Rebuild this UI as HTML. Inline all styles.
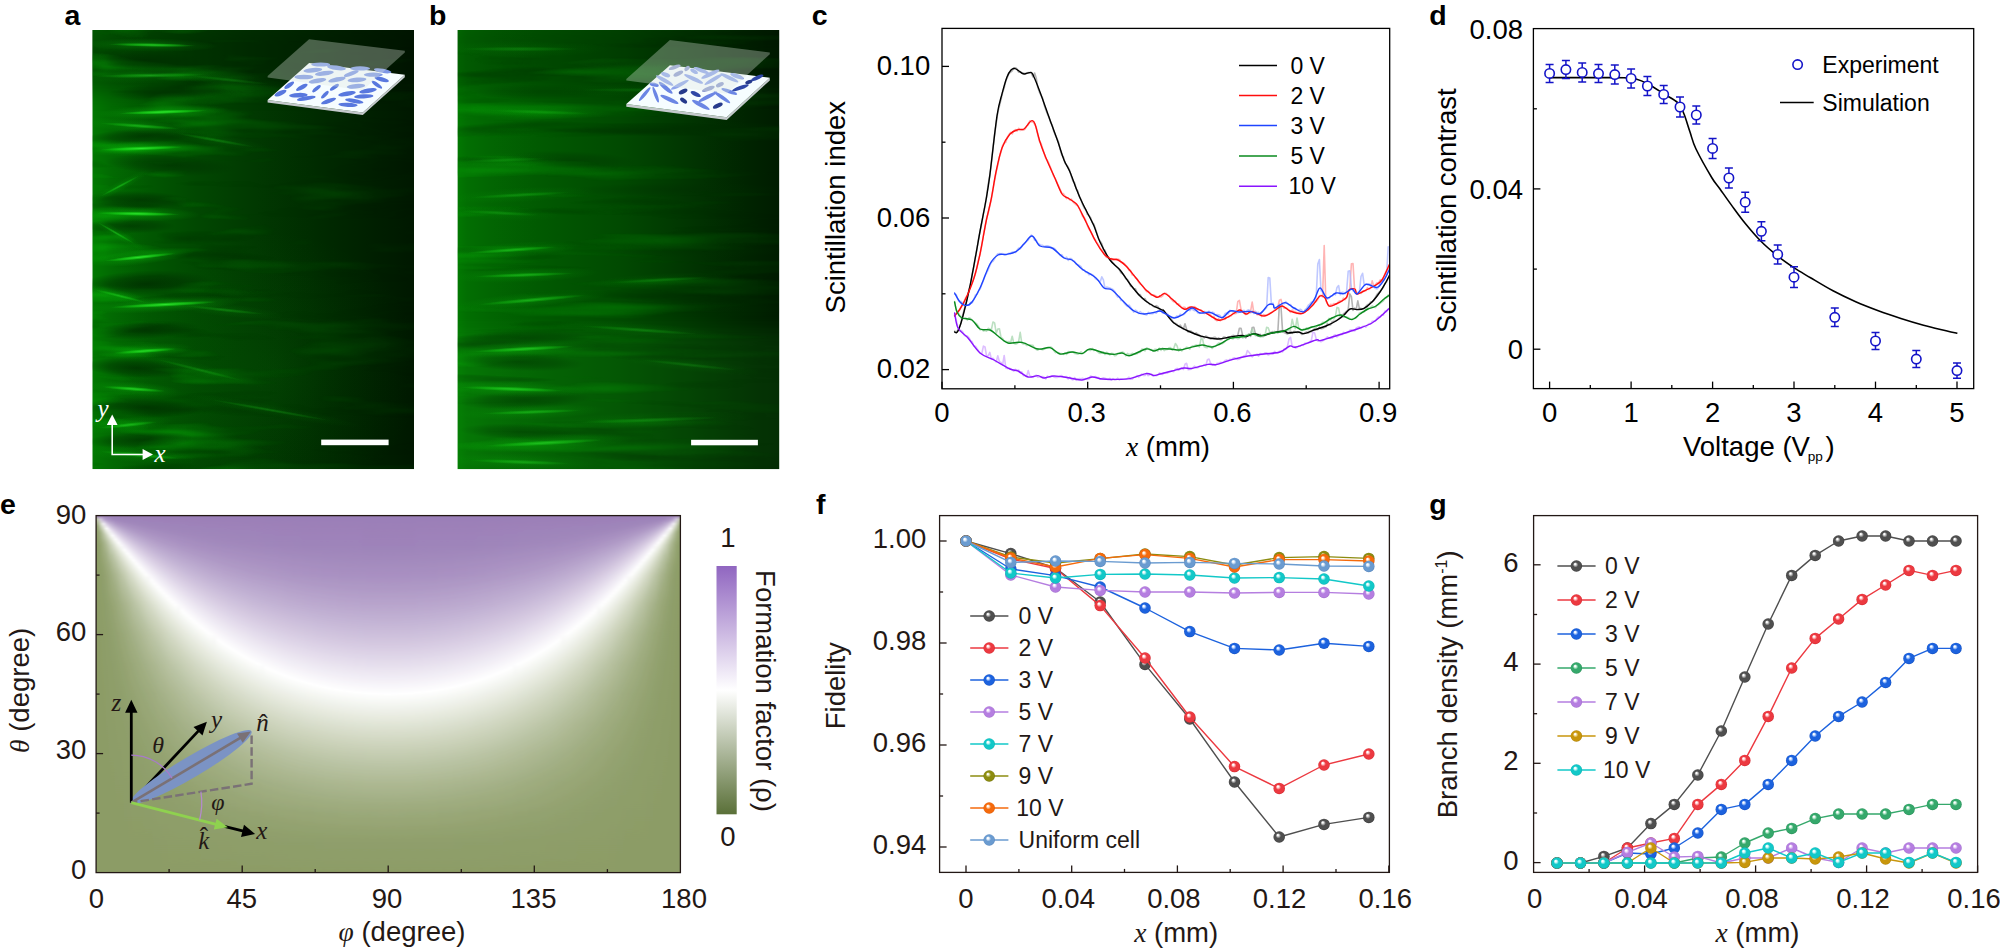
<!DOCTYPE html>
<html><head><meta charset="utf-8"><title>Figure</title>
<style>html,body{margin:0;padding:0;background:#fff;overflow:hidden}svg{display:block}text{white-space:pre}</style></head>
<body>
<svg width="2000" height="951" viewBox="0 0 2000 951">
<rect width="2000" height="951" fill="#fff"/>
<defs>
<filter id="blur8" x="-20%" y="-50%" width="140%" height="200%"><feGaussianBlur stdDeviation="10"/></filter>
<filter id="blur3" x="-30%" y="-100%" width="160%" height="300%"><feGaussianBlur stdDeviation="3.5"/></filter>
<filter id="blur2" x="-30%" y="-300%" width="160%" height="700%"><feGaussianBlur stdDeviation="2.2 1.3"/></filter>
<radialGradient id="rgB"><stop offset="0" stop-color="#12d812" stop-opacity="1"/><stop offset="0.5" stop-color="#0ecc0e" stop-opacity="0.45"/><stop offset="1" stop-color="#08c008" stop-opacity="0"/></radialGradient>
<radialGradient id="rgC"><stop offset="0" stop-color="#34f034" stop-opacity="1"/><stop offset="0.55" stop-color="#1ce41c" stop-opacity="0.6"/><stop offset="1" stop-color="#12d812" stop-opacity="0"/></radialGradient>
<radialGradient id="rgD"><stop offset="0" stop-color="#002c00" stop-opacity="1"/><stop offset="0.55" stop-color="#002e00" stop-opacity="0.6"/><stop offset="1" stop-color="#003000" stop-opacity="0"/></radialGradient>
<filter id="fta" x="0" y="0" width="1" height="1" color-interpolation-filters="sRGB"><feTurbulence type="fractalNoise" baseFrequency="0.007 0.05" numOctaves="3" seed="11" result="n"/><feColorMatrix in="n" type="matrix" values="0 0 0 0 0.04  0 0 0 0 0.86  0 0 0 0 0.04  0 2.2 0 0 -1.2" result="b"/><feColorMatrix in="n" type="matrix" values="0 0 0 0 0  0 0 0 0 0.08  0 0 0 0 0  -2.4 0 0 0 1.0" result="d"/><feMerge result="m"><feMergeNode in="d"/><feMergeNode in="b"/></feMerge><feComposite in="m" in2="SourceGraphic" operator="in"/></filter>
<filter id="ftb" x="0" y="0" width="1" height="1" color-interpolation-filters="sRGB"><feTurbulence type="fractalNoise" baseFrequency="0.0035 0.05" numOctaves="3" seed="4" result="n"/><feColorMatrix in="n" type="matrix" values="0 0 0 0 0.04  0 0 0 0 0.86  0 0 0 0 0.04  0 1.5 0 0 -0.82" result="b"/><feColorMatrix in="n" type="matrix" values="0 0 0 0 0  0 0 0 0 0.08  0 0 0 0 0  -2.2 0 0 0 0.92" result="d"/><feMerge result="m"><feMergeNode in="d"/><feMergeNode in="b"/></feMerge><feComposite in="m" in2="SourceGraphic" operator="in"/></filter>
<clipPath id="cpa"><rect x="92.3" y="30" width="321.7" height="439.2"/></clipPath>
<linearGradient id="gga" x1="0" x2="1" y1="0" y2="0"><stop offset="0" stop-color="#027802"/><stop offset="0.06" stop-color="#026a02"/><stop offset="0.18" stop-color="#015701"/><stop offset="0.33" stop-color="#014701"/><stop offset="0.5" stop-color="#013901"/><stop offset="0.7" stop-color="#002b00"/><stop offset="0.88" stop-color="#001f00"/><stop offset="1" stop-color="#001800"/></linearGradient>
<linearGradient id="gma" x1="0" x2="1" y1="0" y2="0"><stop offset="0" stop-color="#fff" stop-opacity="0.4"/><stop offset="0.04" stop-color="#fff" stop-opacity="0.6"/><stop offset="0.22" stop-color="#fff" stop-opacity="0.6"/><stop offset="0.36" stop-color="#fff" stop-opacity="0.4"/><stop offset="0.55" stop-color="#fff" stop-opacity="0.2"/><stop offset="1" stop-color="#fff" stop-opacity="0.1"/></linearGradient>
<clipPath id="cpb"><rect x="457.4" y="30" width="322" height="439.2"/></clipPath>
<linearGradient id="ggb" x1="0" x2="1" y1="0" y2="0"><stop offset="0" stop-color="#027802"/><stop offset="0.03" stop-color="#026e02"/><stop offset="0.1" stop-color="#026602"/><stop offset="0.25" stop-color="#015a01"/><stop offset="0.5" stop-color="#014a01"/><stop offset="0.75" stop-color="#013201"/><stop offset="0.9" stop-color="#002400"/><stop offset="1" stop-color="#001c00"/></linearGradient>
<linearGradient id="gmb" x1="0" x2="1" y1="0" y2="0"><stop offset="0" stop-color="#fff" stop-opacity="0.55"/><stop offset="0.05" stop-color="#fff" stop-opacity="0.7"/><stop offset="0.4" stop-color="#fff" stop-opacity="0.55"/><stop offset="0.7" stop-color="#fff" stop-opacity="0.35"/><stop offset="1" stop-color="#fff" stop-opacity="0.22"/></linearGradient>
<clipPath id="cpc"><rect x="942" y="28.4" width="447.70000000000005" height="360.40000000000003"/></clipPath>
<linearGradient id="h0" x1="0" y1="0" x2="0" y2="1"><stop offset="0.0000" stop-color="#9a7eb7"/><stop offset="0.0102" stop-color="#bac3a3"/><stop offset="0.0292" stop-color="#92a16e"/><stop offset="0.0833" stop-color="#8c9c66"/><stop offset="0.1667" stop-color="#8b9b65"/><stop offset="0.2500" stop-color="#8b9b65"/><stop offset="0.3333" stop-color="#8b9b65"/><stop offset="0.4167" stop-color="#8b9b65"/><stop offset="0.5000" stop-color="#8b9b65"/><stop offset="0.5833" stop-color="#8b9b65"/><stop offset="0.6667" stop-color="#8b9b65"/><stop offset="0.7500" stop-color="#8b9b65"/><stop offset="0.8333" stop-color="#8b9b65"/><stop offset="0.9167" stop-color="#8b9b65"/><stop offset="1.0000" stop-color="#8b9b65"/></linearGradient>
<linearGradient id="h1" x1="0" y1="0" x2="0" y2="1"><stop offset="0.0000" stop-color="#9a7eb7"/><stop offset="0.0101" stop-color="#d7cce2"/><stop offset="0.0236" stop-color="#d0d7c1"/><stop offset="0.0461" stop-color="#a2af84"/><stop offset="0.0833" stop-color="#93a26f"/><stop offset="0.1667" stop-color="#8d9d67"/><stop offset="0.2500" stop-color="#8c9c66"/><stop offset="0.3333" stop-color="#8b9b66"/><stop offset="0.4167" stop-color="#8b9b65"/><stop offset="0.5000" stop-color="#8b9b65"/><stop offset="0.5833" stop-color="#8b9b65"/><stop offset="0.6667" stop-color="#8b9b65"/><stop offset="0.7500" stop-color="#8b9b65"/><stop offset="0.8333" stop-color="#8b9b65"/><stop offset="0.9167" stop-color="#8b9b65"/><stop offset="1.0000" stop-color="#8b9b65"/></linearGradient>
<linearGradient id="h2" x1="0" y1="0" x2="0" y2="1"><stop offset="0.0000" stop-color="#9a7eb7"/><stop offset="0.0128" stop-color="#c2b1d4"/><stop offset="0.0232" stop-color="#f5f2f8"/><stop offset="0.0391" stop-color="#d1d7c2"/><stop offset="0.0512" stop-color="#b9c3a3"/><stop offset="0.0767" stop-color="#a2af84"/><stop offset="0.1434" stop-color="#92a16e"/><stop offset="0.1667" stop-color="#909f6c"/><stop offset="0.2500" stop-color="#8d9d68"/><stop offset="0.3333" stop-color="#8c9c66"/><stop offset="0.4167" stop-color="#8c9c66"/><stop offset="0.5000" stop-color="#8b9b65"/><stop offset="0.5833" stop-color="#8b9b65"/><stop offset="0.6667" stop-color="#8b9b65"/><stop offset="0.7500" stop-color="#8b9b65"/><stop offset="0.8333" stop-color="#8b9b65"/><stop offset="0.9167" stop-color="#8b9b65"/><stop offset="1.0000" stop-color="#8b9b65"/></linearGradient>
<linearGradient id="h3" x1="0" y1="0" x2="0" y2="1"><stop offset="0.0000" stop-color="#9a7eb7"/><stop offset="0.0120" stop-color="#ae98c5"/><stop offset="0.0236" stop-color="#d7cce2"/><stop offset="0.0359" stop-color="#ffffff"/><stop offset="0.0548" stop-color="#d1d7c1"/><stop offset="0.0716" stop-color="#b9c3a3"/><stop offset="0.0833" stop-color="#afba95"/><stop offset="0.1068" stop-color="#a2af84"/><stop offset="0.1667" stop-color="#95a372"/><stop offset="0.1977" stop-color="#92a16e"/><stop offset="0.2500" stop-color="#8f9f6b"/><stop offset="0.3333" stop-color="#8d9d68"/><stop offset="0.4167" stop-color="#8c9c67"/><stop offset="0.5000" stop-color="#8c9c66"/><stop offset="0.5833" stop-color="#8b9b66"/><stop offset="0.6667" stop-color="#8b9b65"/><stop offset="0.7500" stop-color="#8b9b65"/><stop offset="0.8333" stop-color="#8b9b65"/><stop offset="0.9167" stop-color="#8b9b65"/><stop offset="1.0000" stop-color="#8b9b65"/></linearGradient>
<linearGradient id="h4" x1="0" y1="0" x2="0" y2="1"><stop offset="0.0000" stop-color="#9a7eb7"/><stop offset="0.0153" stop-color="#ae98c5"/><stop offset="0.0302" stop-color="#d7cbe2"/><stop offset="0.0417" stop-color="#f5f2f8"/><stop offset="0.0509" stop-color="#f3f5f0"/><stop offset="0.0702" stop-color="#d1d7c1"/><stop offset="0.0833" stop-color="#c1caad"/><stop offset="0.1363" stop-color="#a2af84"/><stop offset="0.1667" stop-color="#9ba97a"/><stop offset="0.2490" stop-color="#92a16e"/><stop offset="0.3333" stop-color="#8f9e6a"/><stop offset="0.4167" stop-color="#8d9d68"/><stop offset="0.5000" stop-color="#8c9c67"/><stop offset="0.5833" stop-color="#8c9c66"/><stop offset="0.6667" stop-color="#8b9b66"/><stop offset="0.7500" stop-color="#8b9b65"/><stop offset="0.8333" stop-color="#8b9b65"/><stop offset="0.9167" stop-color="#8b9b65"/><stop offset="1.0000" stop-color="#8b9b65"/></linearGradient>
<linearGradient id="h5" x1="0" y1="0" x2="0" y2="1"><stop offset="0.0000" stop-color="#9a7eb7"/><stop offset="0.0099" stop-color="#a086bb"/><stop offset="0.0282" stop-color="#c2b2d4"/><stop offset="0.0460" stop-color="#ebe5f1"/><stop offset="0.0562" stop-color="#ffffff"/><stop offset="0.0688" stop-color="#e8ebe0"/><stop offset="0.0833" stop-color="#d3d9c5"/><stop offset="0.1117" stop-color="#b9c3a3"/><stop offset="0.1653" stop-color="#a2af84"/><stop offset="0.2500" stop-color="#95a472"/><stop offset="0.2971" stop-color="#92a16e"/><stop offset="0.3333" stop-color="#90a06c"/><stop offset="0.4167" stop-color="#8e9e69"/><stop offset="0.5000" stop-color="#8d9d67"/><stop offset="0.5833" stop-color="#8c9c66"/><stop offset="0.6667" stop-color="#8c9c66"/><stop offset="0.7500" stop-color="#8b9b65"/><stop offset="0.8333" stop-color="#8b9b65"/><stop offset="0.9167" stop-color="#8b9b65"/><stop offset="1.0000" stop-color="#8b9b65"/></linearGradient>
<linearGradient id="h6" x1="0" y1="0" x2="0" y2="1"><stop offset="0.0000" stop-color="#9a7eb7"/><stop offset="0.0117" stop-color="#a086bb"/><stop offset="0.0222" stop-color="#ae98c5"/><stop offset="0.0333" stop-color="#c3b2d4"/><stop offset="0.0436" stop-color="#d7cbe2"/><stop offset="0.0542" stop-color="#ebe5f1"/><stop offset="0.0663" stop-color="#ffffff"/><stop offset="0.0811" stop-color="#e8ebe0"/><stop offset="0.1009" stop-color="#d1d7c1"/><stop offset="0.1313" stop-color="#b9c3a3"/><stop offset="0.1667" stop-color="#aab58e"/><stop offset="0.1937" stop-color="#a2af84"/><stop offset="0.2500" stop-color="#99a777"/><stop offset="0.3333" stop-color="#92a16f"/><stop offset="0.4167" stop-color="#8f9f6b"/><stop offset="0.5000" stop-color="#8e9d68"/><stop offset="0.5833" stop-color="#8c9c67"/><stop offset="0.6667" stop-color="#8c9c66"/><stop offset="0.7500" stop-color="#8b9b66"/><stop offset="0.8333" stop-color="#8b9b65"/><stop offset="0.9167" stop-color="#8b9b65"/><stop offset="1.0000" stop-color="#8b9b65"/></linearGradient>
<linearGradient id="h7" x1="0" y1="0" x2="0" y2="1"><stop offset="0.0000" stop-color="#9a7eb7"/><stop offset="0.0136" stop-color="#a086bb"/><stop offset="0.0256" stop-color="#ae98c5"/><stop offset="0.0383" stop-color="#c2b2d4"/><stop offset="0.0502" stop-color="#d7cbe2"/><stop offset="0.0626" stop-color="#ebe5f1"/><stop offset="0.0764" stop-color="#ffffff"/><stop offset="0.0934" stop-color="#e8ebe0"/><stop offset="0.1160" stop-color="#d1d7c1"/><stop offset="0.1508" stop-color="#b9c3a3"/><stop offset="0.1667" stop-color="#b2bd99"/><stop offset="0.2211" stop-color="#a2af84"/><stop offset="0.2500" stop-color="#9dab7d"/><stop offset="0.3333" stop-color="#95a372"/><stop offset="0.3829" stop-color="#92a16e"/><stop offset="0.4167" stop-color="#91a06c"/><stop offset="0.5000" stop-color="#8e9e69"/><stop offset="0.5833" stop-color="#8d9d68"/><stop offset="0.6667" stop-color="#8c9c66"/><stop offset="0.7500" stop-color="#8c9b66"/><stop offset="0.8333" stop-color="#8b9b65"/><stop offset="0.9167" stop-color="#8b9b65"/><stop offset="1.0000" stop-color="#8b9b65"/></linearGradient>
<linearGradient id="h8" x1="0" y1="0" x2="0" y2="1"><stop offset="0.0000" stop-color="#9a7eb7"/><stop offset="0.0153" stop-color="#a086bb"/><stop offset="0.0290" stop-color="#ae98c5"/><stop offset="0.0434" stop-color="#c2b2d4"/><stop offset="0.0568" stop-color="#d7cbe2"/><stop offset="0.0708" stop-color="#ebe5f1"/><stop offset="0.0833" stop-color="#fbfafc"/><stop offset="0.0954" stop-color="#f3f5f0"/><stop offset="0.1056" stop-color="#e8ebe0"/><stop offset="0.1310" stop-color="#d1d7c1"/><stop offset="0.1667" stop-color="#bbc4a5"/><stop offset="0.2478" stop-color="#a2af84"/><stop offset="0.3333" stop-color="#97a675"/><stop offset="0.4167" stop-color="#92a16e"/><stop offset="0.5000" stop-color="#8f9f6b"/><stop offset="0.5833" stop-color="#8e9d68"/><stop offset="0.6667" stop-color="#8c9c67"/><stop offset="0.7500" stop-color="#8c9c66"/><stop offset="0.8333" stop-color="#8b9b65"/><stop offset="0.9167" stop-color="#8b9b65"/><stop offset="1.0000" stop-color="#8b9b65"/></linearGradient>
<linearGradient id="h9" x1="0" y1="0" x2="0" y2="1"><stop offset="0.0000" stop-color="#9a7eb7"/><stop offset="0.0171" stop-color="#a086bb"/><stop offset="0.0323" stop-color="#ae98c5"/><stop offset="0.0484" stop-color="#c2b2d4"/><stop offset="0.0634" stop-color="#d7cbe2"/><stop offset="0.0789" stop-color="#ebe5f1"/><stop offset="0.0964" stop-color="#ffffff"/><stop offset="0.1064" stop-color="#f3f5f0"/><stop offset="0.1177" stop-color="#e8ebe0"/><stop offset="0.1458" stop-color="#d1d7c1"/><stop offset="0.1667" stop-color="#c4ccb0"/><stop offset="0.1887" stop-color="#b9c3a3"/><stop offset="0.2500" stop-color="#a7b38a"/><stop offset="0.2733" stop-color="#a2af84"/><stop offset="0.3333" stop-color="#9aa879"/><stop offset="0.4167" stop-color="#94a371"/><stop offset="0.4551" stop-color="#92a16e"/><stop offset="0.5000" stop-color="#90a06c"/><stop offset="0.5833" stop-color="#8e9e69"/><stop offset="0.6667" stop-color="#8d9d67"/><stop offset="0.7500" stop-color="#8c9c66"/><stop offset="0.8333" stop-color="#8b9b66"/><stop offset="0.9167" stop-color="#8b9b65"/><stop offset="1.0000" stop-color="#8b9b65"/></linearGradient>
<linearGradient id="h10" x1="0" y1="0" x2="0" y2="1"><stop offset="0.0000" stop-color="#9a7eb7"/><stop offset="0.0189" stop-color="#a086bb"/><stop offset="0.0358" stop-color="#ae98c5"/><stop offset="0.0536" stop-color="#c2b2d4"/><stop offset="0.0700" stop-color="#d7cbe2"/><stop offset="0.0833" stop-color="#e7e0ee"/><stop offset="0.0963" stop-color="#f5f2f8"/><stop offset="0.1063" stop-color="#ffffff"/><stop offset="0.1173" stop-color="#f3f5f0"/><stop offset="0.1296" stop-color="#e8ebe0"/><stop offset="0.1604" stop-color="#d1d7c1"/><stop offset="0.2070" stop-color="#b9c3a3"/><stop offset="0.2500" stop-color="#acb791"/><stop offset="0.2980" stop-color="#a2af84"/><stop offset="0.3333" stop-color="#9dab7d"/><stop offset="0.4167" stop-color="#96a473"/><stop offset="0.4864" stop-color="#92a16e"/><stop offset="0.5000" stop-color="#91a16e"/><stop offset="0.5833" stop-color="#8f9e6a"/><stop offset="0.6667" stop-color="#8d9d68"/><stop offset="0.7500" stop-color="#8c9c66"/><stop offset="0.8333" stop-color="#8b9b66"/><stop offset="0.9167" stop-color="#8b9b65"/><stop offset="1.0000" stop-color="#8b9b65"/></linearGradient>
<linearGradient id="h11" x1="0" y1="0" x2="0" y2="1"><stop offset="0.0000" stop-color="#9a7eb7"/><stop offset="0.0207" stop-color="#a086bb"/><stop offset="0.0391" stop-color="#ae98c5"/><stop offset="0.0586" stop-color="#c2b2d4"/><stop offset="0.0764" stop-color="#d7cbe2"/><stop offset="0.0951" stop-color="#ebe5f1"/><stop offset="0.1052" stop-color="#f5f2f8"/><stop offset="0.1161" stop-color="#ffffff"/><stop offset="0.1280" stop-color="#f3f5f0"/><stop offset="0.1414" stop-color="#e8ebe0"/><stop offset="0.1667" stop-color="#d6dbc8"/><stop offset="0.2250" stop-color="#b9c3a3"/><stop offset="0.2500" stop-color="#b1bc98"/><stop offset="0.3218" stop-color="#a2af84"/><stop offset="0.3333" stop-color="#a0ae82"/><stop offset="0.4167" stop-color="#98a676"/><stop offset="0.5000" stop-color="#93a26f"/><stop offset="0.5151" stop-color="#92a16e"/><stop offset="0.5833" stop-color="#909f6b"/><stop offset="0.6667" stop-color="#8e9d68"/><stop offset="0.7500" stop-color="#8c9c67"/><stop offset="0.8333" stop-color="#8c9b66"/><stop offset="0.9167" stop-color="#8b9b65"/><stop offset="1.0000" stop-color="#8b9b65"/></linearGradient>
<linearGradient id="h12" x1="0" y1="0" x2="0" y2="1"><stop offset="0.0000" stop-color="#9a7eb7"/><stop offset="0.0224" stop-color="#a086bb"/><stop offset="0.0424" stop-color="#ae98c5"/><stop offset="0.0636" stop-color="#c2b2d4"/><stop offset="0.0830" stop-color="#d7cbe2"/><stop offset="0.1032" stop-color="#ebe5f1"/><stop offset="0.1141" stop-color="#f5f2f8"/><stop offset="0.1258" stop-color="#ffffff"/><stop offset="0.1387" stop-color="#f3f5f0"/><stop offset="0.1531" stop-color="#e8ebe0"/><stop offset="0.1667" stop-color="#dee3d3"/><stop offset="0.1890" stop-color="#d1d7c1"/><stop offset="0.2426" stop-color="#b9c3a3"/><stop offset="0.3333" stop-color="#a4b086"/><stop offset="0.3444" stop-color="#a2af84"/><stop offset="0.4167" stop-color="#9aa879"/><stop offset="0.5000" stop-color="#94a371"/><stop offset="0.5412" stop-color="#92a16e"/><stop offset="0.5833" stop-color="#90a06c"/><stop offset="0.6667" stop-color="#8e9e69"/><stop offset="0.7500" stop-color="#8d9c67"/><stop offset="0.8333" stop-color="#8c9c66"/><stop offset="0.9167" stop-color="#8b9b65"/><stop offset="1.0000" stop-color="#8b9b65"/></linearGradient>
<linearGradient id="h13" x1="0" y1="0" x2="0" y2="1"><stop offset="0.0000" stop-color="#9a7eb7"/><stop offset="0.0242" stop-color="#a086bb"/><stop offset="0.0458" stop-color="#ae98c5"/><stop offset="0.0686" stop-color="#c2b2d4"/><stop offset="0.0833" stop-color="#d1c4de"/><stop offset="0.1111" stop-color="#ebe5f1"/><stop offset="0.1229" stop-color="#f5f2f8"/><stop offset="0.1354" stop-color="#ffffff"/><stop offset="0.1492" stop-color="#f3f5f0"/><stop offset="0.1647" stop-color="#e8ebe0"/><stop offset="0.2029" stop-color="#d1d7c1"/><stop offset="0.2500" stop-color="#bdc6a7"/><stop offset="0.2597" stop-color="#b9c3a3"/><stop offset="0.3333" stop-color="#a7b48b"/><stop offset="0.3661" stop-color="#a2af84"/><stop offset="0.4167" stop-color="#9caa7c"/><stop offset="0.5000" stop-color="#95a473"/><stop offset="0.5650" stop-color="#92a16e"/><stop offset="0.5833" stop-color="#91a06d"/><stop offset="0.6667" stop-color="#8f9e6a"/><stop offset="0.7500" stop-color="#8d9d67"/><stop offset="0.8333" stop-color="#8c9c66"/><stop offset="0.9167" stop-color="#8b9b65"/><stop offset="1.0000" stop-color="#8b9b65"/></linearGradient>
<linearGradient id="h14" x1="0" y1="0" x2="0" y2="1"><stop offset="0.0000" stop-color="#9a7eb7"/><stop offset="0.0259" stop-color="#a086bb"/><stop offset="0.0491" stop-color="#ae98c5"/><stop offset="0.0734" stop-color="#c2b2d4"/><stop offset="0.0833" stop-color="#cbbdda"/><stop offset="0.0959" stop-color="#d7cbe2"/><stop offset="0.1191" stop-color="#ebe5f1"/><stop offset="0.1316" stop-color="#f5f2f8"/><stop offset="0.1450" stop-color="#ffffff"/><stop offset="0.1597" stop-color="#f3f5f0"/><stop offset="0.1761" stop-color="#e8ebe0"/><stop offset="0.2166" stop-color="#d1d7c1"/><stop offset="0.2500" stop-color="#c2cbae"/><stop offset="0.2763" stop-color="#b9c3a3"/><stop offset="0.3333" stop-color="#abb790"/><stop offset="0.3868" stop-color="#a2af84"/><stop offset="0.4167" stop-color="#9eac7f"/><stop offset="0.5000" stop-color="#97a575"/><stop offset="0.5833" stop-color="#92a16e"/><stop offset="0.6667" stop-color="#8f9f6a"/><stop offset="0.7500" stop-color="#8d9d68"/><stop offset="0.8333" stop-color="#8c9c66"/><stop offset="0.9167" stop-color="#8b9b65"/><stop offset="1.0000" stop-color="#8b9b65"/></linearGradient>
<linearGradient id="h15" x1="0" y1="0" x2="0" y2="1"><stop offset="0.0000" stop-color="#9a7eb7"/><stop offset="0.0277" stop-color="#a086bb"/><stop offset="0.0523" stop-color="#ae98c5"/><stop offset="0.0783" stop-color="#c2b2d4"/><stop offset="0.1022" stop-color="#d7cbe2"/><stop offset="0.1269" stop-color="#ebe5f1"/><stop offset="0.1401" stop-color="#f5f2f8"/><stop offset="0.1544" stop-color="#ffffff"/><stop offset="0.1667" stop-color="#f6f7f3"/><stop offset="0.1873" stop-color="#e8ebe0"/><stop offset="0.2300" stop-color="#d1d7c1"/><stop offset="0.2500" stop-color="#c8d0b6"/><stop offset="0.2926" stop-color="#b9c3a3"/><stop offset="0.3333" stop-color="#afba95"/><stop offset="0.4064" stop-color="#a2af84"/><stop offset="0.4167" stop-color="#a1ae82"/><stop offset="0.5000" stop-color="#98a777"/><stop offset="0.5833" stop-color="#93a270"/><stop offset="0.6067" stop-color="#92a16e"/><stop offset="0.6667" stop-color="#909f6b"/><stop offset="0.7500" stop-color="#8d9d68"/><stop offset="0.8333" stop-color="#8c9c66"/><stop offset="0.9167" stop-color="#8b9b65"/><stop offset="1.0000" stop-color="#8b9b65"/></linearGradient>
<linearGradient id="h16" x1="0" y1="0" x2="0" y2="1"><stop offset="0.0000" stop-color="#9a7eb7"/><stop offset="0.0294" stop-color="#a086bb"/><stop offset="0.0557" stop-color="#ae98c5"/><stop offset="0.0832" stop-color="#c2b2d4"/><stop offset="0.1086" stop-color="#d7cbe2"/><stop offset="0.1347" stop-color="#ebe5f1"/><stop offset="0.1487" stop-color="#f5f2f8"/><stop offset="0.1638" stop-color="#ffffff"/><stop offset="0.1801" stop-color="#f3f5f0"/><stop offset="0.1984" stop-color="#e8ebe0"/><stop offset="0.2432" stop-color="#d1d7c1"/><stop offset="0.3083" stop-color="#b9c3a3"/><stop offset="0.3333" stop-color="#b3bd9a"/><stop offset="0.4167" stop-color="#a3b085"/><stop offset="0.5000" stop-color="#9aa879"/><stop offset="0.5833" stop-color="#94a371"/><stop offset="0.6248" stop-color="#92a16e"/><stop offset="0.6667" stop-color="#90a06c"/><stop offset="0.7500" stop-color="#8e9d69"/><stop offset="0.8333" stop-color="#8c9c67"/><stop offset="0.9167" stop-color="#8b9b65"/><stop offset="1.0000" stop-color="#8b9b65"/></linearGradient>
<linearGradient id="h17" x1="0" y1="0" x2="0" y2="1"><stop offset="0.0000" stop-color="#9a7eb7"/><stop offset="0.0311" stop-color="#a086bb"/><stop offset="0.0589" stop-color="#ae98c5"/><stop offset="0.0833" stop-color="#bfadd1"/><stop offset="0.1148" stop-color="#d7cbe2"/><stop offset="0.1423" stop-color="#ebe5f1"/><stop offset="0.1571" stop-color="#f5f2f8"/><stop offset="0.1667" stop-color="#fbfafc"/><stop offset="0.1902" stop-color="#f3f5f0"/><stop offset="0.2093" stop-color="#e8ebe0"/><stop offset="0.2500" stop-color="#d3d9c5"/><stop offset="0.3236" stop-color="#b9c3a3"/><stop offset="0.3333" stop-color="#b7c19f"/><stop offset="0.4167" stop-color="#a6b289"/><stop offset="0.4431" stop-color="#a2af84"/><stop offset="0.5000" stop-color="#9ca97b"/><stop offset="0.5833" stop-color="#95a472"/><stop offset="0.6414" stop-color="#92a16e"/><stop offset="0.6667" stop-color="#91a06d"/><stop offset="0.7500" stop-color="#8e9e69"/><stop offset="0.8333" stop-color="#8c9c67"/><stop offset="0.9167" stop-color="#8b9b65"/><stop offset="1.0000" stop-color="#8b9b65"/></linearGradient>
<linearGradient id="h18" x1="0" y1="0" x2="0" y2="1"><stop offset="0.0000" stop-color="#9a7eb7"/><stop offset="0.0329" stop-color="#a086bb"/><stop offset="0.0622" stop-color="#ae98c5"/><stop offset="0.0833" stop-color="#bca9cf"/><stop offset="0.0929" stop-color="#c2b2d4"/><stop offset="0.1210" stop-color="#d7cbe2"/><stop offset="0.1500" stop-color="#ebe5f1"/><stop offset="0.1654" stop-color="#f5f2f8"/><stop offset="0.1820" stop-color="#ffffff"/><stop offset="0.2001" stop-color="#f3f5f0"/><stop offset="0.2200" stop-color="#e8ebe0"/><stop offset="0.2500" stop-color="#d9decc"/><stop offset="0.2687" stop-color="#d1d7c1"/><stop offset="0.3333" stop-color="#bbc4a4"/><stop offset="0.4167" stop-color="#a9b58c"/><stop offset="0.4601" stop-color="#a2af84"/><stop offset="0.5000" stop-color="#9dab7e"/><stop offset="0.5833" stop-color="#96a574"/><stop offset="0.6568" stop-color="#92a16e"/><stop offset="0.6667" stop-color="#91a16e"/><stop offset="0.7500" stop-color="#8e9e6a"/><stop offset="0.8333" stop-color="#8c9c67"/><stop offset="0.9167" stop-color="#8b9b65"/><stop offset="1.0000" stop-color="#8b9b65"/></linearGradient>
<linearGradient id="h19" x1="0" y1="0" x2="0" y2="1"><stop offset="0.0000" stop-color="#9a7eb7"/><stop offset="0.0346" stop-color="#a086bb"/><stop offset="0.0654" stop-color="#ae98c5"/><stop offset="0.0833" stop-color="#b9a6cd"/><stop offset="0.0977" stop-color="#c2b2d4"/><stop offset="0.1272" stop-color="#d7cbe2"/><stop offset="0.1576" stop-color="#ebe5f1"/><stop offset="0.1667" stop-color="#f1edf5"/><stop offset="0.1910" stop-color="#ffffff"/><stop offset="0.2098" stop-color="#f3f5f0"/><stop offset="0.2306" stop-color="#e8ebe0"/><stop offset="0.2500" stop-color="#dee3d3"/><stop offset="0.2810" stop-color="#d1d7c1"/><stop offset="0.3333" stop-color="#bfc8aa"/><stop offset="0.3528" stop-color="#b9c3a3"/><stop offset="0.4167" stop-color="#abb790"/><stop offset="0.4763" stop-color="#a2af84"/><stop offset="0.5000" stop-color="#9fac80"/><stop offset="0.5833" stop-color="#97a675"/><stop offset="0.6667" stop-color="#92a16f"/><stop offset="0.7500" stop-color="#8f9e6a"/><stop offset="0.8333" stop-color="#8d9c67"/><stop offset="0.9167" stop-color="#8b9b66"/><stop offset="1.0000" stop-color="#8b9b65"/></linearGradient>
<linearGradient id="h20" x1="0" y1="0" x2="0" y2="1"><stop offset="0.0000" stop-color="#9a7eb7"/><stop offset="0.0363" stop-color="#a086bb"/><stop offset="0.0687" stop-color="#ae98c5"/><stop offset="0.0833" stop-color="#b7a2cb"/><stop offset="0.1024" stop-color="#c2b2d4"/><stop offset="0.1333" stop-color="#d7cbe2"/><stop offset="0.1650" stop-color="#ebe5f1"/><stop offset="0.1819" stop-color="#f5f2f8"/><stop offset="0.1999" stop-color="#ffffff"/><stop offset="0.2194" stop-color="#f3f5f0"/><stop offset="0.2409" stop-color="#e8ebe0"/><stop offset="0.2500" stop-color="#e3e7da"/><stop offset="0.2931" stop-color="#d1d7c1"/><stop offset="0.3333" stop-color="#c3cbaf"/><stop offset="0.3667" stop-color="#b9c3a3"/><stop offset="0.4167" stop-color="#aeb994"/><stop offset="0.4917" stop-color="#a2af84"/><stop offset="0.5833" stop-color="#99a777"/><stop offset="0.6667" stop-color="#93a26f"/><stop offset="0.6840" stop-color="#92a16e"/><stop offset="0.7500" stop-color="#8f9f6a"/><stop offset="0.8333" stop-color="#8d9d67"/><stop offset="0.9167" stop-color="#8b9b66"/><stop offset="1.0000" stop-color="#8b9b65"/></linearGradient>
<linearGradient id="h21" x1="0" y1="0" x2="0" y2="1"><stop offset="0.0000" stop-color="#9a7eb7"/><stop offset="0.0380" stop-color="#a086bb"/><stop offset="0.0718" stop-color="#ae98c5"/><stop offset="0.0833" stop-color="#b4a0ca"/><stop offset="0.1071" stop-color="#c2b2d4"/><stop offset="0.1393" stop-color="#d7cbe2"/><stop offset="0.1667" stop-color="#e7e1ee"/><stop offset="0.1899" stop-color="#f5f2f8"/><stop offset="0.2086" stop-color="#ffffff"/><stop offset="0.2288" stop-color="#f3f5f0"/><stop offset="0.2500" stop-color="#e8ebe1"/><stop offset="0.3049" stop-color="#d1d7c1"/><stop offset="0.3333" stop-color="#c7ceb4"/><stop offset="0.3801" stop-color="#b9c3a3"/><stop offset="0.4167" stop-color="#b1bc98"/><stop offset="0.5000" stop-color="#a3b085"/><stop offset="0.5833" stop-color="#9aa879"/><stop offset="0.6667" stop-color="#94a270"/><stop offset="0.6960" stop-color="#92a16e"/><stop offset="0.7500" stop-color="#909f6b"/><stop offset="0.8333" stop-color="#8d9d68"/><stop offset="0.9167" stop-color="#8b9b66"/><stop offset="1.0000" stop-color="#8b9b65"/></linearGradient>
<linearGradient id="h22" x1="0" y1="0" x2="0" y2="1"><stop offset="0.0000" stop-color="#9a7eb7"/><stop offset="0.0397" stop-color="#a086bb"/><stop offset="0.0750" stop-color="#ae98c5"/><stop offset="0.1119" stop-color="#c2b2d4"/><stop offset="0.1453" stop-color="#d7cbe2"/><stop offset="0.1667" stop-color="#e3dceb"/><stop offset="0.1797" stop-color="#ebe5f1"/><stop offset="0.1978" stop-color="#f5f2f8"/><stop offset="0.2172" stop-color="#ffffff"/><stop offset="0.2381" stop-color="#f3f5f0"/><stop offset="0.2500" stop-color="#edf0e7"/><stop offset="0.2611" stop-color="#e8ebe0"/><stop offset="0.3163" stop-color="#d1d7c1"/><stop offset="0.3333" stop-color="#cbd2ba"/><stop offset="0.3931" stop-color="#b9c3a3"/><stop offset="0.4167" stop-color="#b4be9b"/><stop offset="0.5000" stop-color="#a5b187"/><stop offset="0.5200" stop-color="#a2af84"/><stop offset="0.5833" stop-color="#9ba97a"/><stop offset="0.6667" stop-color="#94a371"/><stop offset="0.7072" stop-color="#92a16e"/><stop offset="0.7500" stop-color="#909f6c"/><stop offset="0.8333" stop-color="#8d9d68"/><stop offset="0.9167" stop-color="#8c9b66"/><stop offset="1.0000" stop-color="#8b9b65"/></linearGradient>
<linearGradient id="h23" x1="0" y1="0" x2="0" y2="1"><stop offset="0.0000" stop-color="#9a7eb7"/><stop offset="0.0413" stop-color="#a086bb"/><stop offset="0.0781" stop-color="#ae98c5"/><stop offset="0.1164" stop-color="#c2b2d4"/><stop offset="0.1513" stop-color="#d7cbe2"/><stop offset="0.1667" stop-color="#dfd7e9"/><stop offset="0.1868" stop-color="#ebe5f1"/><stop offset="0.2057" stop-color="#f5f2f8"/><stop offset="0.2257" stop-color="#ffffff"/><stop offset="0.2472" stop-color="#f3f5f0"/><stop offset="0.2709" stop-color="#e8ebe0"/><stop offset="0.3276" stop-color="#d1d7c1"/><stop offset="0.4056" stop-color="#b9c3a3"/><stop offset="0.4167" stop-color="#b7c19f"/><stop offset="0.5000" stop-color="#a7b38a"/><stop offset="0.5332" stop-color="#a2af84"/><stop offset="0.5833" stop-color="#9caa7c"/><stop offset="0.6667" stop-color="#95a472"/><stop offset="0.7176" stop-color="#92a16e"/><stop offset="0.7500" stop-color="#90a06c"/><stop offset="0.8333" stop-color="#8d9d68"/><stop offset="0.9167" stop-color="#8c9b66"/><stop offset="1.0000" stop-color="#8b9b65"/></linearGradient>
<linearGradient id="h24" x1="0" y1="0" x2="0" y2="1"><stop offset="0.0000" stop-color="#9a7eb7"/><stop offset="0.0430" stop-color="#a086bb"/><stop offset="0.0812" stop-color="#ae98c5"/><stop offset="0.1211" stop-color="#c2b2d4"/><stop offset="0.1572" stop-color="#d7cbe2"/><stop offset="0.1667" stop-color="#dcd2e6"/><stop offset="0.1939" stop-color="#ebe5f1"/><stop offset="0.2133" stop-color="#f5f2f8"/><stop offset="0.2340" stop-color="#ffffff"/><stop offset="0.2500" stop-color="#f7f8f4"/><stop offset="0.2804" stop-color="#e8ebe0"/><stop offset="0.3333" stop-color="#d2d9c4"/><stop offset="0.4167" stop-color="#bac3a3"/><stop offset="0.5000" stop-color="#a9b58d"/><stop offset="0.5457" stop-color="#a2af84"/><stop offset="0.5833" stop-color="#9eab7e"/><stop offset="0.6667" stop-color="#96a473"/><stop offset="0.7272" stop-color="#92a16e"/><stop offset="0.7500" stop-color="#91a06d"/><stop offset="0.8333" stop-color="#8d9d68"/><stop offset="0.9167" stop-color="#8c9c66"/><stop offset="1.0000" stop-color="#8b9b65"/></linearGradient>
<linearGradient id="h25" x1="0" y1="0" x2="0" y2="1"><stop offset="0.0000" stop-color="#9a7eb7"/><stop offset="0.0447" stop-color="#a086bb"/><stop offset="0.0833" stop-color="#ae97c5"/><stop offset="0.1256" stop-color="#c2b2d4"/><stop offset="0.1630" stop-color="#d7cbe2"/><stop offset="0.2009" stop-color="#ebe5f1"/><stop offset="0.2209" stop-color="#f5f2f8"/><stop offset="0.2421" stop-color="#ffffff"/><stop offset="0.2650" stop-color="#f3f5f0"/><stop offset="0.2899" stop-color="#e8ebe0"/><stop offset="0.3333" stop-color="#d6dcc9"/><stop offset="0.3490" stop-color="#d1d7c1"/><stop offset="0.4167" stop-color="#bdc6a7"/><stop offset="0.4294" stop-color="#b9c3a3"/><stop offset="0.5000" stop-color="#abb78f"/><stop offset="0.5576" stop-color="#a2af84"/><stop offset="0.5833" stop-color="#9fac7f"/><stop offset="0.6667" stop-color="#97a575"/><stop offset="0.7362" stop-color="#92a16e"/><stop offset="0.7500" stop-color="#91a06d"/><stop offset="0.8333" stop-color="#8e9d68"/><stop offset="0.9167" stop-color="#8c9c66"/><stop offset="1.0000" stop-color="#8b9b65"/></linearGradient>
<linearGradient id="h26" x1="0" y1="0" x2="0" y2="1"><stop offset="0.0000" stop-color="#9a7eb7"/><stop offset="0.0463" stop-color="#a086bb"/><stop offset="0.0833" stop-color="#ad96c4"/><stop offset="0.1301" stop-color="#c2b2d4"/><stop offset="0.1667" stop-color="#d6cae1"/><stop offset="0.2078" stop-color="#ebe5f1"/><stop offset="0.2283" stop-color="#f5f2f8"/><stop offset="0.2500" stop-color="#ffffff"/><stop offset="0.2736" stop-color="#f3f5f0"/><stop offset="0.2991" stop-color="#e8ebe0"/><stop offset="0.3333" stop-color="#dadfce"/><stop offset="0.3593" stop-color="#d1d7c1"/><stop offset="0.4167" stop-color="#bfc8ab"/><stop offset="0.4407" stop-color="#b9c3a3"/><stop offset="0.5000" stop-color="#adb892"/><stop offset="0.5689" stop-color="#a2af84"/><stop offset="0.5833" stop-color="#a0ad81"/><stop offset="0.6667" stop-color="#98a676"/><stop offset="0.7446" stop-color="#92a16e"/><stop offset="0.8333" stop-color="#8e9d69"/><stop offset="0.9167" stop-color="#8c9c66"/><stop offset="1.0000" stop-color="#8b9b65"/></linearGradient>
<linearGradient id="h27" x1="0" y1="0" x2="0" y2="1"><stop offset="0.0000" stop-color="#9a7eb7"/><stop offset="0.0480" stop-color="#a086bb"/><stop offset="0.0833" stop-color="#ab94c3"/><stop offset="0.1346" stop-color="#c2b2d4"/><stop offset="0.1667" stop-color="#d3c6df"/><stop offset="0.2146" stop-color="#ebe5f1"/><stop offset="0.2358" stop-color="#f5f2f8"/><stop offset="0.2500" stop-color="#fbfafc"/><stop offset="0.2820" stop-color="#f3f5f0"/><stop offset="0.3081" stop-color="#e8ebe0"/><stop offset="0.3333" stop-color="#dee2d3"/><stop offset="0.3694" stop-color="#d1d7c1"/><stop offset="0.4167" stop-color="#c2cbae"/><stop offset="0.4516" stop-color="#b9c3a3"/><stop offset="0.5000" stop-color="#afba95"/><stop offset="0.5796" stop-color="#a2af84"/><stop offset="0.6667" stop-color="#98a777"/><stop offset="0.7500" stop-color="#92a16e"/><stop offset="0.8333" stop-color="#8e9e69"/><stop offset="0.9167" stop-color="#8c9c66"/><stop offset="1.0000" stop-color="#8b9b65"/></linearGradient>
<linearGradient id="h28" x1="0" y1="0" x2="0" y2="1"><stop offset="0.0000" stop-color="#9a7eb7"/><stop offset="0.0496" stop-color="#a086bb"/><stop offset="0.0833" stop-color="#aa93c3"/><stop offset="0.0934" stop-color="#ae98c5"/><stop offset="0.1390" stop-color="#c2b2d4"/><stop offset="0.1667" stop-color="#d0c3dd"/><stop offset="0.1800" stop-color="#d7cbe2"/><stop offset="0.2212" stop-color="#ebe5f1"/><stop offset="0.2430" stop-color="#f5f2f8"/><stop offset="0.2659" stop-color="#ffffff"/><stop offset="0.2903" stop-color="#f3f5f0"/><stop offset="0.3169" stop-color="#e8ebe0"/><stop offset="0.3333" stop-color="#e1e5d7"/><stop offset="0.3792" stop-color="#d1d7c1"/><stop offset="0.4167" stop-color="#c5cdb2"/><stop offset="0.4620" stop-color="#b9c3a3"/><stop offset="0.5000" stop-color="#b1bc98"/><stop offset="0.5833" stop-color="#a3b085"/><stop offset="0.6667" stop-color="#99a778"/><stop offset="0.7500" stop-color="#93a26f"/><stop offset="0.7598" stop-color="#92a16e"/><stop offset="0.8333" stop-color="#8e9e69"/><stop offset="0.9167" stop-color="#8c9c66"/><stop offset="1.0000" stop-color="#8b9b65"/></linearGradient>
<linearGradient id="h29" x1="0" y1="0" x2="0" y2="1"><stop offset="0.0000" stop-color="#9a7eb7"/><stop offset="0.0512" stop-color="#a086bb"/><stop offset="0.0833" stop-color="#a992c2"/><stop offset="0.0964" stop-color="#ae98c5"/><stop offset="0.1433" stop-color="#c2b2d4"/><stop offset="0.1667" stop-color="#cdc0dc"/><stop offset="0.1854" stop-color="#d7cbe2"/><stop offset="0.2279" stop-color="#ebe5f1"/><stop offset="0.2500" stop-color="#f5f2f8"/><stop offset="0.2734" stop-color="#ffffff"/><stop offset="0.2984" stop-color="#f3f5f0"/><stop offset="0.3254" stop-color="#e8ebe0"/><stop offset="0.3887" stop-color="#d1d7c1"/><stop offset="0.4167" stop-color="#c8d0b6"/><stop offset="0.4721" stop-color="#b9c3a3"/><stop offset="0.5000" stop-color="#b3be9a"/><stop offset="0.5833" stop-color="#a5b187"/><stop offset="0.5996" stop-color="#a2af84"/><stop offset="0.6667" stop-color="#9aa879"/><stop offset="0.7500" stop-color="#93a270"/><stop offset="0.7667" stop-color="#92a16e"/><stop offset="0.8333" stop-color="#8e9e6a"/><stop offset="0.9167" stop-color="#8c9c66"/><stop offset="1.0000" stop-color="#8b9b65"/></linearGradient>
<linearGradient id="h30" x1="0" y1="0" x2="0" y2="1"><stop offset="0.0000" stop-color="#9a7eb7"/><stop offset="0.0528" stop-color="#a086bb"/><stop offset="0.0833" stop-color="#a991c1"/><stop offset="0.0994" stop-color="#ae98c5"/><stop offset="0.1477" stop-color="#c2b2d4"/><stop offset="0.1667" stop-color="#cbbdda"/><stop offset="0.1909" stop-color="#d7cbe2"/><stop offset="0.2343" stop-color="#ebe5f1"/><stop offset="0.2500" stop-color="#f2eef6"/><stop offset="0.2809" stop-color="#ffffff"/><stop offset="0.3063" stop-color="#f3f5f0"/><stop offset="0.3333" stop-color="#e8ebe0"/><stop offset="0.3979" stop-color="#d1d7c1"/><stop offset="0.4167" stop-color="#cbd2ba"/><stop offset="0.4819" stop-color="#b9c3a3"/><stop offset="0.5000" stop-color="#b5bf9d"/><stop offset="0.5833" stop-color="#a6b289"/><stop offset="0.6088" stop-color="#a2af84"/><stop offset="0.6667" stop-color="#9ba97a"/><stop offset="0.7500" stop-color="#94a270"/><stop offset="0.7731" stop-color="#92a16e"/><stop offset="0.8333" stop-color="#8f9e6a"/><stop offset="0.9167" stop-color="#8c9c66"/><stop offset="1.0000" stop-color="#8b9b65"/></linearGradient>
<linearGradient id="h31" x1="0" y1="0" x2="0" y2="1"><stop offset="0.0000" stop-color="#9a7eb7"/><stop offset="0.0543" stop-color="#a086bb"/><stop offset="0.0833" stop-color="#a890c1"/><stop offset="0.1023" stop-color="#ae98c5"/><stop offset="0.1519" stop-color="#c2b2d4"/><stop offset="0.1667" stop-color="#c9bad9"/><stop offset="0.1963" stop-color="#d7cbe2"/><stop offset="0.2407" stop-color="#ebe5f1"/><stop offset="0.2500" stop-color="#efeaf4"/><stop offset="0.2639" stop-color="#f5f2f8"/><stop offset="0.2882" stop-color="#ffffff"/><stop offset="0.3141" stop-color="#f3f5f0"/><stop offset="0.3333" stop-color="#ebeee5"/><stop offset="0.4069" stop-color="#d1d7c1"/><stop offset="0.4167" stop-color="#ced4bd"/><stop offset="0.4913" stop-color="#b9c3a3"/><stop offset="0.5833" stop-color="#a7b38b"/><stop offset="0.6176" stop-color="#a2af84"/><stop offset="0.6667" stop-color="#9caa7c"/><stop offset="0.7500" stop-color="#94a371"/><stop offset="0.7792" stop-color="#92a16e"/><stop offset="0.8333" stop-color="#8f9e6a"/><stop offset="0.9167" stop-color="#8c9c66"/><stop offset="1.0000" stop-color="#8b9b65"/></linearGradient>
<linearGradient id="h32" x1="0" y1="0" x2="0" y2="1"><stop offset="0.0000" stop-color="#9a7eb7"/><stop offset="0.0559" stop-color="#a086bb"/><stop offset="0.0833" stop-color="#a78fc0"/><stop offset="0.1052" stop-color="#ae98c5"/><stop offset="0.1561" stop-color="#c2b2d4"/><stop offset="0.1667" stop-color="#c7b7d7"/><stop offset="0.2016" stop-color="#d7cbe2"/><stop offset="0.2470" stop-color="#ebe5f1"/><stop offset="0.2707" stop-color="#f5f2f8"/><stop offset="0.2954" stop-color="#ffffff"/><stop offset="0.3218" stop-color="#f3f5f0"/><stop offset="0.3333" stop-color="#eff1e9"/><stop offset="0.3501" stop-color="#e8ebe0"/><stop offset="0.4156" stop-color="#d1d7c1"/><stop offset="0.5000" stop-color="#b9c3a3"/><stop offset="0.5833" stop-color="#a9b58d"/><stop offset="0.6260" stop-color="#a2af84"/><stop offset="0.6667" stop-color="#9daa7d"/><stop offset="0.7500" stop-color="#95a372"/><stop offset="0.7849" stop-color="#92a16e"/><stop offset="0.8333" stop-color="#8f9f6a"/><stop offset="0.9167" stop-color="#8c9c66"/><stop offset="1.0000" stop-color="#8b9b65"/></linearGradient>
<linearGradient id="h33" x1="0" y1="0" x2="0" y2="1"><stop offset="0.0000" stop-color="#9a7eb7"/><stop offset="0.0574" stop-color="#a086bb"/><stop offset="0.0833" stop-color="#a68ec0"/><stop offset="0.1081" stop-color="#ae98c5"/><stop offset="0.1602" stop-color="#c2b2d4"/><stop offset="0.2068" stop-color="#d7cbe2"/><stop offset="0.2500" stop-color="#e9e3f0"/><stop offset="0.2772" stop-color="#f5f2f8"/><stop offset="0.3024" stop-color="#ffffff"/><stop offset="0.3292" stop-color="#f3f5f0"/><stop offset="0.3579" stop-color="#e8ebe0"/><stop offset="0.4167" stop-color="#d3d9c5"/><stop offset="0.5000" stop-color="#bcc5a5"/><stop offset="0.5091" stop-color="#b9c3a3"/><stop offset="0.5833" stop-color="#aab68f"/><stop offset="0.6340" stop-color="#a2af84"/><stop offset="0.6667" stop-color="#9eab7e"/><stop offset="0.7500" stop-color="#95a472"/><stop offset="0.7903" stop-color="#92a16e"/><stop offset="0.8333" stop-color="#8f9f6b"/><stop offset="0.9167" stop-color="#8c9c66"/><stop offset="1.0000" stop-color="#8b9b65"/></linearGradient>
<linearGradient id="h34" x1="0" y1="0" x2="0" y2="1"><stop offset="0.0000" stop-color="#9a7eb7"/><stop offset="0.0590" stop-color="#a086bb"/><stop offset="0.0833" stop-color="#a68dbf"/><stop offset="0.1110" stop-color="#ae98c5"/><stop offset="0.1643" stop-color="#c2b2d4"/><stop offset="0.2119" stop-color="#d7cbe2"/><stop offset="0.2500" stop-color="#e7e0ee"/><stop offset="0.2592" stop-color="#ebe5f1"/><stop offset="0.2838" stop-color="#f5f2f8"/><stop offset="0.3093" stop-color="#ffffff"/><stop offset="0.3333" stop-color="#f5f6f1"/><stop offset="0.3656" stop-color="#e8ebe0"/><stop offset="0.4167" stop-color="#d6dbc8"/><stop offset="0.4322" stop-color="#d1d7c1"/><stop offset="0.5000" stop-color="#bec7a8"/><stop offset="0.5174" stop-color="#b9c3a3"/><stop offset="0.5833" stop-color="#acb790"/><stop offset="0.6417" stop-color="#a2af84"/><stop offset="0.6667" stop-color="#9fac7f"/><stop offset="0.7500" stop-color="#96a473"/><stop offset="0.7954" stop-color="#92a16e"/><stop offset="0.8333" stop-color="#909f6b"/><stop offset="0.9167" stop-color="#8c9c66"/><stop offset="1.0000" stop-color="#8b9b65"/></linearGradient>
<linearGradient id="h35" x1="0" y1="0" x2="0" y2="1"><stop offset="0.0000" stop-color="#9a7eb7"/><stop offset="0.0604" stop-color="#a086bb"/><stop offset="0.0833" stop-color="#a58cbf"/><stop offset="0.1138" stop-color="#ae98c5"/><stop offset="0.1667" stop-color="#c2b1d3"/><stop offset="0.2170" stop-color="#d7cbe2"/><stop offset="0.2500" stop-color="#e5ddec"/><stop offset="0.2651" stop-color="#ebe5f1"/><stop offset="0.2901" stop-color="#f5f2f8"/><stop offset="0.3161" stop-color="#ffffff"/><stop offset="0.3333" stop-color="#f8f9f5"/><stop offset="0.3436" stop-color="#f3f5f0"/><stop offset="0.3730" stop-color="#e8ebe0"/><stop offset="0.4167" stop-color="#d8decb"/><stop offset="0.4401" stop-color="#d1d7c1"/><stop offset="0.5000" stop-color="#c0c8ab"/><stop offset="0.5256" stop-color="#b9c3a3"/><stop offset="0.5833" stop-color="#adb892"/><stop offset="0.6489" stop-color="#a2af84"/><stop offset="0.6667" stop-color="#a0ad80"/><stop offset="0.7500" stop-color="#96a574"/><stop offset="0.8002" stop-color="#92a16e"/><stop offset="0.8333" stop-color="#909f6b"/><stop offset="0.9167" stop-color="#8c9c67"/><stop offset="1.0000" stop-color="#8b9b65"/></linearGradient>
<linearGradient id="h36" x1="0" y1="0" x2="0" y2="1"><stop offset="0.0000" stop-color="#9a7eb7"/><stop offset="0.0620" stop-color="#a086bb"/><stop offset="0.0833" stop-color="#a58cbf"/><stop offset="0.1166" stop-color="#ae98c5"/><stop offset="0.1667" stop-color="#c0afd2"/><stop offset="0.2220" stop-color="#d7cbe2"/><stop offset="0.2500" stop-color="#e2daea"/><stop offset="0.2710" stop-color="#ebe5f1"/><stop offset="0.2963" stop-color="#f5f2f8"/><stop offset="0.3227" stop-color="#ffffff"/><stop offset="0.3333" stop-color="#fafbf9"/><stop offset="0.3506" stop-color="#f3f5f0"/><stop offset="0.3802" stop-color="#e8ebe0"/><stop offset="0.4167" stop-color="#dbe0cf"/><stop offset="0.4479" stop-color="#d1d7c1"/><stop offset="0.5000" stop-color="#c2caae"/><stop offset="0.5333" stop-color="#b9c3a3"/><stop offset="0.5833" stop-color="#afba94"/><stop offset="0.6559" stop-color="#a2af84"/><stop offset="0.6667" stop-color="#a1ae82"/><stop offset="0.7500" stop-color="#97a574"/><stop offset="0.8048" stop-color="#92a16e"/><stop offset="0.8333" stop-color="#909f6c"/><stop offset="0.9167" stop-color="#8c9c67"/><stop offset="1.0000" stop-color="#8b9b65"/></linearGradient>
<linearGradient id="h37" x1="0" y1="0" x2="0" y2="1"><stop offset="0.0000" stop-color="#9a7eb7"/><stop offset="0.0634" stop-color="#a086bb"/><stop offset="0.0833" stop-color="#a48bbe"/><stop offset="0.1192" stop-color="#ae98c5"/><stop offset="0.1667" stop-color="#bfadd1"/><stop offset="0.1763" stop-color="#c2b2d4"/><stop offset="0.2269" stop-color="#d7cbe2"/><stop offset="0.2500" stop-color="#e0d7e9"/><stop offset="0.2768" stop-color="#ebe5f1"/><stop offset="0.3024" stop-color="#f5f2f8"/><stop offset="0.3292" stop-color="#ffffff"/><stop offset="0.3573" stop-color="#f3f5f0"/><stop offset="0.3873" stop-color="#e8ebe0"/><stop offset="0.4167" stop-color="#dde2d2"/><stop offset="0.4553" stop-color="#d1d7c1"/><stop offset="0.5000" stop-color="#c4ccb0"/><stop offset="0.5409" stop-color="#b9c3a3"/><stop offset="0.5833" stop-color="#b0bb96"/><stop offset="0.6624" stop-color="#a2af84"/><stop offset="0.7500" stop-color="#97a675"/><stop offset="0.8091" stop-color="#92a16e"/><stop offset="0.8333" stop-color="#90a06c"/><stop offset="0.9167" stop-color="#8c9c67"/><stop offset="1.0000" stop-color="#8b9b65"/></linearGradient>
<linearGradient id="h38" x1="0" y1="0" x2="0" y2="1"><stop offset="0.0000" stop-color="#9a7eb7"/><stop offset="0.0649" stop-color="#a086bb"/><stop offset="0.0833" stop-color="#a48bbe"/><stop offset="0.1220" stop-color="#ae98c5"/><stop offset="0.1667" stop-color="#bdabd0"/><stop offset="0.1802" stop-color="#c2b2d4"/><stop offset="0.2317" stop-color="#d7cbe2"/><stop offset="0.2500" stop-color="#ded5e7"/><stop offset="0.2823" stop-color="#ebe5f1"/><stop offset="0.3084" stop-color="#f5f2f8"/><stop offset="0.3333" stop-color="#fefefe"/><stop offset="0.3639" stop-color="#f3f5f0"/><stop offset="0.3941" stop-color="#e8ebe0"/><stop offset="0.4167" stop-color="#e0e4d5"/><stop offset="0.4626" stop-color="#d1d7c1"/><stop offset="0.5000" stop-color="#c6ceb3"/><stop offset="0.5481" stop-color="#b9c3a3"/><stop offset="0.5833" stop-color="#b2bc98"/><stop offset="0.6667" stop-color="#a3af84"/><stop offset="0.7500" stop-color="#98a676"/><stop offset="0.8131" stop-color="#92a16e"/><stop offset="0.8333" stop-color="#91a06c"/><stop offset="0.9167" stop-color="#8c9c67"/><stop offset="1.0000" stop-color="#8b9b65"/></linearGradient>
<linearGradient id="h39" x1="0" y1="0" x2="0" y2="1"><stop offset="0.0000" stop-color="#9a7eb7"/><stop offset="0.0663" stop-color="#a086bb"/><stop offset="0.0833" stop-color="#a38abe"/><stop offset="0.1247" stop-color="#ae98c5"/><stop offset="0.1667" stop-color="#bcaacf"/><stop offset="0.1841" stop-color="#c2b2d4"/><stop offset="0.2364" stop-color="#d7cbe2"/><stop offset="0.2500" stop-color="#dcd2e6"/><stop offset="0.2879" stop-color="#ebe5f1"/><stop offset="0.3142" stop-color="#f5f2f8"/><stop offset="0.3333" stop-color="#fcfbfd"/><stop offset="0.3703" stop-color="#f3f5f0"/><stop offset="0.4009" stop-color="#e8ebe0"/><stop offset="0.4167" stop-color="#e2e6d9"/><stop offset="0.4696" stop-color="#d1d7c1"/><stop offset="0.5000" stop-color="#c8cfb6"/><stop offset="0.5550" stop-color="#b9c3a3"/><stop offset="0.5833" stop-color="#b3bd9a"/><stop offset="0.6667" stop-color="#a3b085"/><stop offset="0.7500" stop-color="#98a677"/><stop offset="0.8170" stop-color="#92a16e"/><stop offset="0.8333" stop-color="#91a06d"/><stop offset="0.9167" stop-color="#8c9c67"/><stop offset="1.0000" stop-color="#8b9b65"/></linearGradient>
<linearGradient id="h40" x1="0" y1="0" x2="0" y2="1"><stop offset="0.0000" stop-color="#9a7eb7"/><stop offset="0.0678" stop-color="#a086bb"/><stop offset="0.0833" stop-color="#a38abd"/><stop offset="0.1272" stop-color="#ae98c5"/><stop offset="0.1667" stop-color="#bba8ce"/><stop offset="0.1878" stop-color="#c2b2d4"/><stop offset="0.2411" stop-color="#d7cbe2"/><stop offset="0.2932" stop-color="#ebe5f1"/><stop offset="0.3200" stop-color="#f5f2f8"/><stop offset="0.3333" stop-color="#faf8fb"/><stop offset="0.3477" stop-color="#ffffff"/><stop offset="0.3767" stop-color="#f3f5f0"/><stop offset="0.4073" stop-color="#e8ebe0"/><stop offset="0.4167" stop-color="#e4e8dc"/><stop offset="0.4763" stop-color="#d1d7c1"/><stop offset="0.5000" stop-color="#cad1b8"/><stop offset="0.5618" stop-color="#b9c3a3"/><stop offset="0.5833" stop-color="#b4bf9c"/><stop offset="0.6667" stop-color="#a4b187"/><stop offset="0.6807" stop-color="#a2af84"/><stop offset="0.7500" stop-color="#99a777"/><stop offset="0.8207" stop-color="#92a16e"/><stop offset="0.8333" stop-color="#91a06d"/><stop offset="0.9167" stop-color="#8c9c67"/><stop offset="1.0000" stop-color="#8b9b65"/></linearGradient>
<linearGradient id="h41" x1="0" y1="0" x2="0" y2="1"><stop offset="0.0000" stop-color="#9a7eb7"/><stop offset="0.0692" stop-color="#a086bb"/><stop offset="0.0833" stop-color="#a389bd"/><stop offset="0.1299" stop-color="#ae98c5"/><stop offset="0.1667" stop-color="#baa7ce"/><stop offset="0.1916" stop-color="#c2b2d4"/><stop offset="0.2457" stop-color="#d7cbe2"/><stop offset="0.2986" stop-color="#ebe5f1"/><stop offset="0.3256" stop-color="#f5f2f8"/><stop offset="0.3536" stop-color="#ffffff"/><stop offset="0.3828" stop-color="#f3f5f0"/><stop offset="0.4137" stop-color="#e8ebe0"/><stop offset="0.4830" stop-color="#d1d7c1"/><stop offset="0.5000" stop-color="#cbd3bb"/><stop offset="0.5682" stop-color="#b9c3a3"/><stop offset="0.5833" stop-color="#b6c09e"/><stop offset="0.6667" stop-color="#a5b288"/><stop offset="0.6862" stop-color="#a2af84"/><stop offset="0.7500" stop-color="#99a778"/><stop offset="0.8242" stop-color="#92a16e"/><stop offset="0.8333" stop-color="#91a06d"/><stop offset="0.9167" stop-color="#8d9c67"/><stop offset="1.0000" stop-color="#8b9b65"/></linearGradient>
<linearGradient id="h42" x1="0" y1="0" x2="0" y2="1"><stop offset="0.0000" stop-color="#9a7eb7"/><stop offset="0.0706" stop-color="#a086bb"/><stop offset="0.0833" stop-color="#a289bd"/><stop offset="0.1324" stop-color="#ae98c5"/><stop offset="0.1667" stop-color="#b9a5cd"/><stop offset="0.1951" stop-color="#c2b2d4"/><stop offset="0.2500" stop-color="#d7cbe2"/><stop offset="0.3037" stop-color="#ebe5f1"/><stop offset="0.3311" stop-color="#f5f2f8"/><stop offset="0.3593" stop-color="#ffffff"/><stop offset="0.3888" stop-color="#f3f5f0"/><stop offset="0.4167" stop-color="#e9ece2"/><stop offset="0.4893" stop-color="#d1d7c1"/><stop offset="0.5000" stop-color="#cdd4bd"/><stop offset="0.5744" stop-color="#b9c3a3"/><stop offset="0.6667" stop-color="#a6b389"/><stop offset="0.6914" stop-color="#a2af84"/><stop offset="0.7500" stop-color="#9aa879"/><stop offset="0.8276" stop-color="#92a16e"/><stop offset="0.9167" stop-color="#8d9c67"/><stop offset="1.0000" stop-color="#8b9b65"/></linearGradient>
<linearGradient id="h43" x1="0" y1="0" x2="0" y2="1"><stop offset="0.0000" stop-color="#9a7eb7"/><stop offset="0.0720" stop-color="#a086bb"/><stop offset="0.0833" stop-color="#a288bd"/><stop offset="0.1349" stop-color="#ae98c5"/><stop offset="0.1667" stop-color="#b8a4cc"/><stop offset="0.1988" stop-color="#c2b2d4"/><stop offset="0.2500" stop-color="#d5c9e1"/><stop offset="0.3088" stop-color="#ebe5f1"/><stop offset="0.3333" stop-color="#f4f1f7"/><stop offset="0.3649" stop-color="#ffffff"/><stop offset="0.3946" stop-color="#f3f5f0"/><stop offset="0.4167" stop-color="#ebeee5"/><stop offset="0.4259" stop-color="#e8ebe0"/><stop offset="0.4956" stop-color="#d1d7c1"/><stop offset="0.5804" stop-color="#b9c3a3"/><stop offset="0.6667" stop-color="#a7b38b"/><stop offset="0.6966" stop-color="#a2af84"/><stop offset="0.7500" stop-color="#9aa87a"/><stop offset="0.8307" stop-color="#92a16e"/><stop offset="0.9167" stop-color="#8d9c67"/><stop offset="1.0000" stop-color="#8b9b65"/></linearGradient>
<linearGradient id="h44" x1="0" y1="0" x2="0" y2="1"><stop offset="0.0000" stop-color="#9a7eb7"/><stop offset="0.0733" stop-color="#a086bb"/><stop offset="0.0833" stop-color="#a288bd"/><stop offset="0.1374" stop-color="#ae98c5"/><stop offset="0.1667" stop-color="#b7a3cb"/><stop offset="0.2022" stop-color="#c2b2d4"/><stop offset="0.2500" stop-color="#d3c7e0"/><stop offset="0.3138" stop-color="#ebe5f1"/><stop offset="0.3333" stop-color="#f2eef6"/><stop offset="0.3703" stop-color="#ffffff"/><stop offset="0.4002" stop-color="#f3f5f0"/><stop offset="0.4167" stop-color="#edf0e7"/><stop offset="0.4317" stop-color="#e8ebe0"/><stop offset="0.5000" stop-color="#d1d7c2"/><stop offset="0.5833" stop-color="#bac4a4"/><stop offset="0.6667" stop-color="#a8b48c"/><stop offset="0.7013" stop-color="#a2af84"/><stop offset="0.7500" stop-color="#9ba97a"/><stop offset="0.8333" stop-color="#92a16e"/><stop offset="0.9167" stop-color="#8d9c67"/><stop offset="1.0000" stop-color="#8b9b65"/></linearGradient>
<linearGradient id="h45" x1="0" y1="0" x2="0" y2="1"><stop offset="0.0000" stop-color="#9a7eb7"/><stop offset="0.0747" stop-color="#a086bb"/><stop offset="0.1399" stop-color="#ae98c5"/><stop offset="0.1667" stop-color="#b6a2cb"/><stop offset="0.2058" stop-color="#c2b2d4"/><stop offset="0.2500" stop-color="#d2c5df"/><stop offset="0.2631" stop-color="#d7cbe2"/><stop offset="0.3186" stop-color="#ebe5f1"/><stop offset="0.3333" stop-color="#f0ecf4"/><stop offset="0.3468" stop-color="#f5f2f8"/><stop offset="0.3757" stop-color="#ffffff"/><stop offset="0.4058" stop-color="#f3f5f0"/><stop offset="0.4167" stop-color="#eff1ea"/><stop offset="0.4373" stop-color="#e8ebe0"/><stop offset="0.5000" stop-color="#d3d9c4"/><stop offset="0.5833" stop-color="#bbc5a5"/><stop offset="0.6667" stop-color="#a9b58d"/><stop offset="0.7060" stop-color="#a2af84"/><stop offset="0.7500" stop-color="#9ca97b"/><stop offset="0.8333" stop-color="#92a16f"/><stop offset="0.9167" stop-color="#8d9d67"/><stop offset="1.0000" stop-color="#8b9b65"/></linearGradient>
<linearGradient id="h46" x1="0" y1="0" x2="0" y2="1"><stop offset="0.0000" stop-color="#9a7eb7"/><stop offset="0.0760" stop-color="#a086bb"/><stop offset="0.1422" stop-color="#ae98c5"/><stop offset="0.1667" stop-color="#b5a1ca"/><stop offset="0.2091" stop-color="#c2b2d4"/><stop offset="0.2500" stop-color="#d0c4de"/><stop offset="0.2672" stop-color="#d7cbe2"/><stop offset="0.3233" stop-color="#ebe5f1"/><stop offset="0.3333" stop-color="#eeeaf3"/><stop offset="0.3518" stop-color="#f5f2f8"/><stop offset="0.3809" stop-color="#ffffff"/><stop offset="0.4111" stop-color="#f3f5f0"/><stop offset="0.4429" stop-color="#e8ebe0"/><stop offset="0.5000" stop-color="#d5dac7"/><stop offset="0.5129" stop-color="#d1d7c1"/><stop offset="0.5833" stop-color="#bdc6a7"/><stop offset="0.5971" stop-color="#b9c3a3"/><stop offset="0.6667" stop-color="#aab68e"/><stop offset="0.7104" stop-color="#a2af84"/><stop offset="0.7500" stop-color="#9caa7c"/><stop offset="0.8333" stop-color="#92a16f"/><stop offset="0.9167" stop-color="#8d9d67"/><stop offset="1.0000" stop-color="#8b9b65"/></linearGradient>
<linearGradient id="h47" x1="0" y1="0" x2="0" y2="1"><stop offset="0.0000" stop-color="#9a7eb7"/><stop offset="0.0772" stop-color="#a086bb"/><stop offset="0.1446" stop-color="#ae98c5"/><stop offset="0.1667" stop-color="#b4a0ca"/><stop offset="0.2124" stop-color="#c2b2d4"/><stop offset="0.2500" stop-color="#cfc2dd"/><stop offset="0.2712" stop-color="#d7cbe2"/><stop offset="0.3280" stop-color="#ebe5f1"/><stop offset="0.3567" stop-color="#f5f2f8"/><stop offset="0.3860" stop-color="#ffffff"/><stop offset="0.4163" stop-color="#f3f5f0"/><stop offset="0.4482" stop-color="#e8ebe0"/><stop offset="0.5000" stop-color="#d6dcc9"/><stop offset="0.5183" stop-color="#d1d7c1"/><stop offset="0.5833" stop-color="#bec7a9"/><stop offset="0.6022" stop-color="#b9c3a3"/><stop offset="0.6667" stop-color="#abb790"/><stop offset="0.7147" stop-color="#a2af84"/><stop offset="0.7500" stop-color="#9daa7c"/><stop offset="0.8333" stop-color="#93a26f"/><stop offset="0.9167" stop-color="#8d9d68"/><stop offset="1.0000" stop-color="#8b9b65"/></linearGradient>
<linearGradient id="h48" x1="0" y1="0" x2="0" y2="1"><stop offset="0.0000" stop-color="#9a7eb7"/><stop offset="0.0786" stop-color="#a086bb"/><stop offset="0.1469" stop-color="#ae98c5"/><stop offset="0.1667" stop-color="#b49fc9"/><stop offset="0.2158" stop-color="#c2b2d4"/><stop offset="0.2500" stop-color="#cec0dc"/><stop offset="0.2752" stop-color="#d7cbe2"/><stop offset="0.3324" stop-color="#ebe5f1"/><stop offset="0.3613" stop-color="#f5f2f8"/><stop offset="0.3909" stop-color="#ffffff"/><stop offset="0.4167" stop-color="#f5f7f2"/><stop offset="0.4534" stop-color="#e8ebe0"/><stop offset="0.5000" stop-color="#d8ddcb"/><stop offset="0.5236" stop-color="#d1d7c1"/><stop offset="0.5833" stop-color="#c0c8ab"/><stop offset="0.6072" stop-color="#b9c3a3"/><stop offset="0.6667" stop-color="#acb791"/><stop offset="0.7188" stop-color="#a2af84"/><stop offset="0.7500" stop-color="#9dab7d"/><stop offset="0.8333" stop-color="#93a270"/><stop offset="0.8443" stop-color="#92a16e"/><stop offset="0.9167" stop-color="#8d9d68"/><stop offset="1.0000" stop-color="#8b9b65"/></linearGradient>
<linearGradient id="h49" x1="0" y1="0" x2="0" y2="1"><stop offset="0.0000" stop-color="#9a7eb7"/><stop offset="0.0798" stop-color="#a086bb"/><stop offset="0.1492" stop-color="#ae98c5"/><stop offset="0.1667" stop-color="#b39ec9"/><stop offset="0.2189" stop-color="#c2b2d4"/><stop offset="0.2500" stop-color="#cdbfdb"/><stop offset="0.2791" stop-color="#d7cbe2"/><stop offset="0.3333" stop-color="#eae4f0"/><stop offset="0.3660" stop-color="#f5f2f8"/><stop offset="0.3957" stop-color="#ffffff"/><stop offset="0.4167" stop-color="#f7f8f4"/><stop offset="0.4263" stop-color="#f3f5f0"/><stop offset="0.4584" stop-color="#e8ebe0"/><stop offset="0.5000" stop-color="#dadfcd"/><stop offset="0.5286" stop-color="#d1d7c1"/><stop offset="0.5833" stop-color="#c1c9ac"/><stop offset="0.6120" stop-color="#b9c3a3"/><stop offset="0.6667" stop-color="#adb892"/><stop offset="0.7227" stop-color="#a2af84"/><stop offset="0.7500" stop-color="#9eab7e"/><stop offset="0.8333" stop-color="#93a270"/><stop offset="0.8468" stop-color="#92a16e"/><stop offset="0.9167" stop-color="#8d9d68"/><stop offset="1.0000" stop-color="#8b9b65"/></linearGradient>
<linearGradient id="h50" x1="0" y1="0" x2="0" y2="1"><stop offset="0.0000" stop-color="#9a7eb7"/><stop offset="0.0810" stop-color="#a086bb"/><stop offset="0.1514" stop-color="#ae98c5"/><stop offset="0.1667" stop-color="#b29dc8"/><stop offset="0.2221" stop-color="#c2b2d4"/><stop offset="0.2500" stop-color="#cbbdda"/><stop offset="0.2829" stop-color="#d7cbe2"/><stop offset="0.3333" stop-color="#e8e2ef"/><stop offset="0.3704" stop-color="#f5f2f8"/><stop offset="0.4003" stop-color="#ffffff"/><stop offset="0.4167" stop-color="#f9faf7"/><stop offset="0.4312" stop-color="#f3f5f0"/><stop offset="0.4633" stop-color="#e8ebe0"/><stop offset="0.5000" stop-color="#dbe0d0"/><stop offset="0.5334" stop-color="#d1d7c1"/><stop offset="0.5833" stop-color="#c2cbae"/><stop offset="0.6167" stop-color="#b9c3a3"/><stop offset="0.6667" stop-color="#aeb993"/><stop offset="0.7264" stop-color="#a2af84"/><stop offset="0.7500" stop-color="#9eac7f"/><stop offset="0.8333" stop-color="#93a270"/><stop offset="0.8490" stop-color="#92a16e"/><stop offset="0.9167" stop-color="#8d9d68"/><stop offset="1.0000" stop-color="#8b9b65"/></linearGradient>
<linearGradient id="h51" x1="0" y1="0" x2="0" y2="1"><stop offset="0.0000" stop-color="#9a7eb7"/><stop offset="0.0822" stop-color="#a086bb"/><stop offset="0.1537" stop-color="#ae98c5"/><stop offset="0.1667" stop-color="#b29cc8"/><stop offset="0.2251" stop-color="#c2b2d4"/><stop offset="0.2500" stop-color="#cabcd9"/><stop offset="0.2867" stop-color="#d7cbe2"/><stop offset="0.3333" stop-color="#e7e0ee"/><stop offset="0.3454" stop-color="#ebe5f1"/><stop offset="0.3749" stop-color="#f5f2f8"/><stop offset="0.4049" stop-color="#ffffff"/><stop offset="0.4167" stop-color="#fbfbf9"/><stop offset="0.4359" stop-color="#f3f5f0"/><stop offset="0.4680" stop-color="#e8ebe0"/><stop offset="0.5000" stop-color="#dde2d2"/><stop offset="0.5382" stop-color="#d1d7c1"/><stop offset="0.5833" stop-color="#c3ccb0"/><stop offset="0.6211" stop-color="#b9c3a3"/><stop offset="0.6667" stop-color="#afba94"/><stop offset="0.7300" stop-color="#a2af84"/><stop offset="0.7500" stop-color="#9fac7f"/><stop offset="0.8333" stop-color="#94a371"/><stop offset="0.8511" stop-color="#92a16e"/><stop offset="0.9167" stop-color="#8d9d68"/><stop offset="1.0000" stop-color="#8b9b65"/></linearGradient>
<linearGradient id="h52" x1="0" y1="0" x2="0" y2="1"><stop offset="0.0000" stop-color="#9a7eb7"/><stop offset="0.0833" stop-color="#a086bb"/><stop offset="0.1558" stop-color="#ae98c5"/><stop offset="0.1667" stop-color="#b19bc7"/><stop offset="0.2282" stop-color="#c2b2d4"/><stop offset="0.2500" stop-color="#c9bad9"/><stop offset="0.2903" stop-color="#d7cbe2"/><stop offset="0.3333" stop-color="#e5deed"/><stop offset="0.3494" stop-color="#ebe5f1"/><stop offset="0.3791" stop-color="#f5f2f8"/><stop offset="0.4093" stop-color="#ffffff"/><stop offset="0.4403" stop-color="#f3f5f0"/><stop offset="0.4727" stop-color="#e8ebe0"/><stop offset="0.5000" stop-color="#dee3d4"/><stop offset="0.5428" stop-color="#d1d7c1"/><stop offset="0.5833" stop-color="#c5cdb2"/><stop offset="0.6253" stop-color="#b9c3a3"/><stop offset="0.6667" stop-color="#b0bb96"/><stop offset="0.7334" stop-color="#a2af84"/><stop offset="0.7500" stop-color="#9fad80"/><stop offset="0.8333" stop-color="#94a371"/><stop offset="0.8532" stop-color="#92a16e"/><stop offset="0.9167" stop-color="#8d9d68"/><stop offset="1.0000" stop-color="#8b9b65"/></linearGradient>
<linearGradient id="h53" x1="0" y1="0" x2="0" y2="1"><stop offset="0.0000" stop-color="#9a7eb7"/><stop offset="0.0833" stop-color="#a086bb"/><stop offset="0.1579" stop-color="#ae98c5"/><stop offset="0.2311" stop-color="#c2b2d4"/><stop offset="0.2500" stop-color="#c8b9d8"/><stop offset="0.2939" stop-color="#d7cbe2"/><stop offset="0.3333" stop-color="#e4dcec"/><stop offset="0.3534" stop-color="#ebe5f1"/><stop offset="0.3833" stop-color="#f5f2f8"/><stop offset="0.4137" stop-color="#ffffff"/><stop offset="0.4448" stop-color="#f3f5f0"/><stop offset="0.4771" stop-color="#e8ebe0"/><stop offset="0.5000" stop-color="#e0e4d6"/><stop offset="0.5472" stop-color="#d1d7c1"/><stop offset="0.5833" stop-color="#c6ceb3"/><stop offset="0.6294" stop-color="#b9c3a3"/><stop offset="0.6667" stop-color="#b0bb97"/><stop offset="0.7368" stop-color="#a2af84"/><stop offset="0.7500" stop-color="#a0ad81"/><stop offset="0.8333" stop-color="#94a371"/><stop offset="0.8552" stop-color="#92a16e"/><stop offset="0.9167" stop-color="#8d9d68"/><stop offset="1.0000" stop-color="#8b9b65"/></linearGradient>
<linearGradient id="h54" x1="0" y1="0" x2="0" y2="1"><stop offset="0.0000" stop-color="#9a7eb7"/><stop offset="0.0833" stop-color="#a085bb"/><stop offset="0.1600" stop-color="#ae98c5"/><stop offset="0.2340" stop-color="#c2b2d4"/><stop offset="0.2500" stop-color="#c7b8d7"/><stop offset="0.2973" stop-color="#d7cbe2"/><stop offset="0.3333" stop-color="#e3dbeb"/><stop offset="0.3573" stop-color="#ebe5f1"/><stop offset="0.3873" stop-color="#f5f2f8"/><stop offset="0.4167" stop-color="#ffffff"/><stop offset="0.4490" stop-color="#f3f5f0"/><stop offset="0.4814" stop-color="#e8ebe0"/><stop offset="0.5000" stop-color="#e1e5d8"/><stop offset="0.5514" stop-color="#d1d7c1"/><stop offset="0.5833" stop-color="#c7cfb5"/><stop offset="0.6334" stop-color="#b9c3a3"/><stop offset="0.6667" stop-color="#b1bc98"/><stop offset="0.7400" stop-color="#a2af84"/><stop offset="0.7500" stop-color="#a0ad81"/><stop offset="0.8333" stop-color="#94a372"/><stop offset="0.8571" stop-color="#92a16e"/><stop offset="0.9167" stop-color="#8d9d68"/><stop offset="1.0000" stop-color="#8b9b65"/></linearGradient>
<linearGradient id="h55" x1="0" y1="0" x2="0" y2="1"><stop offset="0.0000" stop-color="#9a7eb7"/><stop offset="0.0833" stop-color="#a085bb"/><stop offset="0.1620" stop-color="#ae98c5"/><stop offset="0.2368" stop-color="#c2b2d4"/><stop offset="0.2500" stop-color="#c6b7d7"/><stop offset="0.3007" stop-color="#d7cbe2"/><stop offset="0.3333" stop-color="#e1d9ea"/><stop offset="0.3611" stop-color="#ebe5f1"/><stop offset="0.3913" stop-color="#f5f2f8"/><stop offset="0.4167" stop-color="#fdfdfe"/><stop offset="0.4531" stop-color="#f3f5f0"/><stop offset="0.4856" stop-color="#e8ebe0"/><stop offset="0.5000" stop-color="#e3e7da"/><stop offset="0.5557" stop-color="#d1d7c1"/><stop offset="0.5833" stop-color="#c8d0b6"/><stop offset="0.6372" stop-color="#b9c3a3"/><stop offset="0.6667" stop-color="#b2bd99"/><stop offset="0.7430" stop-color="#a2af84"/><stop offset="0.8333" stop-color="#95a372"/><stop offset="0.8589" stop-color="#92a16e"/><stop offset="0.9167" stop-color="#8d9d68"/><stop offset="1.0000" stop-color="#8b9b65"/></linearGradient>
<linearGradient id="h56" x1="0" y1="0" x2="0" y2="1"><stop offset="0.0000" stop-color="#9a7eb7"/><stop offset="0.0833" stop-color="#9f85bb"/><stop offset="0.1640" stop-color="#ae98c5"/><stop offset="0.2396" stop-color="#c2b2d4"/><stop offset="0.2500" stop-color="#c6b6d6"/><stop offset="0.3040" stop-color="#d7cbe2"/><stop offset="0.3333" stop-color="#e0d8e9"/><stop offset="0.3648" stop-color="#ebe5f1"/><stop offset="0.3951" stop-color="#f5f2f8"/><stop offset="0.4167" stop-color="#fcfbfd"/><stop offset="0.4258" stop-color="#ffffff"/><stop offset="0.4572" stop-color="#f3f5f0"/><stop offset="0.4897" stop-color="#e8ebe0"/><stop offset="0.5000" stop-color="#e4e8db"/><stop offset="0.5596" stop-color="#d1d7c1"/><stop offset="0.5833" stop-color="#c9d1b8"/><stop offset="0.6409" stop-color="#b9c3a3"/><stop offset="0.6667" stop-color="#b3bd9a"/><stop offset="0.7459" stop-color="#a2af84"/><stop offset="0.8333" stop-color="#95a472"/><stop offset="0.8607" stop-color="#92a16e"/><stop offset="0.9167" stop-color="#8d9d68"/><stop offset="1.0000" stop-color="#8b9b65"/></linearGradient>
<linearGradient id="h57" x1="0" y1="0" x2="0" y2="1"><stop offset="0.0000" stop-color="#9a7eb7"/><stop offset="0.0833" stop-color="#9f85bb"/><stop offset="0.1659" stop-color="#ae98c5"/><stop offset="0.2422" stop-color="#c2b2d4"/><stop offset="0.3072" stop-color="#d7cbe2"/><stop offset="0.3333" stop-color="#dfd6e8"/><stop offset="0.3684" stop-color="#ebe5f1"/><stop offset="0.3988" stop-color="#f5f2f8"/><stop offset="0.4167" stop-color="#fbfafc"/><stop offset="0.4296" stop-color="#ffffff"/><stop offset="0.4610" stop-color="#f3f5f0"/><stop offset="0.4936" stop-color="#e8ebe0"/><stop offset="0.5634" stop-color="#d1d7c1"/><stop offset="0.5833" stop-color="#cbd2b9"/><stop offset="0.6444" stop-color="#b9c3a3"/><stop offset="0.6667" stop-color="#b4be9b"/><stop offset="0.7487" stop-color="#a2af84"/><stop offset="0.8333" stop-color="#95a473"/><stop offset="0.8622" stop-color="#92a16e"/><stop offset="0.9167" stop-color="#8e9d68"/><stop offset="1.0000" stop-color="#8b9b65"/></linearGradient>
<linearGradient id="h58" x1="0" y1="0" x2="0" y2="1"><stop offset="0.0000" stop-color="#9a7eb7"/><stop offset="0.0833" stop-color="#9f85bb"/><stop offset="0.1667" stop-color="#ae97c5"/><stop offset="0.2449" stop-color="#c2b2d4"/><stop offset="0.3103" stop-color="#d7cbe2"/><stop offset="0.3333" stop-color="#ded5e8"/><stop offset="0.3719" stop-color="#ebe5f1"/><stop offset="0.4024" stop-color="#f5f2f8"/><stop offset="0.4167" stop-color="#faf8fb"/><stop offset="0.4333" stop-color="#ffffff"/><stop offset="0.4648" stop-color="#f3f5f0"/><stop offset="0.4973" stop-color="#e8ebe0"/><stop offset="0.5671" stop-color="#d1d7c1"/><stop offset="0.5833" stop-color="#ccd3bb"/><stop offset="0.6478" stop-color="#b9c3a3"/><stop offset="0.6667" stop-color="#b5bf9c"/><stop offset="0.7500" stop-color="#a2af84"/><stop offset="0.8333" stop-color="#95a473"/><stop offset="0.8639" stop-color="#92a16e"/><stop offset="0.9167" stop-color="#8e9d68"/><stop offset="1.0000" stop-color="#8b9b65"/></linearGradient>
<linearGradient id="h59" x1="0" y1="0" x2="0" y2="1"><stop offset="0.0000" stop-color="#9a7eb7"/><stop offset="0.0833" stop-color="#9f84bb"/><stop offset="0.1667" stop-color="#ae97c5"/><stop offset="0.2474" stop-color="#c2b2d4"/><stop offset="0.3133" stop-color="#d7cbe2"/><stop offset="0.3333" stop-color="#ddd4e7"/><stop offset="0.3752" stop-color="#ebe5f1"/><stop offset="0.4059" stop-color="#f5f2f8"/><stop offset="0.4167" stop-color="#f8f7fa"/><stop offset="0.4369" stop-color="#ffffff"/><stop offset="0.4684" stop-color="#f3f5f0"/><stop offset="0.5000" stop-color="#e8ebe1"/><stop offset="0.5707" stop-color="#d1d7c1"/><stop offset="0.5833" stop-color="#cdd4bc"/><stop offset="0.6511" stop-color="#b9c3a3"/><stop offset="0.6667" stop-color="#b5c09d"/><stop offset="0.7500" stop-color="#a3b085"/><stop offset="0.8333" stop-color="#96a473"/><stop offset="0.8653" stop-color="#92a16e"/><stop offset="0.9167" stop-color="#8e9d69"/><stop offset="1.0000" stop-color="#8b9b65"/></linearGradient>
<linearGradient id="h60" x1="0" y1="0" x2="0" y2="1"><stop offset="0.0000" stop-color="#9a7eb7"/><stop offset="0.0833" stop-color="#9f84bb"/><stop offset="0.1667" stop-color="#ad96c5"/><stop offset="0.2499" stop-color="#c2b2d4"/><stop offset="0.3163" stop-color="#d7cbe2"/><stop offset="0.3333" stop-color="#dcd2e6"/><stop offset="0.3786" stop-color="#ebe5f1"/><stop offset="0.4093" stop-color="#f5f2f8"/><stop offset="0.4403" stop-color="#ffffff"/><stop offset="0.4720" stop-color="#f3f5f0"/><stop offset="0.5000" stop-color="#e9ece2"/><stop offset="0.5741" stop-color="#d1d7c1"/><stop offset="0.5833" stop-color="#ced5be"/><stop offset="0.6542" stop-color="#b9c3a3"/><stop offset="0.6667" stop-color="#b6c09e"/><stop offset="0.7500" stop-color="#a3b085"/><stop offset="0.8333" stop-color="#96a473"/><stop offset="0.8668" stop-color="#92a16e"/><stop offset="0.9167" stop-color="#8e9d69"/><stop offset="1.0000" stop-color="#8b9b65"/></linearGradient>
<linearGradient id="h61" x1="0" y1="0" x2="0" y2="1"><stop offset="0.0000" stop-color="#9a7eb7"/><stop offset="0.0833" stop-color="#9f84ba"/><stop offset="0.0930" stop-color="#a086bb"/><stop offset="0.1667" stop-color="#ad96c4"/><stop offset="0.2500" stop-color="#c2b1d3"/><stop offset="0.3191" stop-color="#d7cbe2"/><stop offset="0.3333" stop-color="#dbd1e5"/><stop offset="0.3817" stop-color="#ebe5f1"/><stop offset="0.4126" stop-color="#f5f2f8"/><stop offset="0.4437" stop-color="#ffffff"/><stop offset="0.4753" stop-color="#f3f5f0"/><stop offset="0.5000" stop-color="#ebede4"/><stop offset="0.5774" stop-color="#d1d7c1"/><stop offset="0.6572" stop-color="#b9c3a3"/><stop offset="0.6667" stop-color="#b7c19f"/><stop offset="0.7500" stop-color="#a4b086"/><stop offset="0.8333" stop-color="#96a574"/><stop offset="0.8682" stop-color="#92a16e"/><stop offset="0.9167" stop-color="#8e9d69"/><stop offset="1.0000" stop-color="#8b9b65"/></linearGradient>
<linearGradient id="h62" x1="0" y1="0" x2="0" y2="1"><stop offset="0.0000" stop-color="#9a7eb7"/><stop offset="0.0833" stop-color="#9f84ba"/><stop offset="0.0940" stop-color="#a086bb"/><stop offset="0.1667" stop-color="#ac96c4"/><stop offset="0.2500" stop-color="#c1b0d3"/><stop offset="0.3219" stop-color="#d7cbe2"/><stop offset="0.3333" stop-color="#dad0e5"/><stop offset="0.3848" stop-color="#ebe5f1"/><stop offset="0.4158" stop-color="#f5f2f8"/><stop offset="0.4470" stop-color="#ffffff"/><stop offset="0.4787" stop-color="#f3f5f0"/><stop offset="0.5000" stop-color="#eceee5"/><stop offset="0.5112" stop-color="#e8ebe0"/><stop offset="0.5807" stop-color="#d1d7c1"/><stop offset="0.6601" stop-color="#b9c3a3"/><stop offset="0.7500" stop-color="#a4b187"/><stop offset="0.7610" stop-color="#a2af84"/><stop offset="0.8333" stop-color="#96a574"/><stop offset="0.8694" stop-color="#92a16e"/><stop offset="0.9167" stop-color="#8e9d69"/><stop offset="1.0000" stop-color="#8b9b65"/></linearGradient>
<linearGradient id="h63" x1="0" y1="0" x2="0" y2="1"><stop offset="0.0000" stop-color="#9a7eb7"/><stop offset="0.0833" stop-color="#9f84ba"/><stop offset="0.0949" stop-color="#a086bb"/><stop offset="0.1667" stop-color="#ac95c4"/><stop offset="0.1767" stop-color="#ae98c5"/><stop offset="0.2500" stop-color="#c0afd2"/><stop offset="0.3247" stop-color="#d7cbe2"/><stop offset="0.3878" stop-color="#ebe5f1"/><stop offset="0.4167" stop-color="#f4f1f7"/><stop offset="0.4501" stop-color="#ffffff"/><stop offset="0.4818" stop-color="#f3f5f0"/><stop offset="0.5000" stop-color="#edefe7"/><stop offset="0.5144" stop-color="#e8ebe0"/><stop offset="0.5833" stop-color="#d1d7c2"/><stop offset="0.6629" stop-color="#b9c3a3"/><stop offset="0.7500" stop-color="#a5b187"/><stop offset="0.7632" stop-color="#a2af84"/><stop offset="0.8333" stop-color="#97a574"/><stop offset="0.8708" stop-color="#92a16e"/><stop offset="0.9167" stop-color="#8e9d69"/><stop offset="1.0000" stop-color="#8b9b65"/></linearGradient>
<linearGradient id="h64" x1="0" y1="0" x2="0" y2="1"><stop offset="0.0000" stop-color="#9a7eb7"/><stop offset="0.0833" stop-color="#9f84ba"/><stop offset="0.0959" stop-color="#a086bb"/><stop offset="0.1667" stop-color="#ac95c4"/><stop offset="0.1782" stop-color="#ae98c5"/><stop offset="0.2500" stop-color="#c0aed2"/><stop offset="0.2592" stop-color="#c2b2d4"/><stop offset="0.3272" stop-color="#d7cbe2"/><stop offset="0.3907" stop-color="#ebe5f1"/><stop offset="0.4167" stop-color="#f3f0f7"/><stop offset="0.4531" stop-color="#ffffff"/><stop offset="0.4849" stop-color="#f3f5f0"/><stop offset="0.5000" stop-color="#eef0e8"/><stop offset="0.5174" stop-color="#e8ebe0"/><stop offset="0.5833" stop-color="#d2d8c3"/><stop offset="0.6656" stop-color="#b9c3a3"/><stop offset="0.7500" stop-color="#a5b288"/><stop offset="0.7652" stop-color="#a2af84"/><stop offset="0.8333" stop-color="#97a575"/><stop offset="0.8720" stop-color="#92a16e"/><stop offset="0.9167" stop-color="#8e9e69"/><stop offset="1.0000" stop-color="#8b9b65"/></linearGradient>
<linearGradient id="h65" x1="0" y1="0" x2="0" y2="1"><stop offset="0.0000" stop-color="#9a7eb7"/><stop offset="0.0833" stop-color="#9f84ba"/><stop offset="0.0968" stop-color="#a086bb"/><stop offset="0.1667" stop-color="#ab94c3"/><stop offset="0.1798" stop-color="#ae98c5"/><stop offset="0.2500" stop-color="#bfaed2"/><stop offset="0.2613" stop-color="#c2b2d4"/><stop offset="0.3298" stop-color="#d7cbe2"/><stop offset="0.3934" stop-color="#ebe5f1"/><stop offset="0.4167" stop-color="#f2eff6"/><stop offset="0.4560" stop-color="#ffffff"/><stop offset="0.4879" stop-color="#f3f5f0"/><stop offset="0.5000" stop-color="#eff1ea"/><stop offset="0.5204" stop-color="#e8ebe0"/><stop offset="0.5833" stop-color="#d3d9c4"/><stop offset="0.6667" stop-color="#bac3a3"/><stop offset="0.7500" stop-color="#a6b288"/><stop offset="0.7672" stop-color="#a2af84"/><stop offset="0.8333" stop-color="#97a575"/><stop offset="0.8731" stop-color="#92a16e"/><stop offset="0.9167" stop-color="#8e9e69"/><stop offset="1.0000" stop-color="#8b9b65"/></linearGradient>
<linearGradient id="h66" x1="0" y1="0" x2="0" y2="1"><stop offset="0.0000" stop-color="#9a7eb7"/><stop offset="0.0833" stop-color="#9e84ba"/><stop offset="0.0976" stop-color="#a086bb"/><stop offset="0.1667" stop-color="#ab94c3"/><stop offset="0.1813" stop-color="#ae98c5"/><stop offset="0.2500" stop-color="#bfadd1"/><stop offset="0.2634" stop-color="#c2b2d4"/><stop offset="0.3322" stop-color="#d7cbe2"/><stop offset="0.3961" stop-color="#ebe5f1"/><stop offset="0.4167" stop-color="#f1eef5"/><stop offset="0.4274" stop-color="#f5f2f8"/><stop offset="0.4589" stop-color="#ffffff"/><stop offset="0.4907" stop-color="#f3f5f0"/><stop offset="0.5000" stop-color="#f0f2eb"/><stop offset="0.5232" stop-color="#e8ebe0"/><stop offset="0.5833" stop-color="#d3d9c5"/><stop offset="0.5923" stop-color="#d1d7c1"/><stop offset="0.6667" stop-color="#bac4a4"/><stop offset="0.7500" stop-color="#a6b289"/><stop offset="0.7691" stop-color="#a2af84"/><stop offset="0.8333" stop-color="#97a575"/><stop offset="0.8742" stop-color="#92a16e"/><stop offset="0.9167" stop-color="#8e9e69"/><stop offset="1.0000" stop-color="#8b9b65"/></linearGradient>
<linearGradient id="h67" x1="0" y1="0" x2="0" y2="1"><stop offset="0.0000" stop-color="#9a7eb7"/><stop offset="0.0833" stop-color="#9e84ba"/><stop offset="0.0984" stop-color="#a086bb"/><stop offset="0.1667" stop-color="#ab94c3"/><stop offset="0.1828" stop-color="#ae98c5"/><stop offset="0.2500" stop-color="#beacd1"/><stop offset="0.2654" stop-color="#c2b2d4"/><stop offset="0.3333" stop-color="#d6cbe2"/><stop offset="0.3987" stop-color="#ebe5f1"/><stop offset="0.4167" stop-color="#f1edf5"/><stop offset="0.4301" stop-color="#f5f2f8"/><stop offset="0.4616" stop-color="#ffffff"/><stop offset="0.4934" stop-color="#f3f5f0"/><stop offset="0.5260" stop-color="#e8ebe0"/><stop offset="0.5833" stop-color="#d4dac6"/><stop offset="0.5949" stop-color="#d1d7c1"/><stop offset="0.6667" stop-color="#bbc4a5"/><stop offset="0.7500" stop-color="#a7b38a"/><stop offset="0.7709" stop-color="#a2af84"/><stop offset="0.8333" stop-color="#97a675"/><stop offset="0.8752" stop-color="#92a16e"/><stop offset="0.9167" stop-color="#8e9e69"/><stop offset="1.0000" stop-color="#8b9b65"/></linearGradient>
<linearGradient id="h68" x1="0" y1="0" x2="0" y2="1"><stop offset="0.0000" stop-color="#9a7eb7"/><stop offset="0.0833" stop-color="#9e83ba"/><stop offset="0.0992" stop-color="#a086bb"/><stop offset="0.1667" stop-color="#ab93c3"/><stop offset="0.1842" stop-color="#ae98c5"/><stop offset="0.2500" stop-color="#beacd0"/><stop offset="0.2674" stop-color="#c2b2d4"/><stop offset="0.3333" stop-color="#d6cae1"/><stop offset="0.4012" stop-color="#ebe5f1"/><stop offset="0.4167" stop-color="#f0ecf4"/><stop offset="0.4327" stop-color="#f5f2f8"/><stop offset="0.4642" stop-color="#ffffff"/><stop offset="0.4961" stop-color="#f3f5f0"/><stop offset="0.5287" stop-color="#e8ebe0"/><stop offset="0.5833" stop-color="#d5dbc7"/><stop offset="0.5974" stop-color="#d1d7c1"/><stop offset="0.6667" stop-color="#bcc5a6"/><stop offset="0.7500" stop-color="#a7b38a"/><stop offset="0.7727" stop-color="#a2af84"/><stop offset="0.8333" stop-color="#98a676"/><stop offset="0.8762" stop-color="#92a16e"/><stop offset="0.9167" stop-color="#8e9e69"/><stop offset="1.0000" stop-color="#8b9b65"/></linearGradient>
<linearGradient id="h69" x1="0" y1="0" x2="0" y2="1"><stop offset="0.0000" stop-color="#9a7eb7"/><stop offset="0.0833" stop-color="#9e83ba"/><stop offset="0.1000" stop-color="#a086bb"/><stop offset="0.1667" stop-color="#aa93c3"/><stop offset="0.1857" stop-color="#ae98c5"/><stop offset="0.2500" stop-color="#bdabd0"/><stop offset="0.2693" stop-color="#c2b2d4"/><stop offset="0.3333" stop-color="#d5c9e1"/><stop offset="0.4037" stop-color="#ebe5f1"/><stop offset="0.4167" stop-color="#efebf4"/><stop offset="0.4352" stop-color="#f5f2f8"/><stop offset="0.4667" stop-color="#ffffff"/><stop offset="0.4986" stop-color="#f3f5f0"/><stop offset="0.5311" stop-color="#e8ebe0"/><stop offset="0.5833" stop-color="#d6dcc9"/><stop offset="0.5998" stop-color="#d1d7c1"/><stop offset="0.6667" stop-color="#bcc6a7"/><stop offset="0.6773" stop-color="#b9c3a3"/><stop offset="0.7500" stop-color="#a7b38b"/><stop offset="0.7743" stop-color="#a2af84"/><stop offset="0.8333" stop-color="#98a676"/><stop offset="0.8772" stop-color="#92a16e"/><stop offset="0.9167" stop-color="#8e9e69"/><stop offset="1.0000" stop-color="#8b9b65"/></linearGradient>
<linearGradient id="h70" x1="0" y1="0" x2="0" y2="1"><stop offset="0.0000" stop-color="#9a7eb7"/><stop offset="0.0833" stop-color="#9e83ba"/><stop offset="0.1008" stop-color="#a086bb"/><stop offset="0.1667" stop-color="#aa93c3"/><stop offset="0.1870" stop-color="#ae98c5"/><stop offset="0.2500" stop-color="#bdaad0"/><stop offset="0.2711" stop-color="#c2b2d4"/><stop offset="0.3333" stop-color="#d4c8e0"/><stop offset="0.4060" stop-color="#ebe5f1"/><stop offset="0.4167" stop-color="#eeeaf3"/><stop offset="0.4376" stop-color="#f5f2f8"/><stop offset="0.4691" stop-color="#ffffff"/><stop offset="0.5000" stop-color="#f4f5f0"/><stop offset="0.5336" stop-color="#e8ebe0"/><stop offset="0.5833" stop-color="#d7dcca"/><stop offset="0.6021" stop-color="#d1d7c1"/><stop offset="0.6667" stop-color="#bdc6a7"/><stop offset="0.6794" stop-color="#b9c3a3"/><stop offset="0.7500" stop-color="#a8b48b"/><stop offset="0.7759" stop-color="#a2af84"/><stop offset="0.8333" stop-color="#98a676"/><stop offset="0.8781" stop-color="#92a16e"/><stop offset="0.9167" stop-color="#8e9e69"/><stop offset="1.0000" stop-color="#8b9b65"/></linearGradient>
<linearGradient id="h71" x1="0" y1="0" x2="0" y2="1"><stop offset="0.0000" stop-color="#9a7eb7"/><stop offset="0.0833" stop-color="#9e83ba"/><stop offset="0.1014" stop-color="#a086bb"/><stop offset="0.1667" stop-color="#aa92c2"/><stop offset="0.1883" stop-color="#ae98c5"/><stop offset="0.2500" stop-color="#bcaad0"/><stop offset="0.2729" stop-color="#c2b2d4"/><stop offset="0.3333" stop-color="#d4c8e0"/><stop offset="0.3433" stop-color="#d7cbe2"/><stop offset="0.4082" stop-color="#ebe5f1"/><stop offset="0.4399" stop-color="#f5f2f8"/><stop offset="0.4714" stop-color="#ffffff"/><stop offset="0.5000" stop-color="#f5f6f1"/><stop offset="0.5359" stop-color="#e8ebe0"/><stop offset="0.5833" stop-color="#d8ddcb"/><stop offset="0.6043" stop-color="#d1d7c1"/><stop offset="0.6667" stop-color="#bec7a8"/><stop offset="0.6813" stop-color="#b9c3a3"/><stop offset="0.7500" stop-color="#a8b48c"/><stop offset="0.7774" stop-color="#a2af84"/><stop offset="0.8333" stop-color="#98a676"/><stop offset="0.8790" stop-color="#92a16e"/><stop offset="0.9167" stop-color="#8e9e69"/><stop offset="1.0000" stop-color="#8b9b65"/></linearGradient>
<linearGradient id="h72" x1="0" y1="0" x2="0" y2="1"><stop offset="0.0000" stop-color="#9a7eb7"/><stop offset="0.0833" stop-color="#9e83ba"/><stop offset="0.1022" stop-color="#a086bb"/><stop offset="0.1667" stop-color="#aa92c2"/><stop offset="0.1896" stop-color="#ae98c5"/><stop offset="0.2500" stop-color="#bca9cf"/><stop offset="0.2746" stop-color="#c2b2d4"/><stop offset="0.3333" stop-color="#d3c7e0"/><stop offset="0.3452" stop-color="#d7cbe2"/><stop offset="0.4103" stop-color="#ebe5f1"/><stop offset="0.4420" stop-color="#f5f2f8"/><stop offset="0.4737" stop-color="#ffffff"/><stop offset="0.5000" stop-color="#f5f7f2"/><stop offset="0.5381" stop-color="#e8ebe0"/><stop offset="0.5833" stop-color="#d8decc"/><stop offset="0.6064" stop-color="#d1d7c1"/><stop offset="0.6667" stop-color="#bec7a9"/><stop offset="0.6832" stop-color="#b9c3a3"/><stop offset="0.7500" stop-color="#a8b48c"/><stop offset="0.7788" stop-color="#a2af84"/><stop offset="0.8333" stop-color="#98a677"/><stop offset="0.8798" stop-color="#92a16e"/><stop offset="0.9167" stop-color="#8e9e69"/><stop offset="1.0000" stop-color="#8b9b65"/></linearGradient>
<linearGradient id="h73" x1="0" y1="0" x2="0" y2="1"><stop offset="0.0000" stop-color="#9a7eb7"/><stop offset="0.0833" stop-color="#9e83ba"/><stop offset="0.1029" stop-color="#a086bb"/><stop offset="0.1667" stop-color="#aa92c2"/><stop offset="0.1908" stop-color="#ae98c5"/><stop offset="0.2500" stop-color="#bca9cf"/><stop offset="0.2762" stop-color="#c2b2d4"/><stop offset="0.3333" stop-color="#d2c6df"/><stop offset="0.3471" stop-color="#d7cbe2"/><stop offset="0.4123" stop-color="#ebe5f1"/><stop offset="0.4441" stop-color="#f5f2f8"/><stop offset="0.4758" stop-color="#ffffff"/><stop offset="0.5000" stop-color="#f6f7f3"/><stop offset="0.5402" stop-color="#e8ebe0"/><stop offset="0.5833" stop-color="#d9decc"/><stop offset="0.6084" stop-color="#d1d7c1"/><stop offset="0.6667" stop-color="#bfc8aa"/><stop offset="0.6850" stop-color="#b9c3a3"/><stop offset="0.7500" stop-color="#a9b58d"/><stop offset="0.7802" stop-color="#a2af84"/><stop offset="0.8333" stop-color="#98a777"/><stop offset="0.8806" stop-color="#92a16e"/><stop offset="0.9167" stop-color="#8e9e6a"/><stop offset="1.0000" stop-color="#8b9b65"/></linearGradient>
<linearGradient id="h74" x1="0" y1="0" x2="0" y2="1"><stop offset="0.0000" stop-color="#9a7eb7"/><stop offset="0.0833" stop-color="#9e83ba"/><stop offset="0.1034" stop-color="#a086bb"/><stop offset="0.1667" stop-color="#a992c2"/><stop offset="0.1919" stop-color="#ae98c5"/><stop offset="0.2500" stop-color="#bba9cf"/><stop offset="0.2778" stop-color="#c2b2d4"/><stop offset="0.3333" stop-color="#d2c5df"/><stop offset="0.3490" stop-color="#d7cbe2"/><stop offset="0.4143" stop-color="#ebe5f1"/><stop offset="0.4461" stop-color="#f5f2f8"/><stop offset="0.4778" stop-color="#ffffff"/><stop offset="0.5000" stop-color="#f7f8f4"/><stop offset="0.5098" stop-color="#f3f5f0"/><stop offset="0.5422" stop-color="#e8ebe0"/><stop offset="0.5833" stop-color="#dadfcd"/><stop offset="0.6103" stop-color="#d1d7c1"/><stop offset="0.6667" stop-color="#bfc8aa"/><stop offset="0.6867" stop-color="#b9c3a3"/><stop offset="0.7500" stop-color="#a9b58d"/><stop offset="0.7814" stop-color="#a2af84"/><stop offset="0.8333" stop-color="#99a777"/><stop offset="0.8813" stop-color="#92a16e"/><stop offset="0.9167" stop-color="#8e9e6a"/><stop offset="1.0000" stop-color="#8b9b65"/></linearGradient>
<linearGradient id="h75" x1="0" y1="0" x2="0" y2="1"><stop offset="0.0000" stop-color="#9a7eb7"/><stop offset="0.0833" stop-color="#9e83ba"/><stop offset="0.1041" stop-color="#a086bb"/><stop offset="0.1667" stop-color="#a991c2"/><stop offset="0.1930" stop-color="#ae98c5"/><stop offset="0.2500" stop-color="#bba8ce"/><stop offset="0.2792" stop-color="#c2b2d4"/><stop offset="0.3333" stop-color="#d1c5df"/><stop offset="0.3507" stop-color="#d7cbe2"/><stop offset="0.4162" stop-color="#ebe5f1"/><stop offset="0.4480" stop-color="#f5f2f8"/><stop offset="0.4798" stop-color="#ffffff"/><stop offset="0.5000" stop-color="#f8f9f5"/><stop offset="0.5117" stop-color="#f3f5f0"/><stop offset="0.5441" stop-color="#e8ebe0"/><stop offset="0.5833" stop-color="#dadfce"/><stop offset="0.6122" stop-color="#d1d7c1"/><stop offset="0.6667" stop-color="#c0c8ab"/><stop offset="0.6883" stop-color="#b9c3a3"/><stop offset="0.7500" stop-color="#a9b58d"/><stop offset="0.7827" stop-color="#a2af84"/><stop offset="0.8333" stop-color="#99a777"/><stop offset="0.8820" stop-color="#92a16e"/><stop offset="0.9167" stop-color="#8e9e6a"/><stop offset="1.0000" stop-color="#8b9b65"/></linearGradient>
<linearGradient id="h76" x1="0" y1="0" x2="0" y2="1"><stop offset="0.0000" stop-color="#9a7eb7"/><stop offset="0.0833" stop-color="#9e83ba"/><stop offset="0.1047" stop-color="#a086bb"/><stop offset="0.1667" stop-color="#a991c2"/><stop offset="0.1940" stop-color="#ae98c5"/><stop offset="0.2500" stop-color="#bba8ce"/><stop offset="0.2807" stop-color="#c2b2d4"/><stop offset="0.3333" stop-color="#d1c4de"/><stop offset="0.3523" stop-color="#d7cbe2"/><stop offset="0.4167" stop-color="#eae5f0"/><stop offset="0.4499" stop-color="#f5f2f8"/><stop offset="0.4816" stop-color="#ffffff"/><stop offset="0.5000" stop-color="#f8f9f6"/><stop offset="0.5136" stop-color="#f3f5f0"/><stop offset="0.5460" stop-color="#e8ebe0"/><stop offset="0.5833" stop-color="#dbe0cf"/><stop offset="0.6139" stop-color="#d1d7c1"/><stop offset="0.6667" stop-color="#c0c9ac"/><stop offset="0.6899" stop-color="#b9c3a3"/><stop offset="0.7500" stop-color="#aab68e"/><stop offset="0.7839" stop-color="#a2af84"/><stop offset="0.8333" stop-color="#99a778"/><stop offset="0.8827" stop-color="#92a16e"/><stop offset="0.9167" stop-color="#8f9e6a"/><stop offset="1.0000" stop-color="#8b9b65"/></linearGradient>
<linearGradient id="h77" x1="0" y1="0" x2="0" y2="1"><stop offset="0.0000" stop-color="#9a7eb7"/><stop offset="0.0833" stop-color="#9e83ba"/><stop offset="0.1053" stop-color="#a086bb"/><stop offset="0.1667" stop-color="#a991c2"/><stop offset="0.1950" stop-color="#ae98c5"/><stop offset="0.2500" stop-color="#baa7ce"/><stop offset="0.2820" stop-color="#c2b2d4"/><stop offset="0.3333" stop-color="#d1c4de"/><stop offset="0.3539" stop-color="#d7cbe2"/><stop offset="0.4167" stop-color="#eae4f0"/><stop offset="0.4516" stop-color="#f5f2f8"/><stop offset="0.4833" stop-color="#ffffff"/><stop offset="0.5000" stop-color="#f9faf7"/><stop offset="0.5152" stop-color="#f3f5f0"/><stop offset="0.5477" stop-color="#e8ebe0"/><stop offset="0.5833" stop-color="#dbe0d0"/><stop offset="0.6156" stop-color="#d1d7c1"/><stop offset="0.6667" stop-color="#c1c9ac"/><stop offset="0.6913" stop-color="#b9c3a3"/><stop offset="0.7500" stop-color="#aab68e"/><stop offset="0.7850" stop-color="#a2af84"/><stop offset="0.8333" stop-color="#99a778"/><stop offset="0.8833" stop-color="#92a16e"/><stop offset="0.9167" stop-color="#8f9e6a"/><stop offset="1.0000" stop-color="#8b9b65"/></linearGradient>
<linearGradient id="h78" x1="0" y1="0" x2="0" y2="1"><stop offset="0.0000" stop-color="#9a7eb7"/><stop offset="0.0833" stop-color="#9e83ba"/><stop offset="0.1058" stop-color="#a086bb"/><stop offset="0.1667" stop-color="#a991c2"/><stop offset="0.1960" stop-color="#ae98c5"/><stop offset="0.2500" stop-color="#baa7ce"/><stop offset="0.2833" stop-color="#c2b2d4"/><stop offset="0.3333" stop-color="#d0c3de"/><stop offset="0.3554" stop-color="#d7cbe2"/><stop offset="0.4167" stop-color="#e9e3f0"/><stop offset="0.4532" stop-color="#f5f2f8"/><stop offset="0.4850" stop-color="#ffffff"/><stop offset="0.5000" stop-color="#fafaf8"/><stop offset="0.5169" stop-color="#f3f5f0"/><stop offset="0.5493" stop-color="#e8ebe0"/><stop offset="0.5833" stop-color="#dce1d0"/><stop offset="0.6171" stop-color="#d1d7c1"/><stop offset="0.6667" stop-color="#c1caad"/><stop offset="0.6927" stop-color="#b9c3a3"/><stop offset="0.7500" stop-color="#aab68f"/><stop offset="0.7860" stop-color="#a2af84"/><stop offset="0.8333" stop-color="#99a778"/><stop offset="0.8839" stop-color="#92a16e"/><stop offset="0.9167" stop-color="#8f9e6a"/><stop offset="1.0000" stop-color="#8b9b65"/></linearGradient>
<linearGradient id="h79" x1="0" y1="0" x2="0" y2="1"><stop offset="0.0000" stop-color="#9a7eb7"/><stop offset="0.0833" stop-color="#9e83ba"/><stop offset="0.1063" stop-color="#a086bb"/><stop offset="0.1667" stop-color="#a991c1"/><stop offset="0.1969" stop-color="#ae98c5"/><stop offset="0.2500" stop-color="#baa7ce"/><stop offset="0.2846" stop-color="#c2b2d4"/><stop offset="0.3333" stop-color="#d0c3dd"/><stop offset="0.3568" stop-color="#d7cbe2"/><stop offset="0.4167" stop-color="#e9e3ef"/><stop offset="0.4548" stop-color="#f5f2f8"/><stop offset="0.4866" stop-color="#ffffff"/><stop offset="0.5000" stop-color="#fafbf9"/><stop offset="0.5184" stop-color="#f3f5f0"/><stop offset="0.5509" stop-color="#e8ebe0"/><stop offset="0.5833" stop-color="#dce1d1"/><stop offset="0.6186" stop-color="#d1d7c1"/><stop offset="0.6667" stop-color="#c1caad"/><stop offset="0.6940" stop-color="#b9c3a3"/><stop offset="0.7500" stop-color="#abb68f"/><stop offset="0.7870" stop-color="#a2af84"/><stop offset="0.8333" stop-color="#99a778"/><stop offset="0.8846" stop-color="#92a16e"/><stop offset="0.9167" stop-color="#8f9e6a"/><stop offset="1.0000" stop-color="#8b9b65"/></linearGradient>
<linearGradient id="h80" x1="0" y1="0" x2="0" y2="1"><stop offset="0.0000" stop-color="#9a7eb7"/><stop offset="0.0833" stop-color="#9e83ba"/><stop offset="0.1068" stop-color="#a086bb"/><stop offset="0.1667" stop-color="#a991c1"/><stop offset="0.1978" stop-color="#ae98c5"/><stop offset="0.2500" stop-color="#baa6cd"/><stop offset="0.2857" stop-color="#c2b2d4"/><stop offset="0.3333" stop-color="#cfc2dd"/><stop offset="0.3581" stop-color="#d7cbe2"/><stop offset="0.4167" stop-color="#e8e2ef"/><stop offset="0.4562" stop-color="#f5f2f8"/><stop offset="0.4880" stop-color="#ffffff"/><stop offset="0.5000" stop-color="#fbfbf9"/><stop offset="0.5200" stop-color="#f3f5f0"/><stop offset="0.5523" stop-color="#e8ebe0"/><stop offset="0.5833" stop-color="#dde2d2"/><stop offset="0.6200" stop-color="#d1d7c1"/><stop offset="0.6667" stop-color="#c2caae"/><stop offset="0.6951" stop-color="#b9c3a3"/><stop offset="0.7500" stop-color="#abb68f"/><stop offset="0.7879" stop-color="#a2af84"/><stop offset="0.8333" stop-color="#99a778"/><stop offset="0.8850" stop-color="#92a16e"/><stop offset="0.9167" stop-color="#8f9e6a"/><stop offset="1.0000" stop-color="#8b9b65"/></linearGradient>
<linearGradient id="h81" x1="0" y1="0" x2="0" y2="1"><stop offset="0.0000" stop-color="#9a7eb7"/><stop offset="0.0833" stop-color="#9e83ba"/><stop offset="0.1072" stop-color="#a086bb"/><stop offset="0.1667" stop-color="#a890c1"/><stop offset="0.1986" stop-color="#ae98c5"/><stop offset="0.2500" stop-color="#b9a6cd"/><stop offset="0.2868" stop-color="#c2b2d4"/><stop offset="0.3333" stop-color="#cfc2dd"/><stop offset="0.3594" stop-color="#d7cbe2"/><stop offset="0.4167" stop-color="#e8e2ef"/><stop offset="0.4577" stop-color="#f5f2f8"/><stop offset="0.4894" stop-color="#ffffff"/><stop offset="0.5000" stop-color="#fbfcfa"/><stop offset="0.5213" stop-color="#f3f5f0"/><stop offset="0.5537" stop-color="#e8ebe0"/><stop offset="0.5833" stop-color="#dde2d2"/><stop offset="0.6212" stop-color="#d1d7c1"/><stop offset="0.6667" stop-color="#c2cbae"/><stop offset="0.6963" stop-color="#b9c3a3"/><stop offset="0.7500" stop-color="#abb790"/><stop offset="0.7888" stop-color="#a2af84"/><stop offset="0.8333" stop-color="#9aa878"/><stop offset="0.8856" stop-color="#92a16e"/><stop offset="0.9167" stop-color="#8f9e6a"/><stop offset="1.0000" stop-color="#8b9b65"/></linearGradient>
<linearGradient id="h82" x1="0" y1="0" x2="0" y2="1"><stop offset="0.0000" stop-color="#9a7eb7"/><stop offset="0.0833" stop-color="#9e83ba"/><stop offset="0.1077" stop-color="#a086bb"/><stop offset="0.1667" stop-color="#a890c1"/><stop offset="0.1993" stop-color="#ae98c5"/><stop offset="0.2500" stop-color="#b9a6cd"/><stop offset="0.2878" stop-color="#c2b2d4"/><stop offset="0.3333" stop-color="#cfc1dd"/><stop offset="0.3606" stop-color="#d7cbe2"/><stop offset="0.4167" stop-color="#e8e1ee"/><stop offset="0.4269" stop-color="#ebe5f1"/><stop offset="0.4589" stop-color="#f5f2f8"/><stop offset="0.4908" stop-color="#ffffff"/><stop offset="0.5000" stop-color="#fcfcfb"/><stop offset="0.5227" stop-color="#f3f5f0"/><stop offset="0.5550" stop-color="#e8ebe0"/><stop offset="0.5833" stop-color="#dee2d3"/><stop offset="0.6224" stop-color="#d1d7c1"/><stop offset="0.6667" stop-color="#c3cbaf"/><stop offset="0.6973" stop-color="#b9c3a3"/><stop offset="0.7500" stop-color="#abb790"/><stop offset="0.7896" stop-color="#a2af84"/><stop offset="0.8333" stop-color="#9aa879"/><stop offset="0.8860" stop-color="#92a16e"/><stop offset="0.9167" stop-color="#8f9e6a"/><stop offset="1.0000" stop-color="#8b9b65"/></linearGradient>
<linearGradient id="h83" x1="0" y1="0" x2="0" y2="1"><stop offset="0.0000" stop-color="#9a7eb7"/><stop offset="0.0833" stop-color="#9e83ba"/><stop offset="0.1081" stop-color="#a086bb"/><stop offset="0.1667" stop-color="#a890c1"/><stop offset="0.2000" stop-color="#ae98c5"/><stop offset="0.2500" stop-color="#b9a5cd"/><stop offset="0.2888" stop-color="#c2b2d4"/><stop offset="0.3333" stop-color="#cec1dc"/><stop offset="0.3617" stop-color="#d7cbe2"/><stop offset="0.4167" stop-color="#e7e1ee"/><stop offset="0.4280" stop-color="#ebe5f1"/><stop offset="0.4601" stop-color="#f5f2f8"/><stop offset="0.4920" stop-color="#ffffff"/><stop offset="0.5239" stop-color="#f3f5f0"/><stop offset="0.5562" stop-color="#e8ebe0"/><stop offset="0.5833" stop-color="#dee3d4"/><stop offset="0.6236" stop-color="#d1d7c1"/><stop offset="0.6667" stop-color="#c3cbaf"/><stop offset="0.6983" stop-color="#b9c3a3"/><stop offset="0.7500" stop-color="#acb790"/><stop offset="0.7903" stop-color="#a2af84"/><stop offset="0.8333" stop-color="#9aa879"/><stop offset="0.8864" stop-color="#92a16e"/><stop offset="0.9167" stop-color="#8f9e6a"/><stop offset="1.0000" stop-color="#8b9b65"/></linearGradient>
<linearGradient id="h84" x1="0" y1="0" x2="0" y2="1"><stop offset="0.0000" stop-color="#9a7eb7"/><stop offset="0.0833" stop-color="#9e83ba"/><stop offset="0.1084" stop-color="#a086bb"/><stop offset="0.1667" stop-color="#a890c1"/><stop offset="0.2007" stop-color="#ae98c5"/><stop offset="0.2500" stop-color="#b9a5cd"/><stop offset="0.2897" stop-color="#c2b2d4"/><stop offset="0.3333" stop-color="#cec1dc"/><stop offset="0.3627" stop-color="#d7cbe2"/><stop offset="0.4167" stop-color="#e7e0ee"/><stop offset="0.4291" stop-color="#ebe5f1"/><stop offset="0.4612" stop-color="#f5f2f8"/><stop offset="0.4931" stop-color="#ffffff"/><stop offset="0.5250" stop-color="#f3f5f0"/><stop offset="0.5573" stop-color="#e8ebe0"/><stop offset="0.5833" stop-color="#dfe3d4"/><stop offset="0.6247" stop-color="#d1d7c1"/><stop offset="0.6667" stop-color="#c3cbb0"/><stop offset="0.6992" stop-color="#b9c3a3"/><stop offset="0.7500" stop-color="#acb790"/><stop offset="0.7910" stop-color="#a2af84"/><stop offset="0.8333" stop-color="#9aa879"/><stop offset="0.8868" stop-color="#92a16e"/><stop offset="0.9167" stop-color="#8f9e6a"/><stop offset="1.0000" stop-color="#8b9b65"/></linearGradient>
<linearGradient id="h85" x1="0" y1="0" x2="0" y2="1"><stop offset="0.0000" stop-color="#9a7eb7"/><stop offset="0.0833" stop-color="#9e83ba"/><stop offset="0.1089" stop-color="#a086bb"/><stop offset="0.1667" stop-color="#a890c1"/><stop offset="0.2013" stop-color="#ae98c5"/><stop offset="0.2500" stop-color="#b9a5cd"/><stop offset="0.2904" stop-color="#c2b2d4"/><stop offset="0.3333" stop-color="#cec0dc"/><stop offset="0.3637" stop-color="#d7cbe2"/><stop offset="0.4167" stop-color="#e7e0ee"/><stop offset="0.4301" stop-color="#ebe5f1"/><stop offset="0.4622" stop-color="#f5f2f8"/><stop offset="0.4941" stop-color="#ffffff"/><stop offset="0.5260" stop-color="#f3f5f0"/><stop offset="0.5583" stop-color="#e8ebe0"/><stop offset="0.5833" stop-color="#dfe3d4"/><stop offset="0.6256" stop-color="#d1d7c1"/><stop offset="0.6667" stop-color="#c3ccb0"/><stop offset="0.7001" stop-color="#b9c3a3"/><stop offset="0.7500" stop-color="#acb791"/><stop offset="0.7916" stop-color="#a2af84"/><stop offset="0.8333" stop-color="#9aa879"/><stop offset="0.8871" stop-color="#92a16e"/><stop offset="0.9167" stop-color="#8f9e6a"/><stop offset="1.0000" stop-color="#8b9b65"/></linearGradient>
<linearGradient id="h86" x1="0" y1="0" x2="0" y2="1"><stop offset="0.0000" stop-color="#9a7eb7"/><stop offset="0.0833" stop-color="#9e83ba"/><stop offset="0.1091" stop-color="#a086bb"/><stop offset="0.1667" stop-color="#a890c1"/><stop offset="0.2019" stop-color="#ae98c5"/><stop offset="0.2500" stop-color="#b8a5cd"/><stop offset="0.2912" stop-color="#c2b2d4"/><stop offset="0.3333" stop-color="#cec0dc"/><stop offset="0.3646" stop-color="#d7cbe2"/><stop offset="0.4167" stop-color="#e6dfed"/><stop offset="0.4311" stop-color="#ebe5f1"/><stop offset="0.4632" stop-color="#f5f2f8"/><stop offset="0.4951" stop-color="#ffffff"/><stop offset="0.5270" stop-color="#f3f5f0"/><stop offset="0.5592" stop-color="#e8ebe0"/><stop offset="0.5833" stop-color="#dfe4d5"/><stop offset="0.6264" stop-color="#d1d7c1"/><stop offset="0.6667" stop-color="#c4ccb0"/><stop offset="0.7009" stop-color="#b9c3a3"/><stop offset="0.7500" stop-color="#acb891"/><stop offset="0.7922" stop-color="#a2af84"/><stop offset="0.8333" stop-color="#9aa879"/><stop offset="0.8874" stop-color="#92a16e"/><stop offset="0.9167" stop-color="#8f9e6a"/><stop offset="1.0000" stop-color="#8b9b65"/></linearGradient>
<linearGradient id="h87" x1="0" y1="0" x2="0" y2="1"><stop offset="0.0000" stop-color="#9a7eb7"/><stop offset="0.0833" stop-color="#9e83ba"/><stop offset="0.1094" stop-color="#a086bb"/><stop offset="0.1667" stop-color="#a890c1"/><stop offset="0.2024" stop-color="#ae98c5"/><stop offset="0.2500" stop-color="#b8a5cd"/><stop offset="0.2919" stop-color="#c2b2d4"/><stop offset="0.3333" stop-color="#cdc0dc"/><stop offset="0.3653" stop-color="#d7cbe2"/><stop offset="0.4167" stop-color="#e6dfed"/><stop offset="0.4319" stop-color="#ebe5f1"/><stop offset="0.4641" stop-color="#f5f2f8"/><stop offset="0.4959" stop-color="#ffffff"/><stop offset="0.5279" stop-color="#f3f5f0"/><stop offset="0.5601" stop-color="#e8ebe0"/><stop offset="0.5833" stop-color="#e0e4d5"/><stop offset="0.6272" stop-color="#d1d7c1"/><stop offset="0.6667" stop-color="#c4ccb1"/><stop offset="0.7016" stop-color="#b9c3a3"/><stop offset="0.7500" stop-color="#acb891"/><stop offset="0.7927" stop-color="#a2af84"/><stop offset="0.8333" stop-color="#9aa879"/><stop offset="0.8878" stop-color="#92a16e"/><stop offset="0.9167" stop-color="#8f9e6a"/><stop offset="1.0000" stop-color="#8b9b65"/></linearGradient>
<linearGradient id="h88" x1="0" y1="0" x2="0" y2="1"><stop offset="0.0000" stop-color="#9a7eb7"/><stop offset="0.0833" stop-color="#9e82ba"/><stop offset="0.1097" stop-color="#a086bb"/><stop offset="0.1667" stop-color="#a890c1"/><stop offset="0.2029" stop-color="#ae98c5"/><stop offset="0.2500" stop-color="#b8a4cc"/><stop offset="0.2926" stop-color="#c2b2d4"/><stop offset="0.3333" stop-color="#cdc0dc"/><stop offset="0.3660" stop-color="#d7cbe2"/><stop offset="0.4167" stop-color="#e6dfed"/><stop offset="0.4327" stop-color="#ebe5f1"/><stop offset="0.4649" stop-color="#f5f2f8"/><stop offset="0.4967" stop-color="#ffffff"/><stop offset="0.5287" stop-color="#f3f5f0"/><stop offset="0.5609" stop-color="#e8ebe0"/><stop offset="0.5833" stop-color="#e0e4d6"/><stop offset="0.6280" stop-color="#d1d7c1"/><stop offset="0.6667" stop-color="#c4ccb1"/><stop offset="0.7022" stop-color="#b9c3a3"/><stop offset="0.7500" stop-color="#acb891"/><stop offset="0.7932" stop-color="#a2af84"/><stop offset="0.8333" stop-color="#9aa879"/><stop offset="0.8880" stop-color="#92a16e"/><stop offset="0.9167" stop-color="#8f9e6a"/><stop offset="1.0000" stop-color="#8b9b65"/></linearGradient>
<linearGradient id="h89" x1="0" y1="0" x2="0" y2="1"><stop offset="0.0000" stop-color="#9a7eb7"/><stop offset="0.0833" stop-color="#9d82b9"/><stop offset="0.1100" stop-color="#a086bb"/><stop offset="0.1667" stop-color="#a890c1"/><stop offset="0.2033" stop-color="#ae98c5"/><stop offset="0.2500" stop-color="#b8a4cc"/><stop offset="0.2931" stop-color="#c2b2d4"/><stop offset="0.3333" stop-color="#cdbfdb"/><stop offset="0.3667" stop-color="#d7cbe2"/><stop offset="0.4167" stop-color="#e6dfed"/><stop offset="0.4333" stop-color="#ebe5f1"/><stop offset="0.4656" stop-color="#f5f2f8"/><stop offset="0.4974" stop-color="#ffffff"/><stop offset="0.5293" stop-color="#f3f5f0"/><stop offset="0.5616" stop-color="#e8ebe0"/><stop offset="0.5833" stop-color="#e0e4d6"/><stop offset="0.6287" stop-color="#d1d7c1"/><stop offset="0.6667" stop-color="#c4ccb1"/><stop offset="0.7028" stop-color="#b9c3a3"/><stop offset="0.7500" stop-color="#adb891"/><stop offset="0.7937" stop-color="#a2af84"/><stop offset="0.8333" stop-color="#9aa879"/><stop offset="0.8883" stop-color="#92a16e"/><stop offset="0.9167" stop-color="#8f9e6a"/><stop offset="1.0000" stop-color="#8b9b65"/></linearGradient>
<linearGradient id="h90" x1="0" y1="0" x2="0" y2="1"><stop offset="0.0000" stop-color="#9a7eb7"/><stop offset="0.0833" stop-color="#9d82b9"/><stop offset="0.1101" stop-color="#a086bb"/><stop offset="0.1667" stop-color="#a88fc1"/><stop offset="0.2037" stop-color="#ae98c5"/><stop offset="0.2500" stop-color="#b8a4cc"/><stop offset="0.2936" stop-color="#c2b2d4"/><stop offset="0.3333" stop-color="#cdbfdb"/><stop offset="0.3672" stop-color="#d7cbe2"/><stop offset="0.4167" stop-color="#e5deed"/><stop offset="0.4340" stop-color="#ebe5f1"/><stop offset="0.4661" stop-color="#f5f2f8"/><stop offset="0.4980" stop-color="#ffffff"/><stop offset="0.5299" stop-color="#f3f5f0"/><stop offset="0.5622" stop-color="#e8ebe0"/><stop offset="0.5833" stop-color="#e0e5d6"/><stop offset="0.6292" stop-color="#d1d7c1"/><stop offset="0.6667" stop-color="#c4cdb1"/><stop offset="0.7032" stop-color="#b9c3a3"/><stop offset="0.7500" stop-color="#adb892"/><stop offset="0.7940" stop-color="#a2af84"/><stop offset="0.8333" stop-color="#9aa879"/><stop offset="0.8886" stop-color="#92a16e"/><stop offset="0.9167" stop-color="#8f9e6a"/><stop offset="1.0000" stop-color="#8b9b65"/></linearGradient>
<linearGradient id="h91" x1="0" y1="0" x2="0" y2="1"><stop offset="0.0000" stop-color="#9a7eb7"/><stop offset="0.0833" stop-color="#9d82b9"/><stop offset="0.1103" stop-color="#a086bb"/><stop offset="0.1667" stop-color="#a88fc1"/><stop offset="0.2040" stop-color="#ae98c5"/><stop offset="0.2500" stop-color="#b8a4cc"/><stop offset="0.2940" stop-color="#c2b2d4"/><stop offset="0.3333" stop-color="#cdbfdb"/><stop offset="0.3677" stop-color="#d7cbe2"/><stop offset="0.4167" stop-color="#e5deed"/><stop offset="0.4344" stop-color="#ebe5f1"/><stop offset="0.4667" stop-color="#f5f2f8"/><stop offset="0.4986" stop-color="#ffffff"/><stop offset="0.5304" stop-color="#f3f5f0"/><stop offset="0.5627" stop-color="#e8ebe0"/><stop offset="0.5833" stop-color="#e0e5d6"/><stop offset="0.6297" stop-color="#d1d7c1"/><stop offset="0.6667" stop-color="#c5cdb1"/><stop offset="0.7037" stop-color="#b9c3a3"/><stop offset="0.7500" stop-color="#adb892"/><stop offset="0.7943" stop-color="#a2af84"/><stop offset="0.8333" stop-color="#9aa879"/><stop offset="0.8887" stop-color="#92a16e"/><stop offset="0.9167" stop-color="#8f9e6a"/><stop offset="1.0000" stop-color="#8b9b65"/></linearGradient>
<linearGradient id="h92" x1="0" y1="0" x2="0" y2="1"><stop offset="0.0000" stop-color="#9a7eb7"/><stop offset="0.0833" stop-color="#9d82b9"/><stop offset="0.1104" stop-color="#a086bb"/><stop offset="0.1667" stop-color="#a88fc1"/><stop offset="0.2042" stop-color="#ae98c5"/><stop offset="0.2500" stop-color="#b8a4cc"/><stop offset="0.2943" stop-color="#c2b2d4"/><stop offset="0.3333" stop-color="#cdbfdb"/><stop offset="0.3681" stop-color="#d7cbe2"/><stop offset="0.4167" stop-color="#e5deed"/><stop offset="0.4349" stop-color="#ebe5f1"/><stop offset="0.4671" stop-color="#f5f2f8"/><stop offset="0.4990" stop-color="#ffffff"/><stop offset="0.5309" stop-color="#f3f5f0"/><stop offset="0.5631" stop-color="#e8ebe0"/><stop offset="0.5833" stop-color="#e1e5d7"/><stop offset="0.6301" stop-color="#d1d7c1"/><stop offset="0.6667" stop-color="#c5cdb2"/><stop offset="0.7040" stop-color="#b9c3a3"/><stop offset="0.7500" stop-color="#adb892"/><stop offset="0.7946" stop-color="#a2af84"/><stop offset="0.8333" stop-color="#9aa87a"/><stop offset="0.8889" stop-color="#92a16e"/><stop offset="0.9167" stop-color="#8f9e6a"/><stop offset="1.0000" stop-color="#8b9b65"/></linearGradient>
<linearGradient id="h93" x1="0" y1="0" x2="0" y2="1"><stop offset="0.0000" stop-color="#9a7eb7"/><stop offset="0.0833" stop-color="#9d82b9"/><stop offset="0.1107" stop-color="#a086bb"/><stop offset="0.1667" stop-color="#a88fc1"/><stop offset="0.2044" stop-color="#ae98c5"/><stop offset="0.2500" stop-color="#b8a4cc"/><stop offset="0.2947" stop-color="#c2b2d4"/><stop offset="0.3333" stop-color="#cdbfdb"/><stop offset="0.3684" stop-color="#d7cbe2"/><stop offset="0.4167" stop-color="#e5deec"/><stop offset="0.4353" stop-color="#ebe5f1"/><stop offset="0.4674" stop-color="#f5f2f8"/><stop offset="0.4993" stop-color="#ffffff"/><stop offset="0.5312" stop-color="#f3f5f0"/><stop offset="0.5634" stop-color="#e8ebe0"/><stop offset="0.5833" stop-color="#e1e5d7"/><stop offset="0.6304" stop-color="#d1d7c1"/><stop offset="0.6667" stop-color="#c5cdb2"/><stop offset="0.7043" stop-color="#b9c3a3"/><stop offset="0.7500" stop-color="#adb892"/><stop offset="0.7948" stop-color="#a2af84"/><stop offset="0.8333" stop-color="#9aa87a"/><stop offset="0.8890" stop-color="#92a16e"/><stop offset="0.9167" stop-color="#8f9e6a"/><stop offset="1.0000" stop-color="#8b9b65"/></linearGradient>
<linearGradient id="h94" x1="0" y1="0" x2="0" y2="1"><stop offset="0.0000" stop-color="#9a7eb7"/><stop offset="0.0833" stop-color="#9d82b9"/><stop offset="0.1107" stop-color="#a086bb"/><stop offset="0.1667" stop-color="#a88fc1"/><stop offset="0.2047" stop-color="#ae98c5"/><stop offset="0.2500" stop-color="#b8a4cc"/><stop offset="0.2949" stop-color="#c2b2d4"/><stop offset="0.3333" stop-color="#cdbfdb"/><stop offset="0.3687" stop-color="#d7cbe2"/><stop offset="0.4167" stop-color="#e5deec"/><stop offset="0.4356" stop-color="#ebe5f1"/><stop offset="0.4678" stop-color="#f5f2f8"/><stop offset="0.4997" stop-color="#ffffff"/><stop offset="0.5316" stop-color="#f3f5f0"/><stop offset="0.5638" stop-color="#e8ebe0"/><stop offset="0.5833" stop-color="#e1e5d7"/><stop offset="0.6307" stop-color="#d1d7c1"/><stop offset="0.6667" stop-color="#c5cdb2"/><stop offset="0.7046" stop-color="#b9c3a3"/><stop offset="0.7500" stop-color="#adb892"/><stop offset="0.7950" stop-color="#a2af84"/><stop offset="0.8333" stop-color="#9ba87a"/><stop offset="0.8891" stop-color="#92a16e"/><stop offset="0.9167" stop-color="#8f9e6a"/><stop offset="1.0000" stop-color="#8b9b65"/></linearGradient>
<linearGradient id="h95" x1="0" y1="0" x2="0" y2="1"><stop offset="0.0000" stop-color="#9a7eb7"/><stop offset="0.0833" stop-color="#9d82b9"/><stop offset="0.1108" stop-color="#a086bb"/><stop offset="0.1667" stop-color="#a88fc1"/><stop offset="0.2048" stop-color="#ae98c5"/><stop offset="0.2500" stop-color="#b8a4cc"/><stop offset="0.2950" stop-color="#c2b2d4"/><stop offset="0.3333" stop-color="#cdbfdb"/><stop offset="0.3689" stop-color="#d7cbe2"/><stop offset="0.4167" stop-color="#e5deec"/><stop offset="0.4358" stop-color="#ebe5f1"/><stop offset="0.4680" stop-color="#f5f2f8"/><stop offset="0.4999" stop-color="#ffffff"/><stop offset="0.5318" stop-color="#f3f5f0"/><stop offset="0.5640" stop-color="#e8ebe0"/><stop offset="0.5833" stop-color="#e1e5d7"/><stop offset="0.6309" stop-color="#d1d7c1"/><stop offset="0.6667" stop-color="#c5cdb2"/><stop offset="0.7047" stop-color="#b9c3a3"/><stop offset="0.7500" stop-color="#adb892"/><stop offset="0.7951" stop-color="#a2af84"/><stop offset="0.8333" stop-color="#9ba87a"/><stop offset="0.8891" stop-color="#92a16e"/><stop offset="0.9167" stop-color="#8f9e6a"/><stop offset="1.0000" stop-color="#8b9b65"/></linearGradient>
<linearGradient id="h96" x1="0" y1="0" x2="0" y2="1"><stop offset="0.0000" stop-color="#9a7eb7"/><stop offset="0.0833" stop-color="#9d82b9"/><stop offset="0.1108" stop-color="#a086bb"/><stop offset="0.1667" stop-color="#a88fc1"/><stop offset="0.2048" stop-color="#ae98c5"/><stop offset="0.2500" stop-color="#b8a4cc"/><stop offset="0.2951" stop-color="#c2b2d4"/><stop offset="0.3333" stop-color="#cdbfdb"/><stop offset="0.3690" stop-color="#d7cbe2"/><stop offset="0.4167" stop-color="#e5deec"/><stop offset="0.4359" stop-color="#ebe5f1"/><stop offset="0.4681" stop-color="#f5f2f8"/><stop offset="0.5000" stop-color="#ffffff"/><stop offset="0.5319" stop-color="#f3f5f0"/><stop offset="0.5641" stop-color="#e8ebe0"/><stop offset="0.5833" stop-color="#e1e5d7"/><stop offset="0.6310" stop-color="#d1d7c1"/><stop offset="0.6667" stop-color="#c5cdb2"/><stop offset="0.7048" stop-color="#b9c3a3"/><stop offset="0.7500" stop-color="#adb892"/><stop offset="0.7951" stop-color="#a2af84"/><stop offset="0.8333" stop-color="#9ba87a"/><stop offset="0.8891" stop-color="#92a16e"/><stop offset="0.9167" stop-color="#8f9e6a"/><stop offset="1.0000" stop-color="#8b9b65"/></linearGradient>
<linearGradient id="h97" x1="0" y1="0" x2="0" y2="1"><stop offset="0.0000" stop-color="#9a7eb7"/><stop offset="0.0833" stop-color="#9d82b9"/><stop offset="0.1108" stop-color="#a086bb"/><stop offset="0.1667" stop-color="#a88fc1"/><stop offset="0.2048" stop-color="#ae98c5"/><stop offset="0.2500" stop-color="#b8a4cc"/><stop offset="0.2952" stop-color="#c2b2d4"/><stop offset="0.3333" stop-color="#cdbfdb"/><stop offset="0.3690" stop-color="#d7cbe2"/><stop offset="0.4167" stop-color="#e5deec"/><stop offset="0.4359" stop-color="#ebe5f1"/><stop offset="0.4681" stop-color="#f5f2f8"/><stop offset="0.5000" stop-color="#ffffff"/><stop offset="0.5319" stop-color="#f3f5f0"/><stop offset="0.5641" stop-color="#e8ebe0"/><stop offset="0.5833" stop-color="#e1e5d7"/><stop offset="0.6310" stop-color="#d1d7c1"/><stop offset="0.6667" stop-color="#c5cdb2"/><stop offset="0.7048" stop-color="#b9c3a3"/><stop offset="0.7500" stop-color="#adb892"/><stop offset="0.7952" stop-color="#a2af84"/><stop offset="0.8333" stop-color="#9ba87a"/><stop offset="0.8892" stop-color="#92a16e"/><stop offset="0.9167" stop-color="#8f9e6a"/><stop offset="1.0000" stop-color="#8b9b65"/></linearGradient>
<clipPath id="cph"><rect x="96.1" y="515.6" width="584.3" height="357"/></clipPath>
<filter id="hblur" filterUnits="userSpaceOnUse" x="76.1" y="510.6" width="624.3" height="367"><feGaussianBlur stdDeviation="1.6 0"/></filter>
<linearGradient id="cbar" x1="0" y1="0" x2="0" y2="1"><stop offset="0" stop-color="#9066c0"/><stop offset="0.5" stop-color="#ffffff"/><stop offset="1" stop-color="#5a7038"/></linearGradient>
<radialGradient id="sk" cx="0.5" cy="0.5" r="0.5" fx="0.37" fy="0.31"><stop offset="0" stop-color="#ffffff"/><stop offset="0.1" stop-color="#ffffff"/><stop offset="0.22" stop-color="#c8c8c8"/><stop offset="0.46" stop-color="#4f4f4f"/><stop offset="0.85" stop-color="#4f4f4f"/><stop offset="1" stop-color="#3a3a3a"/></radialGradient>
<radialGradient id="sr" cx="0.5" cy="0.5" r="0.5" fx="0.37" fy="0.31"><stop offset="0" stop-color="#ffffff"/><stop offset="0.1" stop-color="#ffffff"/><stop offset="0.22" stop-color="#ffc9cb"/><stop offset="0.46" stop-color="#ec3940"/><stop offset="0.85" stop-color="#ec3940"/><stop offset="1" stop-color="#d42a32"/></radialGradient>
<radialGradient id="sb" cx="0.5" cy="0.5" r="0.5" fx="0.37" fy="0.31"><stop offset="0" stop-color="#ffffff"/><stop offset="0.1" stop-color="#ffffff"/><stop offset="0.22" stop-color="#bcd6ff"/><stop offset="0.46" stop-color="#1c62de"/><stop offset="0.85" stop-color="#1c62de"/><stop offset="1" stop-color="#1550c0"/></radialGradient>
<radialGradient id="sp" cx="0.5" cy="0.5" r="0.5" fx="0.37" fy="0.31"><stop offset="0" stop-color="#ffffff"/><stop offset="0.1" stop-color="#ffffff"/><stop offset="0.22" stop-color="#ecd9fb"/><stop offset="0.46" stop-color="#b57ee0"/><stop offset="0.85" stop-color="#b57ee0"/><stop offset="1" stop-color="#a06ccc"/></radialGradient>
<radialGradient id="sc" cx="0.5" cy="0.5" r="0.5" fx="0.37" fy="0.31"><stop offset="0" stop-color="#ffffff"/><stop offset="0.1" stop-color="#ffffff"/><stop offset="0.22" stop-color="#c8f6f6"/><stop offset="0.46" stop-color="#12c8c8"/><stop offset="0.85" stop-color="#12c8c8"/><stop offset="1" stop-color="#0cb0b0"/></radialGradient>
<radialGradient id="so" cx="0.5" cy="0.5" r="0.5" fx="0.37" fy="0.31"><stop offset="0" stop-color="#ffffff"/><stop offset="0.1" stop-color="#ffffff"/><stop offset="0.22" stop-color="#dcdc9c"/><stop offset="0.46" stop-color="#8c8c10"/><stop offset="0.85" stop-color="#8c8c10"/><stop offset="1" stop-color="#74740a"/></radialGradient>
<radialGradient id="sg" cx="0.5" cy="0.5" r="0.5" fx="0.37" fy="0.31"><stop offset="0" stop-color="#ffffff"/><stop offset="0.1" stop-color="#ffffff"/><stop offset="0.22" stop-color="#ffd6b4"/><stop offset="0.46" stop-color="#f56a0c"/><stop offset="0.85" stop-color="#f56a0c"/><stop offset="1" stop-color="#dc5a06"/></radialGradient>
<radialGradient id="su" cx="0.5" cy="0.5" r="0.5" fx="0.37" fy="0.31"><stop offset="0" stop-color="#ffffff"/><stop offset="0.1" stop-color="#ffffff"/><stop offset="0.22" stop-color="#dbe9f8"/><stop offset="0.46" stop-color="#6a9bd0"/><stop offset="0.85" stop-color="#6a9bd0"/><stop offset="1" stop-color="#5886bc"/></radialGradient>
<radialGradient id="sG" cx="0.5" cy="0.5" r="0.5" fx="0.37" fy="0.31"><stop offset="0" stop-color="#ffffff"/><stop offset="0.1" stop-color="#ffffff"/><stop offset="0.22" stop-color="#c3ecd5"/><stop offset="0.46" stop-color="#35a86b"/><stop offset="0.85" stop-color="#35a86b"/><stop offset="1" stop-color="#2a9059"/></radialGradient>
<radialGradient id="sy" cx="0.5" cy="0.5" r="0.5" fx="0.37" fy="0.31"><stop offset="0" stop-color="#ffffff"/><stop offset="0.1" stop-color="#ffffff"/><stop offset="0.22" stop-color="#f3dfa4"/><stop offset="0.46" stop-color="#c8960c"/><stop offset="0.85" stop-color="#c8960c"/><stop offset="1" stop-color="#ac8006"/></radialGradient>
</defs>
<text x="64.5" y="24.9" font-size="28.5" font-family='"Liberation Sans", sans-serif' fill="#000" font-weight="bold" >a</text>
<text x="429" y="24.9" font-size="28.5" font-family='"Liberation Sans", sans-serif' fill="#000" font-weight="bold" >b</text>
<text x="811.8" y="24.9" font-size="28.5" font-family='"Liberation Sans", sans-serif' fill="#000" font-weight="bold" >c</text>
<text x="1429.3" y="24.8" font-size="28.5" font-family='"Liberation Sans", sans-serif' fill="#000" font-weight="bold" >d</text>
<text x="0" y="513.6" font-size="28.5" font-family='"Liberation Sans", sans-serif' fill="#000" font-weight="bold" >e</text>
<text x="816" y="513.6" font-size="28.5" font-family='"Liberation Sans", sans-serif' fill="#000" font-weight="bold" >f</text>
<text x="1429.3" y="513.6" font-size="28.5" font-family='"Liberation Sans", sans-serif' fill="#000" font-weight="bold" >g</text>
<g clip-path="url(#cpa)">
<rect x="92.3" y="30" width="321.7" height="439.2" fill="url(#gga)"/>
<rect x="62.3" y="20" width="381.7" height="70" fill="#001000" opacity="0.35" filter="url(#blur8)"/>
<ellipse cx="272.3" cy="370" rx="150" ry="140" fill="url(#rgB)" opacity="0.08"/>
<rect x="92.3" y="30" width="321.7" height="439.2" fill="url(#gma)" filter="url(#fta)"/>
<ellipse cx="146" cy="60" rx="62.1" ry="9.8" fill="url(#rgD)" opacity="0.75" transform="rotate(2 146 60)"/>
<ellipse cx="168" cy="92" rx="59.4" ry="9" fill="url(#rgD)" opacity="0.60" transform="rotate(-2 168 92)"/>
<ellipse cx="144" cy="136" rx="59.4" ry="8.2" fill="url(#rgD)" opacity="0.68" transform="rotate(-3 144 136)"/>
<ellipse cx="170" cy="165" rx="64.8" ry="10.5" fill="url(#rgD)" opacity="0.60" transform="rotate(3 170 165)"/>
<ellipse cx="140" cy="200" rx="54" ry="9" fill="url(#rgD)" opacity="0.68" transform="rotate(2 140 200)"/>
<ellipse cx="130" cy="226" rx="45.9" ry="7.5" fill="url(#rgD)" opacity="0.60" transform="rotate(0 130 226)"/>
<ellipse cx="146" cy="284" rx="67.5" ry="13.5" fill="url(#rgD)" opacity="0.83" transform="rotate(-2 146 284)"/>
<ellipse cx="146" cy="330" rx="54" ry="9" fill="url(#rgD)" opacity="0.68" transform="rotate(-3 146 330)"/>
<ellipse cx="136" cy="368" rx="51.3" ry="9.8" fill="url(#rgD)" opacity="0.75" transform="rotate(3 136 368)"/>
<ellipse cx="145" cy="407" rx="54" ry="9.8" fill="url(#rgD)" opacity="0.68" transform="rotate(3 145 407)"/>
<ellipse cx="140" cy="440" rx="54" ry="8.2" fill="url(#rgD)" opacity="0.60" transform="rotate(-2 140 440)"/>
<ellipse cx="152" cy="45" rx="66" ry="6.8" fill="url(#rgB)" opacity="0.33" transform="rotate(1 152 45)"/>
<ellipse cx="152" cy="45" rx="44" ry="1.9" fill="url(#rgC)" opacity="0.69" transform="rotate(1 152 45)"/>
<ellipse cx="150" cy="75.5" rx="82.5" ry="8.2" fill="url(#rgB)" opacity="0.19" transform="rotate(-1 150 75.5)"/>
<ellipse cx="150" cy="75.5" rx="55" ry="2.3" fill="url(#rgC)" opacity="0.40" transform="rotate(-1 150 75.5)"/>
<ellipse cx="163" cy="112" rx="66" ry="7.5" fill="url(#rgB)" opacity="0.44" transform="rotate(-2 163 112)"/>
<ellipse cx="163" cy="112" rx="44" ry="2.1" fill="url(#rgC)" opacity="0.92" transform="rotate(-2 163 112)"/>
<ellipse cx="140" cy="126" rx="60" ry="7.5" fill="url(#rgB)" opacity="0.22" transform="rotate(4 140 126)"/>
<ellipse cx="140" cy="126" rx="40" ry="2.1" fill="url(#rgC)" opacity="0.46" transform="rotate(4 140 126)"/>
<ellipse cx="142" cy="148.4" rx="63" ry="7.5" fill="url(#rgB)" opacity="0.41" transform="rotate(-2 142 148.4)"/>
<ellipse cx="142" cy="148.4" rx="42" ry="2.1" fill="url(#rgC)" opacity="0.86" transform="rotate(-2 142 148.4)"/>
<ellipse cx="120" cy="186" rx="33" ry="5.1" fill="url(#rgB)" opacity="0.19" transform="rotate(-28 120 186)"/>
<ellipse cx="120" cy="186" rx="22" ry="1.4" fill="url(#rgC)" opacity="0.40" transform="rotate(-28 120 186)"/>
<ellipse cx="138" cy="213.8" rx="63" ry="7.5" fill="url(#rgB)" opacity="0.41" transform="rotate(1 138 213.8)"/>
<ellipse cx="138" cy="213.8" rx="42" ry="2.1" fill="url(#rgC)" opacity="0.86" transform="rotate(1 138 213.8)"/>
<ellipse cx="116" cy="233" rx="33" ry="5.1" fill="url(#rgB)" opacity="0.19" transform="rotate(30 116 233)"/>
<ellipse cx="116" cy="233" rx="22" ry="1.4" fill="url(#rgC)" opacity="0.40" transform="rotate(30 116 233)"/>
<ellipse cx="140" cy="257.2" rx="54" ry="7.5" fill="url(#rgB)" opacity="0.41" transform="rotate(-6 140 257.2)"/>
<ellipse cx="140" cy="257.2" rx="36" ry="2.1" fill="url(#rgC)" opacity="0.86" transform="rotate(-6 140 257.2)"/>
<ellipse cx="164" cy="304.6" rx="81" ry="7.8" fill="url(#rgB)" opacity="0.41" transform="rotate(-3 164 304.6)"/>
<ellipse cx="164" cy="304.6" rx="54" ry="2.2" fill="url(#rgC)" opacity="0.86" transform="rotate(-3 164 304.6)"/>
<ellipse cx="120" cy="296" rx="42" ry="6.1" fill="url(#rgB)" opacity="0.19" transform="rotate(14 120 296)"/>
<ellipse cx="120" cy="296" rx="28" ry="1.7" fill="url(#rgC)" opacity="0.40" transform="rotate(14 120 296)"/>
<ellipse cx="145" cy="351" rx="48" ry="7.5" fill="url(#rgB)" opacity="0.36" transform="rotate(-4 145 351)"/>
<ellipse cx="145" cy="351" rx="32" ry="2.1" fill="url(#rgC)" opacity="0.75" transform="rotate(-4 145 351)"/>
<ellipse cx="134" cy="389" rx="48" ry="7.5" fill="url(#rgB)" opacity="0.33" transform="rotate(4 134 389)"/>
<ellipse cx="134" cy="389" rx="32" ry="2.1" fill="url(#rgC)" opacity="0.69" transform="rotate(4 134 389)"/>
<ellipse cx="128" cy="425" rx="45" ry="7.5" fill="url(#rgB)" opacity="0.22" transform="rotate(-6 128 425)"/>
<ellipse cx="128" cy="425" rx="30" ry="2.1" fill="url(#rgC)" opacity="0.46" transform="rotate(-6 128 425)"/>
<ellipse cx="140" cy="455" rx="60" ry="8.2" fill="url(#rgB)" opacity="0.19" transform="rotate(5 140 455)"/>
<ellipse cx="140" cy="455" rx="40" ry="2.3" fill="url(#rgC)" opacity="0.40" transform="rotate(5 140 455)"/>
<ellipse cx="215" cy="140" rx="60" ry="6.8" fill="url(#rgB)" opacity="0.11" transform="rotate(10 215 140)"/>
<ellipse cx="215" cy="140" rx="40" ry="1.9" fill="url(#rgC)" opacity="0.23" transform="rotate(10 215 140)"/>
<ellipse cx="225" cy="310" rx="60" ry="6.8" fill="url(#rgB)" opacity="0.12" transform="rotate(6 225 310)"/>
<ellipse cx="225" cy="310" rx="40" ry="1.9" fill="url(#rgC)" opacity="0.25" transform="rotate(6 225 310)"/>
<ellipse cx="270" cy="410" rx="93" ry="6.1" fill="url(#rgB)" opacity="0.10" transform="rotate(10 270 410)"/>
<ellipse cx="270" cy="410" rx="62" ry="1.7" fill="url(#rgC)" opacity="0.21" transform="rotate(10 270 410)"/>
<ellipse cx="200" cy="370" rx="67.5" ry="6.8" fill="url(#rgB)" opacity="0.10" transform="rotate(14 200 370)"/>
<ellipse cx="200" cy="370" rx="45" ry="1.9" fill="url(#rgC)" opacity="0.21" transform="rotate(14 200 370)"/>
<ellipse cx="230" cy="80" rx="60" ry="6.8" fill="url(#rgB)" opacity="0.08" transform="rotate(6 230 80)"/>
<ellipse cx="230" cy="80" rx="40" ry="1.9" fill="url(#rgC)" opacity="0.17" transform="rotate(6 230 80)"/>
</g>
<g clip-path="url(#cpb)">
<rect x="457.4" y="30" width="322" height="439.2" fill="url(#ggb)"/>
<rect x="427.4" y="330" width="382" height="170" fill="#20b020" opacity="0.13" filter="url(#blur8)"/>
<rect x="427.4" y="20" width="382" height="70" fill="#001000" opacity="0.2" filter="url(#blur8)"/>
<rect x="457.4" y="30" width="322" height="439.2" fill="url(#gmb)" filter="url(#ftb)"/>
<ellipse cx="690" cy="63" rx="121.5" ry="8.2" fill="url(#rgD)" opacity="0.43" transform="rotate(0 690 63)"/>
<ellipse cx="690" cy="129" rx="121.5" ry="7.5" fill="url(#rgD)" opacity="0.43" transform="rotate(0 690 129)"/>
<ellipse cx="570" cy="160" rx="67.5" ry="9" fill="url(#rgD)" opacity="0.38" transform="rotate(2 570 160)"/>
<ellipse cx="680" cy="190" rx="108" ry="7.5" fill="url(#rgD)" opacity="0.33" transform="rotate(0 680 190)"/>
<ellipse cx="540" cy="92" rx="67.5" ry="7.5" fill="url(#rgD)" opacity="0.27" transform="rotate(0 540 92)"/>
<ellipse cx="524" cy="338" rx="67.5" ry="8.2" fill="url(#rgD)" opacity="0.48" transform="rotate(-1 524 338)"/>
<ellipse cx="520" cy="362" rx="64.8" ry="9" fill="url(#rgD)" opacity="0.48" transform="rotate(2 520 362)"/>
<ellipse cx="524" cy="400" rx="67.5" ry="9" fill="url(#rgD)" opacity="0.48" transform="rotate(-2 524 400)"/>
<ellipse cx="524" cy="432" rx="64.8" ry="8.2" fill="url(#rgD)" opacity="0.43" transform="rotate(2 524 432)"/>
<ellipse cx="700" cy="250" rx="94.5" ry="7.5" fill="url(#rgD)" opacity="0.27" transform="rotate(0 700 250)"/>
<ellipse cx="720" cy="310" rx="67.5" ry="9" fill="url(#rgD)" opacity="0.27" transform="rotate(0 720 310)"/>
<ellipse cx="520" cy="49" rx="90" ry="8.2" fill="url(#rgB)" opacity="0.09" transform="rotate(0 520 49)"/>
<ellipse cx="520" cy="49" rx="60" ry="2.3" fill="url(#rgC)" opacity="0.20" transform="rotate(0 520 49)"/>
<ellipse cx="540" cy="112" rx="75" ry="7.5" fill="url(#rgB)" opacity="0.09" transform="rotate(2 540 112)"/>
<ellipse cx="540" cy="112" rx="50" ry="2.1" fill="url(#rgC)" opacity="0.20" transform="rotate(2 540 112)"/>
<ellipse cx="505" cy="160" rx="60" ry="7.5" fill="url(#rgB)" opacity="0.09" transform="rotate(-2 505 160)"/>
<ellipse cx="505" cy="160" rx="40" ry="2.1" fill="url(#rgC)" opacity="0.20" transform="rotate(-2 505 160)"/>
<ellipse cx="520" cy="195" rx="75" ry="7.5" fill="url(#rgB)" opacity="0.12" transform="rotate(-3 520 195)"/>
<ellipse cx="520" cy="195" rx="50" ry="2.1" fill="url(#rgC)" opacity="0.25" transform="rotate(-3 520 195)"/>
<ellipse cx="500" cy="213" rx="60" ry="7.5" fill="url(#rgB)" opacity="0.10" transform="rotate(3 500 213)"/>
<ellipse cx="500" cy="213" rx="40" ry="2.1" fill="url(#rgC)" opacity="0.22" transform="rotate(3 500 213)"/>
<ellipse cx="512" cy="250" rx="69" ry="7.5" fill="url(#rgB)" opacity="0.22" transform="rotate(-4 512 250)"/>
<ellipse cx="512" cy="250" rx="46" ry="2.1" fill="url(#rgC)" opacity="0.46" transform="rotate(-4 512 250)"/>
<ellipse cx="524" cy="275" rx="75" ry="7.5" fill="url(#rgB)" opacity="0.22" transform="rotate(-2 524 275)"/>
<ellipse cx="524" cy="275" rx="50" ry="2.1" fill="url(#rgC)" opacity="0.46" transform="rotate(-2 524 275)"/>
<ellipse cx="532" cy="300" rx="81" ry="8.2" fill="url(#rgB)" opacity="0.22" transform="rotate(-5 532 300)"/>
<ellipse cx="532" cy="300" rx="54" ry="2.3" fill="url(#rgC)" opacity="0.46" transform="rotate(-5 532 300)"/>
<ellipse cx="524" cy="349" rx="75" ry="8.2" fill="url(#rgB)" opacity="0.29" transform="rotate(-3 524 349)"/>
<ellipse cx="524" cy="349" rx="50" ry="2.3" fill="url(#rgC)" opacity="0.60" transform="rotate(-3 524 349)"/>
<ellipse cx="512" cy="389" rx="78" ry="8.2" fill="url(#rgB)" opacity="0.29" transform="rotate(2 512 389)"/>
<ellipse cx="512" cy="389" rx="52" ry="2.3" fill="url(#rgC)" opacity="0.60" transform="rotate(2 512 389)"/>
<ellipse cx="532" cy="412" rx="75" ry="7.5" fill="url(#rgB)" opacity="0.20" transform="rotate(-2 532 412)"/>
<ellipse cx="532" cy="412" rx="50" ry="2.1" fill="url(#rgC)" opacity="0.41" transform="rotate(-2 532 412)"/>
<ellipse cx="544" cy="443" rx="90" ry="8.8" fill="url(#rgB)" opacity="0.26" transform="rotate(-3 544 443)"/>
<ellipse cx="544" cy="443" rx="60" ry="2.5" fill="url(#rgC)" opacity="0.55" transform="rotate(-3 544 443)"/>
<ellipse cx="520" cy="462" rx="75" ry="8.2" fill="url(#rgB)" opacity="0.18" transform="rotate(2 520 462)"/>
<ellipse cx="520" cy="462" rx="50" ry="2.3" fill="url(#rgC)" opacity="0.37" transform="rotate(2 520 462)"/>
<ellipse cx="640" cy="330" rx="90" ry="7.5" fill="url(#rgB)" opacity="0.11" transform="rotate(4 640 330)"/>
<ellipse cx="640" cy="330" rx="60" ry="2.1" fill="url(#rgC)" opacity="0.23" transform="rotate(4 640 330)"/>
<ellipse cx="660" cy="280" rx="75" ry="6.8" fill="url(#rgB)" opacity="0.09" transform="rotate(-3 660 280)"/>
<ellipse cx="660" cy="280" rx="50" ry="1.9" fill="url(#rgC)" opacity="0.18" transform="rotate(-3 660 280)"/>
<ellipse cx="650" cy="420" rx="105" ry="8.2" fill="url(#rgB)" opacity="0.11" transform="rotate(-2 650 420)"/>
<ellipse cx="650" cy="420" rx="70" ry="2.3" fill="url(#rgC)" opacity="0.23" transform="rotate(-2 650 420)"/>
<ellipse cx="690" cy="365" rx="75" ry="6.8" fill="url(#rgB)" opacity="0.08" transform="rotate(6 690 365)"/>
<ellipse cx="690" cy="365" rx="50" ry="1.9" fill="url(#rgC)" opacity="0.16" transform="rotate(6 690 365)"/>
<ellipse cx="640" cy="90" rx="90" ry="7.5" fill="url(#rgB)" opacity="0.06" transform="rotate(0 640 90)"/>
<ellipse cx="640" cy="90" rx="60" ry="2.1" fill="url(#rgC)" opacity="0.13" transform="rotate(0 640 90)"/>
</g>
<rect x="321.2" y="439.6" width="67.4" height="5.6" fill="#fff"/>
<rect x="691.1" y="439.8" width="66.8" height="5.5" fill="#fff"/>
<g stroke="#fff" stroke-width="1.6" fill="none"><polyline points="112.2,424 112.2,454.5 144,454.5"/></g>
<polygon points="112.2,414.6 106.8,425 117.6,425" fill="#fff"/>
<polygon points="153,454.5 142.6,449.1 142.6,459.9" fill="#fff"/>
<text x="97.5" y="417" font-size="25" font-family='"Liberation Serif", serif' fill="#fff" font-style="italic" >y</text>
<text x="154.5" y="461.5" font-size="25" font-family='"Liberation Serif", serif' fill="#fff" font-style="italic" >x</text>
<polygon points="267.6,99.9 362.8,112.5 404.8,74.7 404.8,77.3 362.8,115.1 267.6,102.5" fill="#c4c9cc"/>
<polygon points="309.1,63.1 404.8,74.7 362.8,112.5 267.6,99.9" fill="#f6fdff"/>
<ellipse cx="320.7" cy="64.5" rx="9.5" ry="2.1" fill="#7d97e6" transform="rotate(0 320.7 64.5)"/>
<ellipse cx="336.5" cy="67.8" rx="9.5" ry="2.3" fill="#7d97e6" transform="rotate(8 336.5 67.8)"/>
<ellipse cx="360.1" cy="68.4" rx="10" ry="2.1" fill="#7d97e6" transform="rotate(0 360.1 68.4)"/>
<ellipse cx="382.7" cy="70.8" rx="8.9" ry="2.1" fill="#7d97e6" transform="rotate(10 382.7 70.8)"/>
<ellipse cx="312.8" cy="70.2" rx="9.5" ry="2.3" fill="#7d97e6" transform="rotate(-5 312.8 70.2)"/>
<ellipse cx="324.4" cy="73.3" rx="9.5" ry="2.3" fill="#7d97e6" transform="rotate(-8 324.4 73.3)"/>
<ellipse cx="351.2" cy="73.6" rx="7.9" ry="2.1" fill="#7d97e6" transform="rotate(-20 351.2 73.6)"/>
<ellipse cx="373.3" cy="74.7" rx="9.5" ry="2.1" fill="#7d97e6" transform="rotate(0 373.3 74.7)"/>
<ellipse cx="303.9" cy="77" rx="9.5" ry="2.3" fill="#7d97e6" transform="rotate(0 303.9 77)"/>
<ellipse cx="317.5" cy="80.7" rx="8.9" ry="2.3" fill="#7d97e6" transform="rotate(-10 317.5 80.7)"/>
<ellipse cx="337" cy="79.6" rx="8.9" ry="2.3" fill="#7d97e6" transform="rotate(-12 337 79.6)"/>
<ellipse cx="357" cy="79.9" rx="9.5" ry="2.3" fill="#7d97e6" transform="rotate(-5 357 79.9)"/>
<ellipse cx="381.7" cy="79.4" rx="7.4" ry="2.1" fill="#5878de" transform="rotate(15 381.7 79.4)"/>
<ellipse cx="289.2" cy="85.2" rx="5.8" ry="2.1" fill="#5878de" transform="rotate(-35 289.2 85.2)"/>
<ellipse cx="301.8" cy="87.3" rx="6.5" ry="2.1" fill="#5878de" transform="rotate(-28 301.8 87.3)"/>
<ellipse cx="316.5" cy="88.7" rx="5.3" ry="1.8" fill="#5878de" transform="rotate(-40 316.5 88.7)"/>
<ellipse cx="334.4" cy="87.3" rx="5.3" ry="1.9" fill="#5878de" transform="rotate(-35 334.4 87.3)"/>
<ellipse cx="355.9" cy="86.2" rx="9.3" ry="2.3" fill="#7d97e6" transform="rotate(-5 355.9 86.2)"/>
<ellipse cx="376.9" cy="84.7" rx="6.3" ry="1.9" fill="#5878de" transform="rotate(35 376.9 84.7)"/>
<ellipse cx="280.5" cy="93.1" rx="6.5" ry="2.3" fill="#5878de" transform="rotate(-25 280.5 93.1)"/>
<ellipse cx="298.4" cy="95.2" rx="9.3" ry="2.3" fill="#5878de" transform="rotate(-3 298.4 95.2)"/>
<ellipse cx="306.3" cy="98.3" rx="9.5" ry="2.1" fill="#5878de" transform="rotate(-10 306.3 98.3)"/>
<ellipse cx="324.9" cy="94.7" rx="5" ry="1.8" fill="#5878de" transform="rotate(-45 324.9 94.7)"/>
<ellipse cx="347" cy="93.8" rx="8.9" ry="2.3" fill="#5878de" transform="rotate(-10 347 93.8)"/>
<ellipse cx="368" cy="90.8" rx="8.9" ry="2.3" fill="#5878de" transform="rotate(-10 368 90.8)"/>
<ellipse cx="363.8" cy="96.4" rx="9.7" ry="2.1" fill="#5878de" transform="rotate(-3 363.8 96.4)"/>
<ellipse cx="328.6" cy="101" rx="7.9" ry="2.1" fill="#5878de" transform="rotate(-20 328.6 101)"/>
<ellipse cx="354.3" cy="101" rx="9.3" ry="2.1" fill="#5878de" transform="rotate(10 354.3 101)"/>
<ellipse cx="348" cy="104.8" rx="9.7" ry="2.1" fill="#5878de" transform="rotate(3 348 104.8)"/>
<polygon points="309.1,39.2 404.8,50.8 404.8,52.4 362.8,90.2 267.6,77.6 267.6,76" fill="#dfe8df" fill-opacity="0.33"/>
<polygon points="626.3,104.1 726.7,117.3 769.8,77.8 769.8,80.4 726.7,119.9 626.3,106.7" fill="#c4c9cc"/>
<polygon points="669.9,65.2 769.8,77.8 726.7,117.3 626.3,104.1" fill="#f6fdff"/>
<ellipse cx="674.7" cy="67.3" rx="6.3" ry="1.9" fill="#8e9bd0" transform="rotate(-20 674.7 67.3)"/>
<ellipse cx="687.1" cy="68.4" rx="3.2" ry="1.9" fill="#8e9bd0" transform="rotate(-45 687.1 68.4)"/>
<ellipse cx="694.1" cy="71.3" rx="4.2" ry="1.9" fill="#8ea4ec" transform="rotate(30 694.1 71.3)"/>
<ellipse cx="701.5" cy="70.5" rx="8.4" ry="1.9" fill="#8ea4ec" transform="rotate(22 701.5 70.5)"/>
<ellipse cx="665.7" cy="74.7" rx="4.7" ry="2.1" fill="#8ea4ec" transform="rotate(20 665.7 74.7)"/>
<ellipse cx="678.3" cy="73.6" rx="5.3" ry="2.1" fill="#8e9bd0" transform="rotate(-25 678.3 73.6)"/>
<ellipse cx="710.4" cy="74.2" rx="10" ry="2.1" fill="#8ea4ec" transform="rotate(-25 710.4 74.2)"/>
<ellipse cx="737.2" cy="76.3" rx="7.4" ry="2.1" fill="#8ea4ec" transform="rotate(20 737.2 76.3)"/>
<ellipse cx="664.7" cy="80.5" rx="10" ry="1.9" fill="#8ea4ec" transform="rotate(30 664.7 80.5)"/>
<ellipse cx="693.6" cy="78.9" rx="10.5" ry="2.1" fill="#8ea4ec" transform="rotate(25 693.6 78.9)"/>
<ellipse cx="713.6" cy="79.4" rx="10.5" ry="1.9" fill="#8ea4ec" transform="rotate(-30 713.6 79.4)"/>
<ellipse cx="729.3" cy="77.8" rx="10" ry="1.9" fill="#8ea4ec" transform="rotate(25 729.3 77.8)"/>
<ellipse cx="654.2" cy="84.7" rx="4.7" ry="1.9" fill="#6b86e4" transform="rotate(15 654.2 84.7)"/>
<ellipse cx="679.9" cy="84.7" rx="10" ry="1.9" fill="#8ea4ec" transform="rotate(-28 679.9 84.7)"/>
<ellipse cx="719.9" cy="84.7" rx="4.2" ry="2.1" fill="#8e9bd0" transform="rotate(-25 719.9 84.7)"/>
<ellipse cx="665.7" cy="87.8" rx="8.9" ry="2.1" fill="#6b86e4" transform="rotate(40 665.7 87.8)"/>
<ellipse cx="708.3" cy="88.9" rx="6.8" ry="2.1" fill="#8e9bd0" transform="rotate(-20 708.3 88.9)"/>
<ellipse cx="740.4" cy="87.8" rx="8.9" ry="1.9" fill="#2f47a6" transform="rotate(-20 740.4 87.8)"/>
<ellipse cx="757.2" cy="77.8" rx="6.8" ry="1.9" fill="#2f47a6" transform="rotate(-25 757.2 77.8)"/>
<ellipse cx="748.8" cy="82" rx="3.7" ry="1.9" fill="#263a8c" transform="rotate(-20 748.8 82)"/>
<ellipse cx="644.7" cy="94.1" rx="8.9" ry="1.7" fill="#6b86e4" transform="rotate(-50 644.7 94.1)"/>
<ellipse cx="655.7" cy="94.7" rx="8.4" ry="1.7" fill="#6b86e4" transform="rotate(70 655.7 94.7)"/>
<ellipse cx="683.1" cy="91.5" rx="4.7" ry="2.1" fill="#263a8c" transform="rotate(-25 683.1 91.5)"/>
<ellipse cx="695.7" cy="94.1" rx="5.5" ry="2.1" fill="#2f47a6" transform="rotate(25 695.7 94.1)"/>
<ellipse cx="729.3" cy="91.5" rx="8.4" ry="1.9" fill="#6b86e4" transform="rotate(20 729.3 91.5)"/>
<ellipse cx="707.8" cy="96.8" rx="10.5" ry="1.9" fill="#6b86e4" transform="rotate(-28 707.8 96.8)"/>
<ellipse cx="722" cy="97.3" rx="10" ry="1.9" fill="#6b86e4" transform="rotate(35 722 97.3)"/>
<ellipse cx="669.4" cy="99.4" rx="10" ry="2.1" fill="#6b86e4" transform="rotate(25 669.4 99.4)"/>
<ellipse cx="683.6" cy="100.6" rx="4" ry="2.1" fill="#263a8c" transform="rotate(35 683.6 100.6)"/>
<ellipse cx="700.9" cy="104.9" rx="10" ry="2.1" fill="#6b86e4" transform="rotate(28 700.9 104.9)"/>
<ellipse cx="717.8" cy="105.7" rx="5.3" ry="2.1" fill="#263a8c" transform="rotate(-25 717.8 105.7)"/>
<polygon points="669.9,40 769.8,52.6 769.8,54.2 726.7,93.7 626.3,80.5 626.3,78.9" fill="#dfe8df" fill-opacity="0.33"/>
<g clip-path="url(#cpc)">
<polyline points="954.6,331.2 956.2,332.4 957.8,330.3 959.4,327.6 961,322.9 962.6,315.5 964.2,309.6 965.8,305.3 967.4,296.5 969,289.5 970.6,284.4 972.2,274.2 973.8,266.8 975.4,257.1 977,248.8 978.6,238.3 980.2,230.9 981.8,223 983.4,213.6 985,206 986.6,196.6 988.2,184.2 989.8,176 991.4,162.6 993,148.4 994.6,134.3 996.2,123.7 997.8,112.3 999.4,106 1001,99.5 1002.6,92.6 1004.2,87.8 1005.8,80.7 1007.4,77.3 1009,73.3 1010.6,72.1 1012.2,70.8 1013.8,67.7 1015.4,67.7 1017,68.9 1018.6,72.2 1020.2,71.5 1021.8,73.1 1023.4,73 1025,73.8 1026.6,73 1028.2,72.6 1029.8,72.9 1031.4,73.3 1033,76.8 1034.6,73.1 1036.2,77.9 1037.8,87.6 1039.4,92.1 1041,95.3 1042.6,98.2 1044.2,104.9 1045.8,109.7 1047.4,114 1049,117.4 1050.6,122.3 1052.2,125.1 1053.8,131.5 1055.4,135.1 1057,138.6 1058.6,142.4 1060.2,149.7 1061.8,155 1063.4,156.9 1065,163 1066.6,164.9 1068.2,167.3 1069.8,170.9 1071.4,176.6 1073,181.2 1074.6,182.8 1076.2,188.8 1077.8,190.9 1079.4,196.9 1081,199.5 1082.6,204.4 1084.2,207.9 1085.8,209.6 1087.4,214.4 1089,215.4 1090.6,217.8 1092.2,222.7 1093.8,224.1 1095.4,228.8 1097,233.7 1098.6,238.6 1100.2,241.3 1101.8,243.8 1103.4,249.3 1105,250.4 1106.6,255.3 1108.2,258 1109.8,259.2 1111.4,261.3 1113,263.1 1114.6,265.1 1116.2,266.5 1117.8,268 1119.4,269.8 1121,272.8 1122.6,273.7 1124.2,275.7 1125.8,278.8 1127.4,279.5 1129,282 1130.6,286.2 1132.2,286.7 1133.8,288.7 1135.4,288.9 1137,292.1 1138.6,294.6 1140.2,294.6 1141.8,297.8 1143.4,299.1 1145,298.6 1146.6,301.7 1148.2,302.5 1149.8,304.4 1151.4,304.2 1153,306.2 1154.6,307.1 1156.2,305.6 1157.8,306.5 1159.4,309.3 1161,311 1162.6,309.5 1164.2,311.1 1165.8,313.5 1167.4,314.5 1169,316.6 1170.6,318.3 1172.2,320.4 1173.8,323.1 1175.4,323.2 1177,324.3 1178.6,326.5 1180.2,325 1181.8,327.7 1183.4,329.1 1185,323.7 1186.6,329.3 1188.2,332 1189.8,330.9 1191.4,331.3 1193,332.7 1194.6,334.2 1196.2,332.9 1197.8,334.2 1199.4,334.9 1201,337.1 1202.6,336.3 1204.2,337.9 1205.8,336 1207.4,336.8 1209,338 1210.6,339 1212.2,337.9 1213.8,337.4 1215.4,337.4 1217,338.9 1218.6,337.9 1220.2,339.6 1221.8,339.4 1223.4,337.1 1225,337.1 1226.6,338.5 1228.2,337.8 1229.8,338 1231.4,336.3 1233,335.4 1234.6,335.7 1236.2,337.1 1237.8,335.2 1239.4,328.3 1241,328.3 1242.6,335.3 1244.2,335.8 1245.8,337.9 1247.4,335 1249,333.9 1250.6,336.3 1252.2,327.5 1253.8,327.2 1255.4,333.7 1257,335.8 1258.6,336.1 1260.2,334.3 1261.8,336.3 1263.4,336.3 1265,335.3 1266.6,334.5 1268.2,333.3 1269.8,333.1 1271.4,332.3 1273,331.5 1274.6,332.9 1276.2,331.6 1277.8,333 1279.4,304.3 1281,306.8 1282.6,331.9 1284.2,332.5 1285.8,333.2 1287.4,334 1289,333.1 1290.6,331.2 1292.2,333.4 1293.8,331.4 1295.4,331.6 1297,332.6 1298.6,332.2 1300.2,332.3 1301.8,334.4 1303.4,333.8 1305,332.7 1306.6,331.9 1308.2,333.2 1309.8,331.4 1311.4,331.8 1313,329.9 1314.6,328.8 1316.2,329.4 1317.8,329.7 1319.4,327.1 1321,328.6 1322.6,328.5 1324.2,327.6 1325.8,327.1 1327.4,323.7 1329,324.9 1330.6,324.9 1332.2,321.5 1333.8,321.4 1335.4,320.6 1337,320.3 1338.6,318.8 1340.2,317.8 1341.8,317.5 1343.4,313.9 1345,312.6 1346.6,311.2 1348.2,309.6 1349.8,293.8 1351.4,296.6 1353,310.4 1354.6,308.1 1356.2,309.5 1357.8,300.9 1359.4,308.6 1361,308.4 1362.6,309.1 1364.2,308.5 1365.8,306.5 1367.4,304.7 1369,303.9 1370.6,301.9 1372.2,301.9 1373.8,300.4 1375.4,297.4 1377,294.4 1378.6,292.7 1380.2,291.3 1381.8,289.3 1383.4,287.2 1385,283.3 1386.6,281.8 1388.2,278.1" fill="none" stroke="#9a9a9a" stroke-width="1.6" stroke-linejoin="round" stroke-linecap="round" opacity="0.75"/>
<polyline points="954.6,315.8 956.2,313.5 957.8,311.8 959.4,310.4 961,306.9 962.6,304.8 964.2,301.1 965.8,297.4 967.4,295.1 969,291.5 970.6,285.4 972.2,282.4 973.8,278.3 975.4,273.6 977,267.4 978.6,259.2 980.2,254.2 981.8,245.3 983.4,235.1 985,227.2 986.6,218.2 988.2,213.3 989.8,205.8 991.4,199 993,189.7 994.6,180.4 996.2,171.9 997.8,165 999.4,157.1 1001,152.3 1002.6,145.4 1004.2,143 1005.8,142.2 1007.4,137.1 1009,134.4 1010.6,132.4 1012.2,134 1013.8,130.9 1015.4,129.5 1017,131.2 1018.6,128.3 1020.2,130.5 1021.8,129.8 1023.4,130.1 1025,129.2 1026.6,126.1 1028.2,124.9 1029.8,120.9 1031.4,121.9 1033,121.8 1034.6,124.2 1036.2,127.1 1037.8,134.9 1039.4,141.2 1041,143.3 1042.6,148.4 1044.2,153.4 1045.8,158.5 1047.4,160.3 1049,163.7 1050.6,167.5 1052.2,172.3 1053.8,176.4 1055.4,178.8 1057,182.3 1058.6,186 1060.2,189.5 1061.8,193.3 1063.4,193.6 1065,196 1066.6,198.6 1068.2,197.9 1069.8,200 1071.4,199.2 1073,201.9 1074.6,203.4 1076.2,204.8 1077.8,205.9 1079.4,208.7 1081,212.5 1082.6,216.5 1084.2,217.3 1085.8,220.3 1087.4,225.6 1089,229.3 1090.6,231.3 1092.2,234.2 1093.8,238.3 1095.4,239.8 1097,242.8 1098.6,244.9 1100.2,248.6 1101.8,250.1 1103.4,252.2 1105,255.4 1106.6,257.4 1108.2,256.6 1109.8,259.1 1111.4,258.6 1113,260.3 1114.6,259.7 1116.2,258.9 1117.8,259.1 1119.4,259.5 1121,262.2 1122.6,263.1 1124.2,263.6 1125.8,265.4 1127.4,267.1 1129,270.5 1130.6,270.4 1132.2,275 1133.8,275.3 1135.4,277.6 1137,279.1 1138.6,282.2 1140.2,284.1 1141.8,285.1 1143.4,286.8 1145,289.5 1146.6,291.6 1148.2,291.2 1149.8,293.4 1151.4,295.3 1153,294.8 1154.6,295.2 1156.2,296.1 1157.8,297.2 1159.4,296.7 1161,297 1162.6,295.9 1164.2,293.2 1165.8,293.2 1167.4,294.7 1169,295.7 1170.6,298.6 1172.2,300.3 1173.8,301.8 1175.4,301 1177,304.3 1178.6,303.9 1180.2,305.6 1181.8,307.9 1183.4,307.2 1185,307.4 1186.6,309.4 1188.2,307.3 1189.8,307.1 1191.4,307.4 1193,308 1194.6,306.5 1196.2,308.2 1197.8,309.2 1199.4,310 1201,309.8 1202.6,311.7 1204.2,313.6 1205.8,312.7 1207.4,314.1 1209,313.6 1210.6,315.1 1212.2,317.2 1213.8,316.4 1215.4,319.8 1217,320.7 1218.6,318.6 1220.2,320.9 1221.8,318.6 1223.4,319.5 1225,319.1 1226.6,317 1228.2,317.2 1229.8,316.2 1231.4,315.7 1233,313 1234.6,313.7 1236.2,313.4 1237.8,301.7 1239.4,300.4 1241,309.4 1242.6,311.7 1244.2,312.3 1245.8,314.6 1247.4,314 1249,313 1250.6,311.1 1252.2,302.1 1253.8,312.7 1255.4,311.8 1257,314.7 1258.6,314.5 1260.2,313.4 1261.8,316.6 1263.4,314.6 1265,315 1266.6,315.4 1268.2,314.2 1269.8,313.3 1271.4,312.8 1273,311.4 1274.6,310 1276.2,308.6 1277.8,307.2 1279.4,300.3 1281,299.4 1282.6,306.5 1284.2,308.1 1285.8,307.9 1287.4,308.6 1289,310 1290.6,312.3 1292.2,310 1293.8,311.8 1295.4,311.4 1297,313.4 1298.6,312.4 1300.2,312.7 1301.8,313.2 1303.4,312.7 1305,312.2 1306.6,309.6 1308.2,310 1309.8,306.4 1311.4,305.7 1313,303.5 1314.6,301.5 1316.2,301.6 1317.8,299.5 1319.4,295.7 1321,295.4 1322.6,296.8 1324.2,245.5 1325.8,300.6 1327.4,303.6 1329,306.3 1330.6,304.4 1332.2,304.8 1333.8,303.6 1335.4,304.3 1337,303.6 1338.6,301.5 1340.2,300.7 1341.8,301.4 1343.4,298.1 1345,299.6 1346.6,297.7 1348.2,293.6 1349.8,289.5 1351.4,263.8 1353,263.6 1354.6,289.5 1356.2,293.5 1357.8,294.3 1359.4,292.3 1361,293.4 1362.6,291.5 1364.2,291.2 1365.8,290.8 1367.4,287.7 1369,289.4 1370.6,288.2 1372.2,280.9 1373.8,286.2 1375.4,284.8 1377,282.8 1378.6,282.6 1380.2,279.9 1381.8,280.2 1383.4,277.5 1385,273.5 1386.6,270.5 1388.2,268.4" fill="none" stroke="#ff9b9b" stroke-width="1.6" stroke-linejoin="round" stroke-linecap="round" opacity="0.75"/>
<polyline points="954.6,294.3 956.2,294.5 957.8,299.3 959.4,301.4 961,301.2 962.6,303.1 964.2,303.7 965.8,304.1 967.4,304.9 969,305.2 970.6,302.3 972.2,302.8 973.8,299.5 975.4,294.9 977,294.4 978.6,290.8 980.2,288.9 981.8,284.4 983.4,280.6 985,275.5 986.6,273.1 988.2,269.7 989.8,265.6 991.4,262.2 993,261.4 994.6,258.8 996.2,255.8 997.8,253.8 999.4,253.5 1001,253.8 1002.6,253.6 1004.2,254.5 1005.8,255.1 1007.4,254.1 1009,253.3 1010.6,253.6 1012.2,252 1013.8,252.1 1015.4,252.6 1017,250.3 1018.6,248.1 1020.2,248.9 1021.8,246.8 1023.4,244.1 1025,242.6 1026.6,241.5 1028.2,240.1 1029.8,237.3 1031.4,235 1033,236.3 1034.6,240.2 1036.2,240.1 1037.8,243.1 1039.4,244.3 1041,245.2 1042.6,245.4 1044.2,246.4 1045.8,245.9 1047.4,245.7 1049,246.3 1050.6,246.7 1052.2,248.1 1053.8,248.1 1055.4,249.3 1057,252 1058.6,253.2 1060.2,255.5 1061.8,254.7 1063.4,257.2 1065,257.9 1066.6,257.1 1068.2,260.5 1069.8,258.6 1071.4,258.6 1073,260.8 1074.6,261.3 1076.2,264.2 1077.8,264.7 1079.4,265.5 1081,266.7 1082.6,270.1 1084.2,269.7 1085.8,272.4 1087.4,272.4 1089,274.9 1090.6,273.9 1092.2,274.8 1093.8,275.8 1095.4,278.6 1097,279.7 1098.6,280.8 1100.2,281.9 1101.8,276.8 1103.4,279.8 1105,288.5 1106.6,287.1 1108.2,287.5 1109.8,288.1 1111.4,288.8 1113,289.5 1114.6,291.2 1116.2,294.7 1117.8,297.1 1119.4,296.4 1121,300.5 1122.6,300.5 1124.2,303.2 1125.8,305 1127.4,306.5 1129,305 1130.6,307.3 1132.2,309.7 1133.8,312.2 1135.4,310.1 1137,311.2 1138.6,313.5 1140.2,311.6 1141.8,313 1143.4,313.3 1145,314.4 1146.6,315 1148.2,312.3 1149.8,313.8 1151.4,313.6 1153,313.6 1154.6,312.4 1156.2,313.2 1157.8,311.1 1159.4,310.9 1161,310.6 1162.6,313.2 1164.2,313 1165.8,313.2 1167.4,313.6 1169,316.2 1170.6,316.6 1172.2,317.8 1173.8,317.5 1175.4,317.4 1177,315.8 1178.6,316.9 1180.2,314.1 1181.8,315 1183.4,314.8 1185,313.5 1186.6,310.5 1188.2,309.8 1189.8,310.6 1191.4,308.9 1193,309.8 1194.6,310.8 1196.2,310.5 1197.8,312.9 1199.4,313.4 1201,312.4 1202.6,312.4 1204.2,311.4 1205.8,312.3 1207.4,314 1209,311.2 1210.6,312.9 1212.2,312.1 1213.8,312.7 1215.4,315.2 1217,314.6 1218.6,314.7 1220.2,315.7 1221.8,318 1223.4,316.7 1225,313.6 1226.6,312.9 1228.2,314 1229.8,310.3 1231.4,311.3 1233,311 1234.6,312.4 1236.2,312 1237.8,312.7 1239.4,312.1 1241,310.9 1242.6,310.8 1244.2,310.4 1245.8,312.7 1247.4,310.3 1249,309.9 1250.6,313 1252.2,310.9 1253.8,313.5 1255.4,311.3 1257,312.8 1258.6,312.4 1260.2,314.4 1261.8,312 1263.4,310.4 1265,309.1 1266.6,307.7 1268.2,277.5 1269.8,278.1 1271.4,304.4 1273,303.2 1274.6,308.4 1276.2,307.7 1277.8,307.5 1279.4,304.7 1281,304.9 1282.6,303.8 1284.2,303.8 1285.8,301.7 1287.4,303.5 1289,305 1290.6,304.6 1292.2,307.1 1293.8,308.6 1295.4,308.3 1297,309.6 1298.6,310 1300.2,309.3 1301.8,310.3 1303.4,313 1305,309.9 1306.6,308.4 1308.2,305.4 1309.8,304 1311.4,301.9 1313,302.5 1314.6,299.5 1316.2,296.8 1317.8,264 1319.4,259.6 1321,290.8 1322.6,291.8 1324.2,293.7 1325.8,297.7 1327.4,299.1 1329,298.3 1330.6,295.9 1332.2,296 1333.8,293.9 1335.4,294.9 1337,287.4 1338.6,285.5 1340.2,294.7 1341.8,292.4 1343.4,292.3 1345,293.7 1346.6,291.4 1348.2,271.2 1349.8,270.7 1351.4,287.9 1353,290.8 1354.6,290.9 1356.2,293 1357.8,292.6 1359.4,292.2 1361,276.5 1362.6,273.3 1364.2,285.1 1365.8,284 1367.4,284.5 1369,283.9 1370.6,284.5 1372.2,286.9 1373.8,287.2 1375.4,288.5 1377,288.9 1378.6,286.9 1380.2,283.6 1381.8,281.2 1383.4,280 1385,277.9 1386.6,275 1388.2,246.9" fill="none" stroke="#a9b6ff" stroke-width="1.6" stroke-linejoin="round" stroke-linecap="round" opacity="0.75"/>
<polyline points="954.6,301.6 956.2,309.8 957.8,312.3 959.4,314.8 961,318 962.6,319.1 964.2,317.8 965.8,317.9 967.4,320.1 969,317.8 970.6,318.5 972.2,320.3 973.8,322.1 975.4,322.8 977,324.2 978.6,326.5 980.2,329.9 981.8,329.1 983.4,330.9 985,330.4 986.6,331.2 988.2,328.3 989.8,329 991.4,329.5 993,322 994.6,322.9 996.2,333.2 997.8,329 999.4,328.7 1001,337.5 1002.6,338.4 1004.2,341.3 1005.8,341.2 1007.4,341.8 1009,341.5 1010.6,342.7 1012.2,336.2 1013.8,343.3 1015.4,344 1017,343.6 1018.6,341.7 1020.2,332.3 1021.8,343.2 1023.4,343.9 1025,343.7 1026.6,345.4 1028.2,345.1 1029.8,344.9 1031.4,345.2 1033,345.4 1034.6,348.1 1036.2,349.5 1037.8,350.2 1039.4,348.7 1041,349.2 1042.6,349.8 1044.2,349.3 1045.8,348.4 1047.4,347.6 1049,347.8 1050.6,346.9 1052.2,348 1053.8,350.6 1055.4,352.6 1057,352.2 1058.6,352.8 1060.2,353.5 1061.8,353.6 1063.4,354.4 1065,353 1066.6,354.4 1068.2,351.5 1069.8,351.8 1071.4,352.2 1073,351.9 1074.6,353.5 1076.2,353.7 1077.8,354.3 1079.4,353.5 1081,351.9 1082.6,353.5 1084.2,352.5 1085.8,351.4 1087.4,349.8 1089,350.2 1090.6,350.5 1092.2,348.4 1093.8,350.6 1095.4,350.1 1097,351 1098.6,352.7 1100.2,353.4 1101.8,352.8 1103.4,351.9 1105,354.5 1106.6,352.3 1108.2,353.2 1109.8,354.9 1111.4,353.4 1113,353.5 1114.6,355.7 1116.2,355.4 1117.8,353.2 1119.4,353.1 1121,352.5 1122.6,352 1124.2,352.9 1125.8,355.8 1127.4,353.4 1129,354.4 1130.6,354.4 1132.2,353.3 1133.8,354.1 1135.4,354.2 1137,353.8 1138.6,352.5 1140.2,352.4 1141.8,349.1 1143.4,349.4 1145,350.9 1146.6,347.8 1148.2,348.8 1149.8,349.9 1151.4,349.6 1153,350.9 1154.6,349.4 1156.2,349.4 1157.8,351.2 1159.4,348.1 1161,350.3 1162.6,348 1164.2,350.6 1165.8,349.6 1167.4,349.5 1169,347.9 1170.6,347.6 1172.2,350.1 1173.8,348.3 1175.4,343.5 1177,345.7 1178.6,351.1 1180.2,348.5 1181.8,351 1183.4,349.3 1185,348.4 1186.6,347.2 1188.2,347.7 1189.8,349.2 1191.4,346.6 1193,345.8 1194.6,345.5 1196.2,345.1 1197.8,345.4 1199.4,346.9 1201,338.9 1202.6,339.1 1204.2,346.8 1205.8,347.4 1207.4,347.6 1209,345.6 1210.6,346.3 1212.2,348.4 1213.8,346.3 1215.4,346.4 1217,344.5 1218.6,343 1220.2,343.4 1221.8,343.8 1223.4,343 1225,341.4 1226.6,340.2 1228.2,339.5 1229.8,338.3 1231.4,338.3 1233,339 1234.6,336.8 1236.2,337.8 1237.8,338.7 1239.4,338.2 1241,335.8 1242.6,338 1244.2,337.4 1245.8,335 1247.4,334.9 1249,334.3 1250.6,333.4 1252.2,329 1253.8,333.8 1255.4,335.7 1257,333.8 1258.6,334 1260.2,337.1 1261.8,336.5 1263.4,336.7 1265,335.3 1266.6,327.4 1268.2,327.8 1269.8,332.2 1271.4,333.3 1273,332.6 1274.6,331.4 1276.2,332.6 1277.8,331.5 1279.4,331.8 1281,331.1 1282.6,330.7 1284.2,330.5 1285.8,330.5 1287.4,331 1289,330.1 1290.6,329.1 1292.2,319.3 1293.8,325.8 1295.4,328.6 1297,318 1298.6,327.3 1300.2,329.2 1301.8,330.7 1303.4,329.1 1305,329.6 1306.6,327.9 1308.2,329.6 1309.8,327.5 1311.4,327.1 1313,326.8 1314.6,327.4 1316.2,327.3 1317.8,325.4 1319.4,324.6 1321,324.7 1322.6,322.3 1324.2,322.4 1325.8,322.8 1327.4,321.6 1329,318.4 1330.6,320 1332.2,317.6 1333.8,318.9 1335.4,316.4 1337,307.4 1338.6,308 1340.2,316.5 1341.8,315.1 1343.4,317.2 1345,317.3 1346.6,316.9 1348.2,317.4 1349.8,318.7 1351.4,319 1353,318.5 1354.6,318.3 1356.2,317.9 1357.8,315.8 1359.4,313.3 1361,312.5 1362.6,312 1364.2,311.7 1365.8,309.2 1367.4,308 1369,308.1 1370.6,307.3 1372.2,305.9 1373.8,306.9 1375.4,307.6 1377,305.2 1378.6,304.5 1380.2,303.4 1381.8,302 1383.4,300.8 1385,298.1 1386.6,297.7 1388.2,294.8" fill="none" stroke="#a5d6ad" stroke-width="1.6" stroke-linejoin="round" stroke-linecap="round" opacity="0.75"/>
<polyline points="954.6,314.2 956.2,319.7 957.8,327 959.4,330.6 961,330.3 962.6,331.6 964.2,335.2 965.8,336.1 967.4,336.1 969,337.7 970.6,340.8 972.2,341.7 973.8,346.3 975.4,346.2 977,348.5 978.6,350.9 980.2,353.1 981.8,353.7 983.4,346.1 985,347 986.6,356.1 988.2,355.8 989.8,352.4 991.4,359.3 993,358.2 994.6,360.2 996.2,362 997.8,355.7 999.4,361.6 1001,362.4 1002.6,364.8 1004.2,355.5 1005.8,367.9 1007.4,368.6 1009,367.9 1010.6,368.9 1012.2,369.8 1013.8,371.2 1015.4,369.4 1017,370.4 1018.6,370 1020.2,372.8 1021.8,371.8 1023.4,375.6 1025,375.3 1026.6,376.4 1028.2,370.6 1029.8,375.9 1031.4,376.4 1033,377.4 1034.6,376.2 1036.2,375.2 1037.8,377.2 1039.4,376.7 1041,376.9 1042.6,376.5 1044.2,377.3 1045.8,378.9 1047.4,376.1 1049,377.1 1050.6,377.1 1052.2,375.9 1053.8,376.9 1055.4,377.5 1057,377.5 1058.6,377.3 1060.2,375.8 1061.8,375.6 1063.4,377 1065,376.8 1066.6,376.6 1068.2,379 1069.8,377.1 1071.4,379.3 1073,379.9 1074.6,377.5 1076.2,380.4 1077.8,379 1079.4,378.6 1081,378.8 1082.6,378.3 1084.2,379.3 1085.8,378.5 1087.4,379.5 1089,379 1090.6,376 1092.2,376.7 1093.8,377 1095.4,376.6 1097,377.2 1098.6,377.6 1100.2,379.3 1101.8,378.4 1103.4,377.8 1105,378.2 1106.6,379 1108.2,379.4 1109.8,378.4 1111.4,380 1113,378.5 1114.6,379.9 1116.2,379.6 1117.8,378.2 1119.4,379.9 1121,378.7 1122.6,379.1 1124.2,379.2 1125.8,379.2 1127.4,378.5 1129,377.2 1130.6,379.3 1132.2,379.1 1133.8,377.4 1135.4,377.2 1137,375.7 1138.6,377.2 1140.2,376 1141.8,374 1143.4,375.4 1145,375.5 1146.6,373.3 1148.2,375.7 1149.8,374.5 1151.4,373.9 1153,376 1154.6,374.9 1156.2,375.8 1157.8,374.9 1159.4,372.9 1161,373.8 1162.6,374.5 1164.2,372.9 1165.8,372.7 1167.4,373.3 1169,371.6 1170.6,371.3 1172.2,371.2 1173.8,371.6 1175.4,369.2 1177,368.4 1178.6,370.2 1180.2,369.1 1181.8,367.9 1183.4,369.4 1185,364.3 1186.6,363.3 1188.2,369.8 1189.8,369.4 1191.4,369.2 1193,367.5 1194.6,366.2 1196.2,367.9 1197.8,367.7 1199.4,366.1 1201,366.1 1202.6,366 1204.2,364.5 1205.8,365.6 1207.4,359.8 1209,359.1 1210.6,363.2 1212.2,364.7 1213.8,364 1215.4,365.3 1217,363.2 1218.6,363.4 1220.2,362.3 1221.8,362.5 1223.4,362.5 1225,360.5 1226.6,359.9 1228.2,360.7 1229.8,359.3 1231.4,359.8 1233,358.3 1234.6,357.7 1236.2,358.8 1237.8,359.6 1239.4,359.1 1241,357.6 1242.6,356.9 1244.2,355.5 1245.8,355.8 1247.4,350.5 1249,352.3 1250.6,354.5 1252.2,356.9 1253.8,355.2 1255.4,354.9 1257,354.1 1258.6,356.2 1260.2,353.5 1261.8,354.5 1263.4,354.1 1265,352.9 1266.6,352.8 1268.2,355 1269.8,354.2 1271.4,353.8 1273,354.2 1274.6,351.4 1276.2,353.1 1277.8,353.1 1279.4,351.2 1281,351.3 1282.6,352 1284.2,348.9 1285.8,349.4 1287.4,346.5 1289,339.1 1290.6,337.4 1292.2,346.4 1293.8,346.2 1295.4,348.1 1297,347.4 1298.6,346.1 1300.2,346.1 1301.8,344.7 1303.4,345.4 1305,343.1 1306.6,343.4 1308.2,343 1309.8,341.8 1311.4,340.2 1313,332 1314.6,332.9 1316.2,339.1 1317.8,341.1 1319.4,340.5 1321,341.8 1322.6,340.9 1324.2,340.1 1325.8,338.5 1327.4,336.9 1329,338.1 1330.6,338.2 1332.2,338.3 1333.8,335.5 1335.4,334.8 1337,337 1338.6,335.7 1340.2,334.4 1341.8,334.7 1343.4,332.3 1345,333.1 1346.6,333 1348.2,332.3 1349.8,330.3 1351.4,329.7 1353,330.7 1354.6,331 1356.2,328.1 1357.8,327.2 1359.4,326.9 1361,328.5 1362.6,326.6 1364.2,326.1 1365.8,327.2 1367.4,325.3 1369,323.5 1370.6,324.2 1372.2,321.3 1373.8,321 1375.4,321.1 1377,318.2 1378.6,316.6 1380.2,316.9 1381.8,314.8 1383.4,315.3 1385,311 1386.6,311.8 1388.2,309" fill="none" stroke="#d2a8ff" stroke-width="1.6" stroke-linejoin="round" stroke-linecap="round" opacity="0.75"/>
<path d="M954.6,332C955,332.1 956.1,333.4 957,332.4C957.9,331.4 958.8,329.4 960,326C961.2,322.6 962.3,318.7 964,312C965.7,305.3 968,295.7 970,286C972,276.3 974.2,264 976,254C977.8,244 979.3,235 981,226C982.7,217 984.5,208.7 986,200C987.5,191.3 988.2,187.9 990,173.9C991.8,159.9 995,129.2 997,115.9C999,102.6 1000.3,100.4 1002,93.9C1003.7,87.4 1005.5,81 1007,77C1008.5,73 1009.7,71.4 1011,70C1012.3,68.6 1013.7,68.4 1015,68.6C1016.3,68.8 1017.5,70.1 1019,71C1020.5,71.9 1022,73.8 1024,74C1026,74.2 1029.3,71.9 1031,72.4C1032.7,72.9 1032.5,73.7 1034,77C1035.5,80.3 1037.3,84.8 1040,92C1042.7,99.2 1047,111.7 1050,120C1053,128.3 1055.7,135.3 1058,142C1060.3,148.7 1062,155 1064,160C1066,165 1068,167.3 1070,172C1072,176.7 1074.2,183.3 1076,188C1077.8,192.7 1079,195.7 1081,200C1083,204.3 1085.8,209.7 1088,214C1090.2,218.3 1092,221.3 1094,226C1096,230.7 1097.3,236.3 1100,242C1102.7,247.7 1106.7,255.3 1110,260C1113.3,264.7 1116.7,266 1120,270C1123.3,274 1126.7,279.7 1130,284C1133.3,288.3 1136.7,292.7 1140,296C1143.3,299.3 1146.3,301.7 1150,304C1153.7,306.3 1159.7,308.8 1162,310C1164.3,311.2 1162,308.8 1164,311C1166,313.2 1170,319.7 1174,323C1178,326.3 1183.3,328.8 1188,331C1192.7,333.2 1197,335.1 1202,336.4C1207,337.7 1213.3,338.9 1218,339C1222.7,339.1 1226,337.6 1230,337C1234,336.4 1239.3,335.5 1242,335.4C1244.7,335.3 1244,336.9 1246,336.6C1248,336.3 1251.3,333.8 1254,333.6C1256.7,333.4 1259,335.7 1262,335.6C1265,335.5 1268.3,333.8 1272,333C1275.7,332.2 1281.3,331 1284,331C1286.7,331 1285.7,332.8 1288,333C1290.3,333.2 1295.3,331.9 1298,332C1300.7,332.1 1301.3,333.9 1304,333.6C1306.7,333.3 1310.3,331.3 1314,330C1317.7,328.7 1322.3,327.5 1326,326C1329.7,324.5 1333,322.8 1336,321C1339,319.2 1341.7,317 1344,315C1346.3,313 1347.8,309.9 1350,309C1352.2,308.1 1354.7,309.7 1357,309.6C1359.3,309.5 1361.5,309.7 1364,308.4C1366.5,307.1 1369.3,304.7 1372,302C1374.7,299.3 1377.7,295.3 1380,292C1382.3,288.7 1384.4,284.8 1386,282C1387.6,279.2 1389,276.2 1389.6,275" fill="none" stroke="#000000" stroke-width="1.4" stroke-linejoin="round" stroke-linecap="round"/>
<path d="M954.6,316C955.5,314.8 957.9,312.3 960,309C962.1,305.7 964.7,301.2 967,296C969.3,290.8 971.8,285 974,278C976.2,271 978,263.3 980,254C982,244.7 984.2,231 986,222C987.8,213 989.3,208.3 991,200C992.7,191.7 994.2,180.7 996,172C997.8,163.3 999.7,154.3 1002,148C1004.3,141.7 1007.3,137.1 1010,134C1012.7,130.9 1015.7,130.4 1018,129.6C1020.3,128.8 1022.2,130.1 1024,129C1025.8,127.9 1027.7,124.4 1029,123C1030.3,121.6 1031,120.4 1032,120.6C1033,120.8 1033.7,120.4 1035,124C1036.3,127.6 1038.2,136.3 1040,142C1041.8,147.7 1043.7,152.3 1046,158C1048.3,163.7 1051.3,170 1054,176C1056.7,182 1059.7,190.3 1062,194C1064.3,197.7 1066,196.7 1068,198C1070,199.3 1072.3,200.7 1074,202C1075.7,203.3 1076,202.7 1078,206C1080,209.3 1083,216 1086,222C1089,228 1093,236.7 1096,242C1099,247.3 1101.7,251.2 1104,254C1106.3,256.8 1107.7,257.6 1110,258.6C1112.3,259.6 1115.3,258.8 1118,260C1120.7,261.2 1123,263 1126,266C1129,269 1132.7,274 1136,278C1139.3,282 1142.7,286.8 1146,290C1149.3,293.2 1153.7,296 1156,297C1158.3,298 1158.5,296.6 1160,296C1161.5,295.4 1163,293.1 1165,293.6C1167,294.1 1168.8,296.4 1172,299C1175.2,301.6 1180.7,307.7 1184,309C1187.3,310.3 1188.7,306.5 1192,307C1195.3,307.5 1199.7,309.8 1204,312C1208.3,314.2 1214.3,319 1218,320C1221.7,321 1223,319.3 1226,318C1229,316.7 1233.7,313.3 1236,312C1238.3,310.7 1238.3,309.7 1240,310C1241.7,310.3 1244,313.7 1246,314C1248,314.3 1249,311.3 1252,311.6C1255,311.9 1260.3,316.1 1264,316C1267.7,315.9 1271,312.7 1274,311C1277,309.3 1279.3,306 1282,306C1284.7,306 1286.7,309.7 1290,311C1293.3,312.3 1298.3,314.4 1302,313.6C1305.7,312.8 1309,308.9 1312,306C1315,303.1 1317.8,297.3 1320,296C1322.2,294.7 1323.5,296.3 1325,298C1326.5,299.7 1327.2,305 1329,306C1330.8,307 1333.2,305.3 1336,304C1338.8,302.7 1343.8,300.3 1346,298C1348.2,295.7 1347.5,291.5 1349,290C1350.5,288.5 1353.7,288.3 1355,289C1356.3,289.7 1355.5,293.7 1357,294C1358.5,294.3 1361.2,292.3 1364,291C1366.8,289.7 1371,287.8 1374,286C1377,284.2 1379.4,283.7 1382,280C1384.6,276.3 1388.3,266.7 1389.6,264" fill="none" stroke="#ff0d0d" stroke-width="1.4" stroke-linejoin="round" stroke-linecap="round"/>
<path d="M954.6,293C955.5,294.5 958.1,299.9 960,302C961.9,304.1 964,305.6 966,305.6C968,305.6 969.7,304.9 972,302C974.3,299.1 977,294.3 980,288C983,281.7 987,269.5 990,264C993,258.5 995.3,256.6 998,255C1000.7,253.4 1003,255 1006,254.4C1009,253.8 1013,253.3 1016,251.6C1019,249.9 1021.3,246.6 1024,244C1026.7,241.4 1029.3,235.7 1032,236C1034.7,236.3 1036.7,244 1040,246C1043.3,248 1048,246 1052,248C1056,250 1060.7,256 1064,258C1067.3,260 1069,258.2 1072,260C1075,261.8 1078,266 1082,269C1086,272 1092.3,274.8 1096,278C1099.7,281.2 1101.3,286 1104,288C1106.7,290 1108.7,287.7 1112,290C1115.3,292.3 1120.3,298.5 1124,302C1127.7,305.5 1130.7,309 1134,311C1137.3,313 1140.7,313.8 1144,314C1147.3,314.2 1151.3,312.9 1154,312.4C1156.7,311.9 1158,310.7 1160,311C1162,311.3 1163.7,312.8 1166,314C1168.3,315.2 1171.3,317.8 1174,318C1176.7,318.2 1179,316.7 1182,315C1185,313.3 1189,308.3 1192,308C1195,307.7 1197,312.3 1200,313C1203,313.7 1206.3,311.6 1210,312.4C1213.7,313.2 1218.7,317.8 1222,317.6C1225.3,317.4 1227,311.9 1230,311C1233,310.1 1236.7,311.9 1240,312C1243.3,312.1 1246.7,311.1 1250,311.4C1253.3,311.7 1257,314.7 1260,313.6C1263,312.5 1265.8,306.5 1268,305C1270.2,303.5 1271.8,303.9 1273,304.4C1274.2,304.9 1273,308.3 1275,308C1277,307.7 1281.8,302.6 1285,302.6C1288.2,302.6 1290.8,306.5 1294,308C1297.2,309.5 1300.7,312.9 1304,311.6C1307.3,310.3 1311.3,303.9 1314,300C1316.7,296.1 1317.8,288.3 1320,288C1322.2,287.7 1324.3,297.2 1327,298C1329.7,298.8 1333.2,293.7 1336,293C1338.8,292.3 1341.3,294.3 1344,293.6C1346.7,292.9 1349.8,288.9 1352,289C1354.2,289.1 1354.7,294.8 1357,294C1359.3,293.2 1362.7,285.5 1366,284.4C1369.3,283.3 1374,288.1 1377,287.4C1380,286.7 1381.9,283.1 1384,280C1386.1,276.9 1388.7,270.8 1389.6,269" fill="none" stroke="#1f44ff" stroke-width="1.4" stroke-linejoin="round" stroke-linecap="round"/>
<path d="M954.6,302C955,303.7 955.8,309.3 957,312C958.2,314.7 959.5,316.7 962,318C964.5,319.3 969,318.2 972,320C975,321.8 977,327.3 980,329C983,330.7 987,328.8 990,330C993,331.2 995,333.8 998,336C1001,338.2 1004,341.9 1008,343C1012,344.1 1017,341.4 1022,342.4C1027,343.4 1033.3,348.1 1038,349C1042.7,349.9 1046.3,346.8 1050,347.6C1053.7,348.4 1056.3,353.3 1060,354C1063.7,354.7 1068.3,352.1 1072,352C1075.7,351.9 1079,354.1 1082,353.6C1085,353.1 1086.3,349.1 1090,349C1093.7,348.9 1100,352.1 1104,353C1108,353.9 1111,354.4 1114,354.4C1117,354.4 1119.3,352.8 1122,353C1124.7,353.2 1126,356.3 1130,355.6C1134,354.9 1142,349.8 1146,349C1150,348.2 1151.7,351 1154,351C1156.3,351 1157.3,349.3 1160,349C1162.7,348.7 1166.7,348.8 1170,349C1173.3,349.2 1176.7,350.2 1180,350C1183.3,349.8 1186.3,348.4 1190,347.6C1193.7,346.8 1198.3,345.1 1202,345C1205.7,344.9 1209,347.2 1212,347C1215,346.8 1217,345.4 1220,344C1223,342.6 1226.7,339.6 1230,338.4C1233.3,337.2 1237.3,337.4 1240,337C1242.7,336.6 1243.7,336.5 1246,336C1248.3,335.5 1251.7,334 1254,334C1256.3,334 1257,336.2 1260,336C1263,335.8 1268,333.8 1272,333C1276,332.2 1280.3,332.1 1284,331C1287.7,329.9 1291,326.6 1294,326.4C1297,326.2 1299,329.9 1302,330C1305,330.1 1308.7,328 1312,327C1315.3,326 1318.7,325.5 1322,324C1325.3,322.5 1328.8,319.5 1332,318C1335.2,316.5 1337.7,314.7 1341,315C1344.3,315.3 1348.8,319.8 1352,319.6C1355.2,319.4 1357.3,315.8 1360,314C1362.7,312.2 1365.3,310.3 1368,309C1370.7,307.7 1373.3,307.7 1376,306C1378.7,304.3 1381.7,300.8 1384,299C1386.3,297.2 1388.7,295.7 1389.6,295" fill="none" stroke="#0a8a1e" stroke-width="1.4" stroke-linejoin="round" stroke-linecap="round"/>
<path d="M954.6,313C955.2,315.5 955.8,323.8 958,328C960.2,332.2 964.3,333.8 968,338C971.7,342.2 975.7,349.3 980,353C984.3,356.7 989,357.3 994,360C999,362.7 1006,367.2 1010,369C1014,370.8 1015,369.7 1018,371C1021,372.3 1024.7,376.2 1028,377C1031.3,377.8 1035.3,375.4 1038,375.6C1040.7,375.8 1041.3,377.9 1044,378C1046.7,378.1 1049.7,376 1054,376C1058.3,376 1065.3,377.3 1070,378C1074.7,378.7 1078.3,380.2 1082,380C1085.7,379.8 1088.7,377.2 1092,377C1095.3,376.8 1098.3,378.6 1102,379C1105.7,379.4 1109.3,379.5 1114,379.4C1118.7,379.3 1124.7,379.6 1130,378.6C1135.3,377.6 1142,374.1 1146,373.6C1150,373.1 1151.7,375.5 1154,375.6C1156.3,375.7 1157,374.8 1160,374C1163,373.2 1168,372 1172,371C1176,370 1180.7,368.4 1184,368C1187.3,367.6 1188,369 1192,368.4C1196,367.8 1204,365 1208,364.4C1212,363.8 1212,365.4 1216,364.6C1220,363.8 1226.7,361 1232,359.6C1237.3,358.2 1242.7,356.9 1248,356C1253.3,355.1 1258.7,354.7 1264,354C1269.3,353.3 1275.7,353.3 1280,352C1284.3,350.7 1287.3,346.8 1290,346C1292.7,345.2 1291.7,348 1296,347C1300.3,346 1312,341.1 1316,340C1320,338.9 1317.3,341.1 1320,340.6C1322.7,340.1 1327.3,338.4 1332,337C1336.7,335.6 1343.3,333.5 1348,332C1352.7,330.5 1356,329.5 1360,328C1364,326.5 1368.7,324.8 1372,323C1375.3,321.2 1377.1,319.5 1380,317C1382.9,314.5 1388,309.5 1389.6,308" fill="none" stroke="#8a14ff" stroke-width="1.4" stroke-linejoin="round" stroke-linecap="round"/>
</g>
<rect x="942" y="28.4" width="447.7" height="360.4" fill="none" stroke="#000" stroke-width="1.3"/>
<line x1="942" y1="388.8" x2="942" y2="381.8" stroke="#000" stroke-width="1.3" />
<text x="942" y="422" font-size="27.5" font-family='"Liberation Sans", sans-serif' fill="#000" text-anchor="middle" >0</text>
<line x1="1087.7" y1="388.8" x2="1087.7" y2="381.8" stroke="#000" stroke-width="1.3" />
<text x="1086.7" y="422" font-size="27.5" font-family='"Liberation Sans", sans-serif' fill="#000" text-anchor="middle" >0.3</text>
<line x1="1233.4" y1="388.8" x2="1233.4" y2="381.8" stroke="#000" stroke-width="1.3" />
<text x="1232.4" y="422" font-size="27.5" font-family='"Liberation Sans", sans-serif' fill="#000" text-anchor="middle" >0.6</text>
<line x1="1379.1" y1="388.8" x2="1379.1" y2="381.8" stroke="#000" stroke-width="1.3" />
<text x="1378.1" y="422" font-size="27.5" font-family='"Liberation Sans", sans-serif' fill="#000" text-anchor="middle" >0.9</text>
<line x1="1014.9" y1="388.8" x2="1014.9" y2="385.3" stroke="#000" stroke-width="1.3" />
<line x1="1160.5" y1="388.8" x2="1160.5" y2="385.3" stroke="#000" stroke-width="1.3" />
<line x1="1306.2" y1="388.8" x2="1306.2" y2="385.3" stroke="#000" stroke-width="1.3" />
<line x1="942" y1="66.4" x2="949" y2="66.4" stroke="#000" stroke-width="1.3" />
<text x="930.2" y="75.2" font-size="27.5" font-family='"Liberation Sans", sans-serif' fill="#000" text-anchor="end" >0.10</text>
<line x1="942" y1="218" x2="949" y2="218" stroke="#000" stroke-width="1.3" />
<text x="930.2" y="226.8" font-size="27.5" font-family='"Liberation Sans", sans-serif' fill="#000" text-anchor="end" >0.06</text>
<line x1="942" y1="369.6" x2="949" y2="369.6" stroke="#000" stroke-width="1.3" />
<text x="930.2" y="378.4" font-size="27.5" font-family='"Liberation Sans", sans-serif' fill="#000" text-anchor="end" >0.02</text>
<line x1="942" y1="142.2" x2="945.5" y2="142.2" stroke="#000" stroke-width="1.3" />
<line x1="942" y1="293.8" x2="945.5" y2="293.8" stroke="#000" stroke-width="1.3" />
<text x="845" y="207.2" font-size="27.5" font-family='"Liberation Sans", sans-serif' fill="#000" text-anchor="middle" transform="rotate(-90 845 207.2)" >Scintillation index</text>
<text x="1168" y="455.8" font-size="27.5" text-anchor="middle" font-family='"Liberation Sans", sans-serif'><tspan font-family='"Liberation Serif", serif' font-style="italic">x</tspan> (mm)</text>
<line x1="1239" y1="65.6" x2="1277" y2="65.6" stroke="#000000" stroke-width="1.5" />
<text x="1290.4" y="73.8" font-size="23" font-family='"Liberation Sans", sans-serif' fill="#000" >0 V</text>
<line x1="1239" y1="95.4" x2="1277" y2="95.4" stroke="#ff0d0d" stroke-width="1.5" />
<text x="1290.4" y="103.6" font-size="23" font-family='"Liberation Sans", sans-serif' fill="#000" >2 V</text>
<line x1="1239" y1="125.4" x2="1277" y2="125.4" stroke="#1f44ff" stroke-width="1.5" />
<text x="1290.4" y="133.6" font-size="23" font-family='"Liberation Sans", sans-serif' fill="#000" >3 V</text>
<line x1="1239" y1="156" x2="1277" y2="156" stroke="#0a8a1e" stroke-width="1.5" />
<text x="1290.4" y="164.2" font-size="23" font-family='"Liberation Sans", sans-serif' fill="#000" >5 V</text>
<line x1="1239" y1="186.2" x2="1277" y2="186.2" stroke="#8a14ff" stroke-width="1.5" />
<text x="1288.5" y="194.4" font-size="23" font-family='"Liberation Sans", sans-serif' fill="#000" >10 V</text>
<path d="M1549.6,77.6C1558,77.6 1587.6,77.6 1600,77.6C1612.4,77.6 1618,77.5 1624,77.7C1630,77.9 1632,78 1636,79C1640,80 1643.3,81.5 1648,84C1652.7,86.5 1659,90.8 1664,94C1669,97.2 1674.7,99.7 1678,103C1681.3,106.3 1682,109.2 1684,114C1686,118.8 1688,126.2 1690,132C1692,137.8 1692.3,141.3 1696,149C1699.7,156.7 1708,171.3 1712,178C1716,184.7 1716.8,184.5 1720,189C1723.2,193.5 1727.1,199.2 1731.3,204.9C1735.5,210.6 1740,217 1744.9,223C1749.8,229 1755.1,235.3 1760.7,241C1766.3,246.7 1773.2,252.4 1778.8,256.9C1784.4,261.4 1789.3,264.7 1794.6,268.2C1799.9,271.7 1804.1,273.9 1810.5,277.7C1816.9,281.5 1825.5,286.8 1833,290.8C1840.5,294.8 1848.2,298.4 1855.7,301.7C1863.2,305 1870.8,307.9 1878.3,310.7C1885.8,313.5 1893.4,316 1900.9,318.4C1908.4,320.8 1916,323.1 1923.5,325.2C1931,327.3 1940.4,329.4 1946.1,330.8C1951.8,332.2 1955.5,332.9 1957.4,333.3" fill="none" stroke="#000" stroke-width="1.6" stroke-linejoin="round"/>
<path d="M1549.6,64.4V82.4M1545.6,64.4H1553.6M1545.6,82.4H1553.6" stroke="#1414c8" stroke-width="1.5" fill="none"/>
<circle cx="1549.6" cy="73.4" r="4.7" fill="#fff" stroke="#1414c8" stroke-width="1.6"/>
<path d="M1565.9,60.6V78.6M1561.9,60.6H1569.9M1561.9,78.6H1569.9" stroke="#1414c8" stroke-width="1.5" fill="none"/>
<circle cx="1565.9" cy="69.6" r="4.7" fill="#fff" stroke="#1414c8" stroke-width="1.6"/>
<path d="M1582.2,62.9V81.9M1578.2,62.9H1586.2M1578.2,81.9H1586.2" stroke="#1414c8" stroke-width="1.5" fill="none"/>
<circle cx="1582.2" cy="72.4" r="4.7" fill="#fff" stroke="#1414c8" stroke-width="1.6"/>
<path d="M1598.5,64.6V82.6M1594.5,64.6H1602.5M1594.5,82.6H1602.5" stroke="#1414c8" stroke-width="1.5" fill="none"/>
<circle cx="1598.5" cy="73.6" r="4.7" fill="#fff" stroke="#1414c8" stroke-width="1.6"/>
<path d="M1614.8,65.1V84.1M1610.8,65.1H1618.8M1610.8,84.1H1618.8" stroke="#1414c8" stroke-width="1.5" fill="none"/>
<circle cx="1614.8" cy="74.6" r="4.7" fill="#fff" stroke="#1414c8" stroke-width="1.6"/>
<path d="M1631.1,68.9V87.9M1627.1,68.9H1635.1M1627.1,87.9H1635.1" stroke="#1414c8" stroke-width="1.5" fill="none"/>
<circle cx="1631.1" cy="78.4" r="4.7" fill="#fff" stroke="#1414c8" stroke-width="1.6"/>
<path d="M1647.4,76.5V95.5M1643.4,76.5H1651.4M1643.4,95.5H1651.4" stroke="#1414c8" stroke-width="1.5" fill="none"/>
<circle cx="1647.4" cy="86" r="4.7" fill="#fff" stroke="#1414c8" stroke-width="1.6"/>
<path d="M1663.7,85.4V103.4M1659.7,85.4H1667.7M1659.7,103.4H1667.7" stroke="#1414c8" stroke-width="1.5" fill="none"/>
<circle cx="1663.7" cy="94.4" r="4.7" fill="#fff" stroke="#1414c8" stroke-width="1.6"/>
<path d="M1680,97V117M1676,97H1684M1676,117H1684" stroke="#1414c8" stroke-width="1.5" fill="none"/>
<circle cx="1680" cy="107" r="4.7" fill="#fff" stroke="#1414c8" stroke-width="1.6"/>
<path d="M1696.3,106V124M1692.3,106H1700.3M1692.3,124H1700.3" stroke="#1414c8" stroke-width="1.5" fill="none"/>
<circle cx="1696.3" cy="115" r="4.7" fill="#fff" stroke="#1414c8" stroke-width="1.6"/>
<path d="M1712.6,138.4V158.4M1708.6,138.4H1716.6M1708.6,158.4H1716.6" stroke="#1414c8" stroke-width="1.5" fill="none"/>
<circle cx="1712.6" cy="148.4" r="4.7" fill="#fff" stroke="#1414c8" stroke-width="1.6"/>
<path d="M1728.9,168V188M1724.9,168H1732.9M1724.9,188H1732.9" stroke="#1414c8" stroke-width="1.5" fill="none"/>
<circle cx="1728.9" cy="178" r="4.7" fill="#fff" stroke="#1414c8" stroke-width="1.6"/>
<path d="M1745.2,192.2V212.2M1741.2,192.2H1749.2M1741.2,212.2H1749.2" stroke="#1414c8" stroke-width="1.5" fill="none"/>
<circle cx="1745.2" cy="202.2" r="4.7" fill="#fff" stroke="#1414c8" stroke-width="1.6"/>
<path d="M1761.4,221.8V240.8M1757.4,221.8H1765.4M1757.4,240.8H1765.4" stroke="#1414c8" stroke-width="1.5" fill="none"/>
<circle cx="1761.4" cy="231.3" r="4.7" fill="#fff" stroke="#1414c8" stroke-width="1.6"/>
<path d="M1777.7,244.9V263.9M1773.7,244.9H1781.7M1773.7,263.9H1781.7" stroke="#1414c8" stroke-width="1.5" fill="none"/>
<circle cx="1777.7" cy="254.4" r="4.7" fill="#fff" stroke="#1414c8" stroke-width="1.6"/>
<path d="M1794,266.8V287.6M1790,266.8H1798M1790,287.6H1798" stroke="#1414c8" stroke-width="1.5" fill="none"/>
<circle cx="1794" cy="277.2" r="4.7" fill="#fff" stroke="#1414c8" stroke-width="1.6"/>
<path d="M1834.8,308V326.6M1830.8,308H1838.8M1830.8,326.6H1838.8" stroke="#1414c8" stroke-width="1.5" fill="none"/>
<circle cx="1834.8" cy="317.3" r="4.7" fill="#fff" stroke="#1414c8" stroke-width="1.6"/>
<path d="M1875.5,332.5V349.5M1871.5,332.5H1879.5M1871.5,349.5H1879.5" stroke="#1414c8" stroke-width="1.5" fill="none"/>
<circle cx="1875.5" cy="341" r="4.7" fill="#fff" stroke="#1414c8" stroke-width="1.6"/>
<path d="M1916.3,350.6V367.6M1912.3,350.6H1920.3M1912.3,367.6H1920.3" stroke="#1414c8" stroke-width="1.5" fill="none"/>
<circle cx="1916.3" cy="359.1" r="4.7" fill="#fff" stroke="#1414c8" stroke-width="1.6"/>
<path d="M1957,363V378.2M1953,363H1961M1953,378.2H1961" stroke="#1414c8" stroke-width="1.5" fill="none"/>
<circle cx="1957" cy="370.6" r="4.7" fill="#fff" stroke="#1414c8" stroke-width="1.6"/>
<rect x="1533.4" y="28.6" width="440.3" height="360" fill="none" stroke="#000" stroke-width="1.3"/>
<line x1="1549.6" y1="388.6" x2="1549.6" y2="381.6" stroke="#000" stroke-width="1.3" />
<text x="1549.6" y="422" font-size="27.5" font-family='"Liberation Sans", sans-serif' fill="#000" text-anchor="middle" >0</text>
<line x1="1631.1" y1="388.6" x2="1631.1" y2="381.6" stroke="#000" stroke-width="1.3" />
<text x="1631.1" y="422" font-size="27.5" font-family='"Liberation Sans", sans-serif' fill="#000" text-anchor="middle" >1</text>
<line x1="1712.6" y1="388.6" x2="1712.6" y2="381.6" stroke="#000" stroke-width="1.3" />
<text x="1712.6" y="422" font-size="27.5" font-family='"Liberation Sans", sans-serif' fill="#000" text-anchor="middle" >2</text>
<line x1="1794" y1="388.6" x2="1794" y2="381.6" stroke="#000" stroke-width="1.3" />
<text x="1794" y="422" font-size="27.5" font-family='"Liberation Sans", sans-serif' fill="#000" text-anchor="middle" >3</text>
<line x1="1875.5" y1="388.6" x2="1875.5" y2="381.6" stroke="#000" stroke-width="1.3" />
<text x="1875.5" y="422" font-size="27.5" font-family='"Liberation Sans", sans-serif' fill="#000" text-anchor="middle" >4</text>
<line x1="1957" y1="388.6" x2="1957" y2="381.6" stroke="#000" stroke-width="1.3" />
<text x="1957" y="422" font-size="27.5" font-family='"Liberation Sans", sans-serif' fill="#000" text-anchor="middle" >5</text>
<line x1="1590.3" y1="388.6" x2="1590.3" y2="385.1" stroke="#000" stroke-width="1.3" />
<line x1="1671.8" y1="388.6" x2="1671.8" y2="385.1" stroke="#000" stroke-width="1.3" />
<line x1="1753.3" y1="388.6" x2="1753.3" y2="385.1" stroke="#000" stroke-width="1.3" />
<line x1="1834.8" y1="388.6" x2="1834.8" y2="385.1" stroke="#000" stroke-width="1.3" />
<line x1="1916.3" y1="388.6" x2="1916.3" y2="385.1" stroke="#000" stroke-width="1.3" />
<text x="1523" y="38.6" font-size="27.5" font-family='"Liberation Sans", sans-serif' fill="#000" text-anchor="end" >0.08</text>
<line x1="1533.4" y1="188.9" x2="1540.4" y2="188.9" stroke="#000" stroke-width="1.3" />
<text x="1523" y="198.9" font-size="27.5" font-family='"Liberation Sans", sans-serif' fill="#000" text-anchor="end" >0.04</text>
<line x1="1533.4" y1="349.2" x2="1540.4" y2="349.2" stroke="#000" stroke-width="1.3" />
<text x="1523" y="359.2" font-size="27.5" font-family='"Liberation Sans", sans-serif' fill="#000" text-anchor="end" >0</text>
<line x1="1533.4" y1="108.8" x2="1536.9" y2="108.8" stroke="#000" stroke-width="1.3" />
<line x1="1533.4" y1="269.1" x2="1536.9" y2="269.1" stroke="#000" stroke-width="1.3" />
<text x="1456.5" y="210.6" font-size="27.5" font-family='"Liberation Sans", sans-serif' fill="#000" text-anchor="middle" transform="rotate(-90 1456.5 210.6)" >Scintillation contrast</text>
<text x="1758.8" y="455.6" font-size="27.5" text-anchor="middle" font-family='"Liberation Sans", sans-serif'>Voltage (V<tspan font-size="13.6" dy="5.3" dx="-2.2">pp</tspan><tspan dy="-5.3" dx="2.6">)</tspan></text>
<circle cx="1797.6" cy="64.6" r="4.7" fill="#fff" stroke="#1414c8" stroke-width="1.6"/>
<text x="1822.3" y="72.8" font-size="23" font-family='"Liberation Sans", sans-serif' fill="#000" >Experiment</text>
<line x1="1780" y1="102.5" x2="1813.7" y2="102.5" stroke="#000" stroke-width="1.6" />
<text x="1822.3" y="110.8" font-size="23" font-family='"Liberation Sans", sans-serif' fill="#000" >Simulation</text>
<g clip-path="url(#cph)"><g filter="url(#hblur)">
<rect x="84.1" y="515.6" width="13" height="357" fill="url(#h0)"/>
<rect x="679.4" y="515.6" width="13" height="357" fill="url(#h0)"/>
<rect x="96.1" y="515.6" width="3.6" height="357" fill="url(#h0)"/>
<rect x="99.1" y="515.6" width="3.6" height="357" fill="url(#h1)"/>
<rect x="102.1" y="515.6" width="3.6" height="357" fill="url(#h2)"/>
<rect x="105.1" y="515.6" width="3.6" height="357" fill="url(#h3)"/>
<rect x="108.1" y="515.6" width="3.6" height="357" fill="url(#h4)"/>
<rect x="111.1" y="515.6" width="3.6" height="357" fill="url(#h5)"/>
<rect x="114.1" y="515.6" width="3.6" height="357" fill="url(#h6)"/>
<rect x="117.1" y="515.6" width="3.6" height="357" fill="url(#h7)"/>
<rect x="120.1" y="515.6" width="3.6" height="357" fill="url(#h8)"/>
<rect x="123.1" y="515.6" width="3.6" height="357" fill="url(#h9)"/>
<rect x="126.1" y="515.6" width="3.6" height="357" fill="url(#h10)"/>
<rect x="129.1" y="515.6" width="3.6" height="357" fill="url(#h11)"/>
<rect x="132.1" y="515.6" width="3.6" height="357" fill="url(#h12)"/>
<rect x="135.1" y="515.6" width="3.6" height="357" fill="url(#h13)"/>
<rect x="138.1" y="515.6" width="3.6" height="357" fill="url(#h14)"/>
<rect x="141.1" y="515.6" width="3.6" height="357" fill="url(#h15)"/>
<rect x="144.1" y="515.6" width="3.6" height="357" fill="url(#h16)"/>
<rect x="147.1" y="515.6" width="3.6" height="357" fill="url(#h17)"/>
<rect x="150.1" y="515.6" width="3.6" height="357" fill="url(#h18)"/>
<rect x="153.1" y="515.6" width="3.6" height="357" fill="url(#h19)"/>
<rect x="156.1" y="515.6" width="3.6" height="357" fill="url(#h20)"/>
<rect x="159.1" y="515.6" width="3.6" height="357" fill="url(#h21)"/>
<rect x="162.1" y="515.6" width="3.6" height="357" fill="url(#h22)"/>
<rect x="165.1" y="515.6" width="3.6" height="357" fill="url(#h23)"/>
<rect x="168.1" y="515.6" width="3.6" height="357" fill="url(#h24)"/>
<rect x="171.1" y="515.6" width="3.6" height="357" fill="url(#h25)"/>
<rect x="174.1" y="515.6" width="3.6" height="357" fill="url(#h26)"/>
<rect x="177.1" y="515.6" width="3.6" height="357" fill="url(#h27)"/>
<rect x="180.1" y="515.6" width="3.6" height="357" fill="url(#h28)"/>
<rect x="183.1" y="515.6" width="3.6" height="357" fill="url(#h29)"/>
<rect x="186.1" y="515.6" width="3.6" height="357" fill="url(#h30)"/>
<rect x="189.1" y="515.6" width="3.6" height="357" fill="url(#h31)"/>
<rect x="192.1" y="515.6" width="3.6" height="357" fill="url(#h32)"/>
<rect x="195.1" y="515.6" width="3.6" height="357" fill="url(#h33)"/>
<rect x="198.1" y="515.6" width="3.6" height="357" fill="url(#h34)"/>
<rect x="201.1" y="515.6" width="3.6" height="357" fill="url(#h35)"/>
<rect x="204.1" y="515.6" width="3.6" height="357" fill="url(#h36)"/>
<rect x="207.1" y="515.6" width="3.6" height="357" fill="url(#h37)"/>
<rect x="210.1" y="515.6" width="3.6" height="357" fill="url(#h38)"/>
<rect x="213.1" y="515.6" width="3.6" height="357" fill="url(#h39)"/>
<rect x="216.1" y="515.6" width="3.6" height="357" fill="url(#h40)"/>
<rect x="219.1" y="515.6" width="3.6" height="357" fill="url(#h41)"/>
<rect x="222.1" y="515.6" width="3.6" height="357" fill="url(#h42)"/>
<rect x="225.1" y="515.6" width="3.6" height="357" fill="url(#h43)"/>
<rect x="228.1" y="515.6" width="3.6" height="357" fill="url(#h44)"/>
<rect x="231.1" y="515.6" width="3.6" height="357" fill="url(#h45)"/>
<rect x="234.1" y="515.6" width="3.6" height="357" fill="url(#h46)"/>
<rect x="237.1" y="515.6" width="3.6" height="357" fill="url(#h47)"/>
<rect x="240.1" y="515.6" width="3.6" height="357" fill="url(#h48)"/>
<rect x="243.1" y="515.6" width="3.6" height="357" fill="url(#h49)"/>
<rect x="246.1" y="515.6" width="3.6" height="357" fill="url(#h50)"/>
<rect x="249.1" y="515.6" width="3.6" height="357" fill="url(#h51)"/>
<rect x="252.1" y="515.6" width="3.6" height="357" fill="url(#h52)"/>
<rect x="255.1" y="515.6" width="3.6" height="357" fill="url(#h53)"/>
<rect x="258.1" y="515.6" width="3.6" height="357" fill="url(#h54)"/>
<rect x="261.1" y="515.6" width="3.6" height="357" fill="url(#h55)"/>
<rect x="264.1" y="515.6" width="3.6" height="357" fill="url(#h56)"/>
<rect x="267.1" y="515.6" width="3.6" height="357" fill="url(#h57)"/>
<rect x="270.1" y="515.6" width="3.6" height="357" fill="url(#h58)"/>
<rect x="273.1" y="515.6" width="3.6" height="357" fill="url(#h59)"/>
<rect x="276.1" y="515.6" width="3.6" height="357" fill="url(#h60)"/>
<rect x="279.1" y="515.6" width="3.6" height="357" fill="url(#h61)"/>
<rect x="282.1" y="515.6" width="3.6" height="357" fill="url(#h62)"/>
<rect x="285.1" y="515.6" width="3.6" height="357" fill="url(#h63)"/>
<rect x="288.1" y="515.6" width="3.6" height="357" fill="url(#h64)"/>
<rect x="291.1" y="515.6" width="3.6" height="357" fill="url(#h65)"/>
<rect x="294.1" y="515.6" width="3.6" height="357" fill="url(#h66)"/>
<rect x="297.1" y="515.6" width="3.6" height="357" fill="url(#h67)"/>
<rect x="300.1" y="515.6" width="3.6" height="357" fill="url(#h68)"/>
<rect x="303.1" y="515.6" width="3.6" height="357" fill="url(#h69)"/>
<rect x="306.1" y="515.6" width="3.6" height="357" fill="url(#h70)"/>
<rect x="309.1" y="515.6" width="3.6" height="357" fill="url(#h71)"/>
<rect x="312.1" y="515.6" width="3.6" height="357" fill="url(#h72)"/>
<rect x="315.1" y="515.6" width="3.6" height="357" fill="url(#h73)"/>
<rect x="318.1" y="515.6" width="3.6" height="357" fill="url(#h74)"/>
<rect x="321.1" y="515.6" width="3.6" height="357" fill="url(#h75)"/>
<rect x="324.1" y="515.6" width="3.6" height="357" fill="url(#h76)"/>
<rect x="327.1" y="515.6" width="3.6" height="357" fill="url(#h77)"/>
<rect x="330.1" y="515.6" width="3.6" height="357" fill="url(#h78)"/>
<rect x="333.1" y="515.6" width="3.6" height="357" fill="url(#h79)"/>
<rect x="336.1" y="515.6" width="3.6" height="357" fill="url(#h80)"/>
<rect x="339.1" y="515.6" width="3.6" height="357" fill="url(#h81)"/>
<rect x="342.1" y="515.6" width="3.6" height="357" fill="url(#h82)"/>
<rect x="345.1" y="515.6" width="3.6" height="357" fill="url(#h83)"/>
<rect x="348.1" y="515.6" width="3.6" height="357" fill="url(#h84)"/>
<rect x="351.1" y="515.6" width="3.6" height="357" fill="url(#h85)"/>
<rect x="354.1" y="515.6" width="3.6" height="357" fill="url(#h86)"/>
<rect x="357.1" y="515.6" width="3.6" height="357" fill="url(#h87)"/>
<rect x="360.1" y="515.6" width="3.6" height="357" fill="url(#h88)"/>
<rect x="363.1" y="515.6" width="3.6" height="357" fill="url(#h89)"/>
<rect x="366.1" y="515.6" width="3.6" height="357" fill="url(#h90)"/>
<rect x="369.1" y="515.6" width="3.6" height="357" fill="url(#h91)"/>
<rect x="372.1" y="515.6" width="3.6" height="357" fill="url(#h92)"/>
<rect x="375.1" y="515.6" width="3.6" height="357" fill="url(#h93)"/>
<rect x="378.1" y="515.6" width="3.6" height="357" fill="url(#h94)"/>
<rect x="381.1" y="515.6" width="3.6" height="357" fill="url(#h95)"/>
<rect x="384.1" y="515.6" width="3.6" height="357" fill="url(#h96)"/>
<rect x="387.1" y="515.6" width="3.6" height="357" fill="url(#h97)"/>
<rect x="390.1" y="515.6" width="3.6" height="357" fill="url(#h96)"/>
<rect x="393.1" y="515.6" width="3.6" height="357" fill="url(#h95)"/>
<rect x="396.1" y="515.6" width="3.6" height="357" fill="url(#h94)"/>
<rect x="399.1" y="515.6" width="3.6" height="357" fill="url(#h93)"/>
<rect x="402.1" y="515.6" width="3.6" height="357" fill="url(#h92)"/>
<rect x="405.1" y="515.6" width="3.6" height="357" fill="url(#h91)"/>
<rect x="408.1" y="515.6" width="3.6" height="357" fill="url(#h90)"/>
<rect x="411.1" y="515.6" width="3.6" height="357" fill="url(#h89)"/>
<rect x="414.1" y="515.6" width="3.6" height="357" fill="url(#h88)"/>
<rect x="417.1" y="515.6" width="3.6" height="357" fill="url(#h87)"/>
<rect x="420.1" y="515.6" width="3.6" height="357" fill="url(#h86)"/>
<rect x="423.1" y="515.6" width="3.6" height="357" fill="url(#h85)"/>
<rect x="426.1" y="515.6" width="3.6" height="357" fill="url(#h84)"/>
<rect x="429.1" y="515.6" width="3.6" height="357" fill="url(#h83)"/>
<rect x="432.1" y="515.6" width="3.6" height="357" fill="url(#h82)"/>
<rect x="435.1" y="515.6" width="3.6" height="357" fill="url(#h81)"/>
<rect x="438.1" y="515.6" width="3.6" height="357" fill="url(#h80)"/>
<rect x="441.1" y="515.6" width="3.6" height="357" fill="url(#h79)"/>
<rect x="444.1" y="515.6" width="3.6" height="357" fill="url(#h78)"/>
<rect x="447.1" y="515.6" width="3.6" height="357" fill="url(#h77)"/>
<rect x="450.1" y="515.6" width="3.6" height="357" fill="url(#h76)"/>
<rect x="453.1" y="515.6" width="3.6" height="357" fill="url(#h75)"/>
<rect x="456.1" y="515.6" width="3.6" height="357" fill="url(#h74)"/>
<rect x="459.1" y="515.6" width="3.6" height="357" fill="url(#h73)"/>
<rect x="462.1" y="515.6" width="3.6" height="357" fill="url(#h72)"/>
<rect x="465.1" y="515.6" width="3.6" height="357" fill="url(#h71)"/>
<rect x="468.1" y="515.6" width="3.6" height="357" fill="url(#h70)"/>
<rect x="471.1" y="515.6" width="3.6" height="357" fill="url(#h69)"/>
<rect x="474.1" y="515.6" width="3.6" height="357" fill="url(#h68)"/>
<rect x="477.1" y="515.6" width="3.6" height="357" fill="url(#h67)"/>
<rect x="480.1" y="515.6" width="3.6" height="357" fill="url(#h66)"/>
<rect x="483.1" y="515.6" width="3.6" height="357" fill="url(#h65)"/>
<rect x="486.1" y="515.6" width="3.6" height="357" fill="url(#h64)"/>
<rect x="489.1" y="515.6" width="3.6" height="357" fill="url(#h63)"/>
<rect x="492.1" y="515.6" width="3.6" height="357" fill="url(#h62)"/>
<rect x="495.1" y="515.6" width="3.6" height="357" fill="url(#h61)"/>
<rect x="498.1" y="515.6" width="3.6" height="357" fill="url(#h60)"/>
<rect x="501.1" y="515.6" width="3.6" height="357" fill="url(#h59)"/>
<rect x="504.1" y="515.6" width="3.6" height="357" fill="url(#h58)"/>
<rect x="507.1" y="515.6" width="3.6" height="357" fill="url(#h57)"/>
<rect x="510.1" y="515.6" width="3.6" height="357" fill="url(#h56)"/>
<rect x="513.1" y="515.6" width="3.6" height="357" fill="url(#h55)"/>
<rect x="516.1" y="515.6" width="3.6" height="357" fill="url(#h54)"/>
<rect x="519.1" y="515.6" width="3.6" height="357" fill="url(#h53)"/>
<rect x="522.1" y="515.6" width="3.6" height="357" fill="url(#h52)"/>
<rect x="525.1" y="515.6" width="3.6" height="357" fill="url(#h51)"/>
<rect x="528.1" y="515.6" width="3.6" height="357" fill="url(#h50)"/>
<rect x="531.1" y="515.6" width="3.6" height="357" fill="url(#h49)"/>
<rect x="534.1" y="515.6" width="3.6" height="357" fill="url(#h48)"/>
<rect x="537.1" y="515.6" width="3.6" height="357" fill="url(#h47)"/>
<rect x="540.1" y="515.6" width="3.6" height="357" fill="url(#h46)"/>
<rect x="543.1" y="515.6" width="3.6" height="357" fill="url(#h45)"/>
<rect x="546.1" y="515.6" width="3.6" height="357" fill="url(#h44)"/>
<rect x="549.1" y="515.6" width="3.6" height="357" fill="url(#h43)"/>
<rect x="552.1" y="515.6" width="3.6" height="357" fill="url(#h42)"/>
<rect x="555.1" y="515.6" width="3.6" height="357" fill="url(#h41)"/>
<rect x="558.1" y="515.6" width="3.6" height="357" fill="url(#h40)"/>
<rect x="561.1" y="515.6" width="3.6" height="357" fill="url(#h39)"/>
<rect x="564.1" y="515.6" width="3.6" height="357" fill="url(#h38)"/>
<rect x="567.1" y="515.6" width="3.6" height="357" fill="url(#h37)"/>
<rect x="570.1" y="515.6" width="3.6" height="357" fill="url(#h36)"/>
<rect x="573.1" y="515.6" width="3.6" height="357" fill="url(#h35)"/>
<rect x="576.1" y="515.6" width="3.6" height="357" fill="url(#h34)"/>
<rect x="579.1" y="515.6" width="3.6" height="357" fill="url(#h33)"/>
<rect x="582.1" y="515.6" width="3.6" height="357" fill="url(#h32)"/>
<rect x="585.1" y="515.6" width="3.6" height="357" fill="url(#h31)"/>
<rect x="588.1" y="515.6" width="3.6" height="357" fill="url(#h30)"/>
<rect x="591.1" y="515.6" width="3.6" height="357" fill="url(#h29)"/>
<rect x="594.1" y="515.6" width="3.6" height="357" fill="url(#h28)"/>
<rect x="597.1" y="515.6" width="3.6" height="357" fill="url(#h27)"/>
<rect x="600.1" y="515.6" width="3.6" height="357" fill="url(#h26)"/>
<rect x="603.1" y="515.6" width="3.6" height="357" fill="url(#h25)"/>
<rect x="606.1" y="515.6" width="3.6" height="357" fill="url(#h24)"/>
<rect x="609.1" y="515.6" width="3.6" height="357" fill="url(#h23)"/>
<rect x="612.1" y="515.6" width="3.6" height="357" fill="url(#h22)"/>
<rect x="615.1" y="515.6" width="3.6" height="357" fill="url(#h21)"/>
<rect x="618.1" y="515.6" width="3.6" height="357" fill="url(#h20)"/>
<rect x="621.1" y="515.6" width="3.6" height="357" fill="url(#h19)"/>
<rect x="624.1" y="515.6" width="3.6" height="357" fill="url(#h18)"/>
<rect x="627.1" y="515.6" width="3.6" height="357" fill="url(#h17)"/>
<rect x="630.1" y="515.6" width="3.6" height="357" fill="url(#h16)"/>
<rect x="633.1" y="515.6" width="3.6" height="357" fill="url(#h15)"/>
<rect x="636.1" y="515.6" width="3.6" height="357" fill="url(#h14)"/>
<rect x="639.1" y="515.6" width="3.6" height="357" fill="url(#h13)"/>
<rect x="642.1" y="515.6" width="3.6" height="357" fill="url(#h12)"/>
<rect x="645.1" y="515.6" width="3.6" height="357" fill="url(#h11)"/>
<rect x="648.1" y="515.6" width="3.6" height="357" fill="url(#h10)"/>
<rect x="651.1" y="515.6" width="3.6" height="357" fill="url(#h9)"/>
<rect x="654.1" y="515.6" width="3.6" height="357" fill="url(#h8)"/>
<rect x="657.1" y="515.6" width="3.6" height="357" fill="url(#h7)"/>
<rect x="660.1" y="515.6" width="3.6" height="357" fill="url(#h6)"/>
<rect x="663.1" y="515.6" width="3.6" height="357" fill="url(#h5)"/>
<rect x="666.1" y="515.6" width="3.6" height="357" fill="url(#h4)"/>
<rect x="669.1" y="515.6" width="3.6" height="357" fill="url(#h3)"/>
<rect x="672.1" y="515.6" width="3.6" height="357" fill="url(#h2)"/>
<rect x="675.1" y="515.6" width="3.6" height="357" fill="url(#h1)"/>
<rect x="678.1" y="515.6" width="2.3" height="357" fill="url(#h0)"/>
</g></g>
<rect x="96.1" y="515.6" width="584.3" height="357" fill="none" stroke="#231815" stroke-width="1.3"/>
<text x="96.4" y="908.4" font-size="27.5" font-family='"Liberation Sans", sans-serif' fill="#231815" text-anchor="middle" >0</text>
<line x1="242.2" y1="872.6" x2="242.2" y2="865.6" stroke="#231815" stroke-width="1.3" />
<text x="241.7" y="908.4" font-size="27.5" font-family='"Liberation Sans", sans-serif' fill="#231815" text-anchor="middle" >45</text>
<line x1="388.2" y1="872.6" x2="388.2" y2="865.6" stroke="#231815" stroke-width="1.3" />
<text x="387.1" y="908.4" font-size="27.5" font-family='"Liberation Sans", sans-serif' fill="#231815" text-anchor="middle" >90</text>
<line x1="534.3" y1="872.6" x2="534.3" y2="865.6" stroke="#231815" stroke-width="1.3" />
<text x="533.5" y="908.4" font-size="27.5" font-family='"Liberation Sans", sans-serif' fill="#231815" text-anchor="middle" >135</text>
<text x="684" y="908.4" font-size="27.5" font-family='"Liberation Sans", sans-serif' fill="#231815" text-anchor="middle" >180</text>
<line x1="169.1" y1="872.6" x2="169.1" y2="869.1" stroke="#231815" stroke-width="1.3" />
<line x1="315.2" y1="872.6" x2="315.2" y2="869.1" stroke="#231815" stroke-width="1.3" />
<line x1="461.3" y1="872.6" x2="461.3" y2="869.1" stroke="#231815" stroke-width="1.3" />
<line x1="607.4" y1="872.6" x2="607.4" y2="869.1" stroke="#231815" stroke-width="1.3" />
<text x="86.3" y="879.2" font-size="27.5" font-family='"Liberation Sans", sans-serif' fill="#231815" text-anchor="end" >0</text>
<line x1="96.1" y1="753.6" x2="103.1" y2="753.6" stroke="#231815" stroke-width="1.3" />
<text x="86.3" y="759.2" font-size="27.5" font-family='"Liberation Sans", sans-serif' fill="#231815" text-anchor="end" >30</text>
<line x1="96.1" y1="634.6" x2="103.1" y2="634.6" stroke="#231815" stroke-width="1.3" />
<text x="86.3" y="640.9" font-size="27.5" font-family='"Liberation Sans", sans-serif' fill="#231815" text-anchor="end" >60</text>
<text x="86.3" y="523.9" font-size="27.5" font-family='"Liberation Sans", sans-serif' fill="#231815" text-anchor="end" >90</text>
<line x1="96.1" y1="813.1" x2="99.6" y2="813.1" stroke="#231815" stroke-width="1.3" />
<line x1="96.1" y1="694.1" x2="99.6" y2="694.1" stroke="#231815" stroke-width="1.3" />
<line x1="96.1" y1="575.1" x2="99.6" y2="575.1" stroke="#231815" stroke-width="1.3" />
<text x="29.5" y="690.4" font-size="27.5" text-anchor="middle" fill="#231815" font-family='"Liberation Sans", sans-serif' transform="rotate(-90 29.5 690.4)"><tspan font-family='"Liberation Serif", serif' font-style="italic">θ</tspan> (degree)</text>
<text x="402" y="941.2" font-size="27.5" text-anchor="middle" fill="#231815" font-family='"Liberation Sans", sans-serif'><tspan font-family='"Liberation Serif", serif' font-style="italic">φ</tspan> (degree)</text>
<rect x="716.5" y="566" width="20.2" height="248.3" fill="url(#cbar)"/>
<text x="727.8" y="547" font-size="27.5" font-family='"Liberation Sans", sans-serif' fill="#231815" text-anchor="middle" >1</text>
<text x="727.8" y="846" font-size="27.5" font-family='"Liberation Sans", sans-serif' fill="#231815" text-anchor="middle" >0</text>
<text x="756" y="691" font-size="27.5" text-anchor="middle" fill="#231815" font-family='"Liberation Sans", sans-serif' transform="rotate(90 756 691)">Formation factor (ρ)</text>
<line x1="131.3" y1="802.6" x2="198.7" y2="730.6" stroke="#000" stroke-width="2.8"/>
<polygon points="206.9,721.8 202.5,735.5 193.5,727.1" fill="#000"/>
<ellipse cx="191.2" cy="767" rx="70.1" ry="10.6" fill="#7b93c4" transform="rotate(-30.71 191.2 767)"/>
<line x1="131.3" y1="802.6" x2="131.3" y2="711.8" stroke="#000" stroke-width="2.8"/>
<polygon points="131.3,699.8 137.5,712.8 125.1,712.8" fill="#000"/>
<polyline points="251.6,735.6 251.6,783.8 131.3,802.6" fill="none" stroke="#7a7176" stroke-width="2.4" stroke-dasharray="8.5 3.2"/>
<line x1="131.3" y1="802.6" x2="240.7" y2="737.6" stroke="#7a7176" stroke-width="2.6"/>
<polygon points="251,731.5 242.7,742.8 237,733.4" fill="#7a7176"/>
<line x1="223.3" y1="826.2" x2="243.5" y2="831.1" stroke="#000" stroke-width="2.8"/>
<polygon points="255.1,833.9 241,836.9 244,824.8" fill="#000"/>
<line x1="131.3" y1="802.6" x2="216.2" y2="824.3" stroke="#8fd14f" stroke-width="2.8"/>
<polygon points="227.8,827.3 213.8,829.4 216.6,818.7" fill="#8fd14f"/>
<path d="M131.3,755.1A47.5,47.5 0 0 1 172,778.1" fill="none" stroke="#a87bc9" stroke-width="1.2"/>
<path d="M200.9,791.7A70.5,70.5 0 0 1 199.6,820" fill="none" stroke="#b58ad0" stroke-width="1.2"/>
<text x="116.4" y="711.1" font-size="25" font-family='"Liberation Serif", serif' fill="#231815" text-anchor="middle" font-style="italic" >z</text>
<text x="216.5" y="728.4" font-size="25" font-family='"Liberation Serif", serif' fill="#231815" text-anchor="middle" font-style="italic" >y</text>
<text x="158.1" y="752.9" font-size="24" font-family='"Liberation Serif", serif' fill="#231815" text-anchor="middle" font-style="italic" >θ</text>
<text x="262.6" y="730.8" font-size="25" font-family='"Liberation Serif", serif' fill="#231815" text-anchor="middle" font-style="italic" >n</text>
<text x="263.4" y="731.5" font-size="25" font-family='"Liberation Serif", serif' fill="#231815" text-anchor="middle" >ˆ</text>
<text x="218" y="810.1" font-size="24" font-family='"Liberation Serif", serif' fill="#231815" text-anchor="middle" font-style="italic" >φ</text>
<text x="203.7" y="848.7" font-size="25" font-family='"Liberation Serif", serif' fill="#231815" text-anchor="middle" font-style="italic" >k</text>
<text x="204" y="845.1" font-size="25" font-family='"Liberation Serif", serif' fill="#231815" text-anchor="middle" >ˆ</text>
<text x="261.8" y="839.2" font-size="25" font-family='"Liberation Serif", serif' fill="#231815" text-anchor="middle" font-style="italic" >x</text>
<polyline points="966,541 1010.8,553.6 1055.5,568 1100.2,602 1145,664.4 1189.8,719 1234.5,782 1279.2,837 1324,824.4 1368.8,817.4" fill="none" stroke="#4f4f4f" stroke-width="1.4" stroke-linejoin="round" stroke-linecap="round" />
<circle cx="966" cy="541" r="5.75" fill="url(#sk)"/>
<circle cx="1010.8" cy="553.6" r="5.75" fill="url(#sk)"/>
<circle cx="1055.5" cy="568" r="5.75" fill="url(#sk)"/>
<circle cx="1100.2" cy="602" r="5.75" fill="url(#sk)"/>
<circle cx="1145" cy="664.4" r="5.75" fill="url(#sk)"/>
<circle cx="1189.8" cy="719" r="5.75" fill="url(#sk)"/>
<circle cx="1234.5" cy="782" r="5.75" fill="url(#sk)"/>
<circle cx="1279.2" cy="837" r="5.75" fill="url(#sk)"/>
<circle cx="1324" cy="824.4" r="5.75" fill="url(#sk)"/>
<circle cx="1368.8" cy="817.4" r="5.75" fill="url(#sk)"/>
<polyline points="966,541 1010.8,559 1055.5,568.5 1100.2,605.6 1145,658 1189.8,717 1234.5,766.6 1279.2,788.4 1324,765 1368.8,754" fill="none" stroke="#ec3940" stroke-width="1.4" stroke-linejoin="round" stroke-linecap="round" />
<circle cx="966" cy="541" r="5.75" fill="url(#sr)"/>
<circle cx="1010.8" cy="559" r="5.75" fill="url(#sr)"/>
<circle cx="1055.5" cy="568.5" r="5.75" fill="url(#sr)"/>
<circle cx="1100.2" cy="605.6" r="5.75" fill="url(#sr)"/>
<circle cx="1145" cy="658" r="5.75" fill="url(#sr)"/>
<circle cx="1189.8" cy="717" r="5.75" fill="url(#sr)"/>
<circle cx="1234.5" cy="766.6" r="5.75" fill="url(#sr)"/>
<circle cx="1279.2" cy="788.4" r="5.75" fill="url(#sr)"/>
<circle cx="1324" cy="765" r="5.75" fill="url(#sr)"/>
<circle cx="1368.8" cy="754" r="5.75" fill="url(#sr)"/>
<polyline points="966,541 1010.8,569 1055.5,575.6 1100.2,587 1145,608 1189.8,631.6 1234.5,648.4 1279.2,650 1324,643.2 1368.8,646.4" fill="none" stroke="#1c62de" stroke-width="1.4" stroke-linejoin="round" stroke-linecap="round" />
<circle cx="966" cy="541" r="5.75" fill="url(#sb)"/>
<circle cx="1010.8" cy="569" r="5.75" fill="url(#sb)"/>
<circle cx="1055.5" cy="575.6" r="5.75" fill="url(#sb)"/>
<circle cx="1100.2" cy="587" r="5.75" fill="url(#sb)"/>
<circle cx="1145" cy="608" r="5.75" fill="url(#sb)"/>
<circle cx="1189.8" cy="631.6" r="5.75" fill="url(#sb)"/>
<circle cx="1234.5" cy="648.4" r="5.75" fill="url(#sb)"/>
<circle cx="1279.2" cy="650" r="5.75" fill="url(#sb)"/>
<circle cx="1324" cy="643.2" r="5.75" fill="url(#sb)"/>
<circle cx="1368.8" cy="646.4" r="5.75" fill="url(#sb)"/>
<polyline points="966,541 1010.8,575 1055.5,587 1100.2,590.4 1145,592 1189.8,592 1234.5,593 1279.2,592.4 1324,592.4 1368.8,594" fill="none" stroke="#b57ee0" stroke-width="1.4" stroke-linejoin="round" stroke-linecap="round" />
<circle cx="966" cy="541" r="5.75" fill="url(#sp)"/>
<circle cx="1010.8" cy="575" r="5.75" fill="url(#sp)"/>
<circle cx="1055.5" cy="587" r="5.75" fill="url(#sp)"/>
<circle cx="1100.2" cy="590.4" r="5.75" fill="url(#sp)"/>
<circle cx="1145" cy="592" r="5.75" fill="url(#sp)"/>
<circle cx="1189.8" cy="592" r="5.75" fill="url(#sp)"/>
<circle cx="1234.5" cy="593" r="5.75" fill="url(#sp)"/>
<circle cx="1279.2" cy="592.4" r="5.75" fill="url(#sp)"/>
<circle cx="1324" cy="592.4" r="5.75" fill="url(#sp)"/>
<circle cx="1368.8" cy="594" r="5.75" fill="url(#sp)"/>
<polyline points="966,541 1010.8,573 1055.5,578 1100.2,574.4 1145,574 1189.8,575 1234.5,578 1279.2,577.6 1324,579 1368.8,586" fill="none" stroke="#12c8c8" stroke-width="1.4" stroke-linejoin="round" stroke-linecap="round" />
<circle cx="966" cy="541" r="5.75" fill="url(#sc)"/>
<circle cx="1010.8" cy="573" r="5.75" fill="url(#sc)"/>
<circle cx="1055.5" cy="578" r="5.75" fill="url(#sc)"/>
<circle cx="1100.2" cy="574.4" r="5.75" fill="url(#sc)"/>
<circle cx="1145" cy="574" r="5.75" fill="url(#sc)"/>
<circle cx="1189.8" cy="575" r="5.75" fill="url(#sc)"/>
<circle cx="1234.5" cy="578" r="5.75" fill="url(#sc)"/>
<circle cx="1279.2" cy="577.6" r="5.75" fill="url(#sc)"/>
<circle cx="1324" cy="579" r="5.75" fill="url(#sc)"/>
<circle cx="1368.8" cy="586" r="5.75" fill="url(#sc)"/>
<polyline points="966,541 1010.8,557 1055.5,563 1100.2,558.6 1145,554 1189.8,556.6 1234.5,565 1279.2,557.6 1324,556.6 1368.8,558.4" fill="none" stroke="#8c8c10" stroke-width="1.4" stroke-linejoin="round" stroke-linecap="round" />
<circle cx="966" cy="541" r="5.75" fill="url(#so)"/>
<circle cx="1010.8" cy="557" r="5.75" fill="url(#so)"/>
<circle cx="1055.5" cy="563" r="5.75" fill="url(#so)"/>
<circle cx="1100.2" cy="558.6" r="5.75" fill="url(#so)"/>
<circle cx="1145" cy="554" r="5.75" fill="url(#so)"/>
<circle cx="1189.8" cy="556.6" r="5.75" fill="url(#so)"/>
<circle cx="1234.5" cy="565" r="5.75" fill="url(#so)"/>
<circle cx="1279.2" cy="557.6" r="5.75" fill="url(#so)"/>
<circle cx="1324" cy="556.6" r="5.75" fill="url(#so)"/>
<circle cx="1368.8" cy="558.4" r="5.75" fill="url(#so)"/>
<polyline points="966,541 1010.8,558 1055.5,567 1100.2,558.4 1145,554.6 1189.8,558.4 1234.5,567 1279.2,559.6 1324,559.6 1368.8,561" fill="none" stroke="#f56a0c" stroke-width="1.4" stroke-linejoin="round" stroke-linecap="round" />
<circle cx="966" cy="541" r="5.75" fill="url(#sg)"/>
<circle cx="1010.8" cy="558" r="5.75" fill="url(#sg)"/>
<circle cx="1055.5" cy="567" r="5.75" fill="url(#sg)"/>
<circle cx="1100.2" cy="558.4" r="5.75" fill="url(#sg)"/>
<circle cx="1145" cy="554.6" r="5.75" fill="url(#sg)"/>
<circle cx="1189.8" cy="558.4" r="5.75" fill="url(#sg)"/>
<circle cx="1234.5" cy="567" r="5.75" fill="url(#sg)"/>
<circle cx="1279.2" cy="559.6" r="5.75" fill="url(#sg)"/>
<circle cx="1324" cy="559.6" r="5.75" fill="url(#sg)"/>
<circle cx="1368.8" cy="561" r="5.75" fill="url(#sg)"/>
<polyline points="966,541 1010.8,562.4 1055.5,561 1100.2,561.4 1145,563 1189.8,562.4 1234.5,563.4 1279.2,564 1324,566 1368.8,566.4" fill="none" stroke="#6a9bd0" stroke-width="1.4" stroke-linejoin="round" stroke-linecap="round" />
<circle cx="966" cy="541" r="5.75" fill="url(#su)"/>
<circle cx="1010.8" cy="562.4" r="5.75" fill="url(#su)"/>
<circle cx="1055.5" cy="561" r="5.75" fill="url(#su)"/>
<circle cx="1100.2" cy="561.4" r="5.75" fill="url(#su)"/>
<circle cx="1145" cy="563" r="5.75" fill="url(#su)"/>
<circle cx="1189.8" cy="562.4" r="5.75" fill="url(#su)"/>
<circle cx="1234.5" cy="563.4" r="5.75" fill="url(#su)"/>
<circle cx="1279.2" cy="564" r="5.75" fill="url(#su)"/>
<circle cx="1324" cy="566" r="5.75" fill="url(#su)"/>
<circle cx="1368.8" cy="566.4" r="5.75" fill="url(#su)"/>
<rect x="939.6" y="515.6" width="449.8" height="356.8" fill="none" stroke="#231815" stroke-width="1.3"/>
<line x1="966" y1="872.4" x2="966" y2="865.4" stroke="#231815" stroke-width="1.3" />
<text x="966" y="908.4" font-size="27.5" font-family='"Liberation Sans", sans-serif' fill="#231815" text-anchor="middle" >0</text>
<line x1="1071.7" y1="872.4" x2="1071.7" y2="865.4" stroke="#231815" stroke-width="1.3" />
<text x="1068.2" y="908.4" font-size="27.5" font-family='"Liberation Sans", sans-serif' fill="#231815" text-anchor="middle" >0.04</text>
<line x1="1177.4" y1="872.4" x2="1177.4" y2="865.4" stroke="#231815" stroke-width="1.3" />
<text x="1173.9" y="908.4" font-size="27.5" font-family='"Liberation Sans", sans-serif' fill="#231815" text-anchor="middle" >0.08</text>
<line x1="1283.1" y1="872.4" x2="1283.1" y2="865.4" stroke="#231815" stroke-width="1.3" />
<text x="1279.6" y="908.4" font-size="27.5" font-family='"Liberation Sans", sans-serif' fill="#231815" text-anchor="middle" >0.12</text>
<line x1="1388.8" y1="872.4" x2="1388.8" y2="865.4" stroke="#231815" stroke-width="1.3" />
<text x="1385.3" y="908.4" font-size="27.5" font-family='"Liberation Sans", sans-serif' fill="#231815" text-anchor="middle" >0.16</text>
<line x1="1018.9" y1="872.4" x2="1018.9" y2="868.9" stroke="#231815" stroke-width="1.3" />
<line x1="1124.5" y1="872.4" x2="1124.5" y2="868.9" stroke="#231815" stroke-width="1.3" />
<line x1="1230.2" y1="872.4" x2="1230.2" y2="868.9" stroke="#231815" stroke-width="1.3" />
<line x1="1336" y1="872.4" x2="1336" y2="868.9" stroke="#231815" stroke-width="1.3" />
<line x1="939.6" y1="541" x2="946.6" y2="541" stroke="#231815" stroke-width="1.3" />
<text x="926.3" y="547.8" font-size="27.5" font-family='"Liberation Sans", sans-serif' fill="#231815" text-anchor="end" >1.00</text>
<line x1="939.6" y1="643" x2="946.6" y2="643" stroke="#231815" stroke-width="1.3" />
<text x="926.3" y="649.8" font-size="27.5" font-family='"Liberation Sans", sans-serif' fill="#231815" text-anchor="end" >0.98</text>
<line x1="939.6" y1="745" x2="946.6" y2="745" stroke="#231815" stroke-width="1.3" />
<text x="926.3" y="751.8" font-size="27.5" font-family='"Liberation Sans", sans-serif' fill="#231815" text-anchor="end" >0.96</text>
<line x1="939.6" y1="847" x2="946.6" y2="847" stroke="#231815" stroke-width="1.3" />
<text x="926.3" y="853.8" font-size="27.5" font-family='"Liberation Sans", sans-serif' fill="#231815" text-anchor="end" >0.94</text>
<line x1="939.6" y1="592" x2="943.1" y2="592" stroke="#231815" stroke-width="1.3" />
<line x1="939.6" y1="694" x2="943.1" y2="694" stroke="#231815" stroke-width="1.3" />
<line x1="939.6" y1="796" x2="943.1" y2="796" stroke="#231815" stroke-width="1.3" />
<text x="845" y="685.7" font-size="27.5" font-family='"Liberation Sans", sans-serif' fill="#231815" text-anchor="middle" transform="rotate(-90 845 685.7)" >Fidelity</text>
<text x="1176.2" y="941.6" font-size="27.5" text-anchor="middle" fill="#231815" font-family='"Liberation Sans", sans-serif'><tspan font-family='"Liberation Serif", serif' font-style="italic">x</tspan> (mm)</text>
<line x1="970.2" y1="616" x2="1008.4" y2="616" stroke="#4f4f4f" stroke-width="1.4" />
<circle cx="989.2" cy="616" r="5.75" fill="url(#sk)"/>
<text x="1018.6" y="624.2" font-size="23" font-family='"Liberation Sans", sans-serif' fill="#231815" >0 V</text>
<line x1="970.2" y1="648" x2="1008.4" y2="648" stroke="#ec3940" stroke-width="1.4" />
<circle cx="989.2" cy="648" r="5.75" fill="url(#sr)"/>
<text x="1018.6" y="656.2" font-size="23" font-family='"Liberation Sans", sans-serif' fill="#231815" >2 V</text>
<line x1="970.2" y1="680" x2="1008.4" y2="680" stroke="#1c62de" stroke-width="1.4" />
<circle cx="989.2" cy="680" r="5.75" fill="url(#sb)"/>
<text x="1018.6" y="688.2" font-size="23" font-family='"Liberation Sans", sans-serif' fill="#231815" >3 V</text>
<line x1="970.2" y1="712" x2="1008.4" y2="712" stroke="#b57ee0" stroke-width="1.4" />
<circle cx="989.2" cy="712" r="5.75" fill="url(#sp)"/>
<text x="1018.6" y="720.2" font-size="23" font-family='"Liberation Sans", sans-serif' fill="#231815" >5 V</text>
<line x1="970.2" y1="744" x2="1008.4" y2="744" stroke="#12c8c8" stroke-width="1.4" />
<circle cx="989.2" cy="744" r="5.75" fill="url(#sc)"/>
<text x="1018.6" y="752.2" font-size="23" font-family='"Liberation Sans", sans-serif' fill="#231815" >7 V</text>
<line x1="970.2" y1="776" x2="1008.4" y2="776" stroke="#8c8c10" stroke-width="1.4" />
<circle cx="989.2" cy="776" r="5.75" fill="url(#so)"/>
<text x="1018.6" y="784.2" font-size="23" font-family='"Liberation Sans", sans-serif' fill="#231815" >9 V</text>
<line x1="970.2" y1="808" x2="1008.4" y2="808" stroke="#f56a0c" stroke-width="1.4" />
<circle cx="989.2" cy="808" r="5.75" fill="url(#sg)"/>
<text x="1016.2" y="816.2" font-size="23" font-family='"Liberation Sans", sans-serif' fill="#231815" >10 V</text>
<line x1="970.2" y1="840" x2="1008.4" y2="840" stroke="#6a9bd0" stroke-width="1.4" />
<circle cx="989.2" cy="840" r="5.75" fill="url(#su)"/>
<text x="1018.6" y="848.2" font-size="23" font-family='"Liberation Sans", sans-serif' fill="#231815" >Uniform cell</text>
<polyline points="1557,863 1580.5,863 1603.9,856.4 1627.4,848 1650.9,823.6 1674.3,804.4 1697.8,775 1721.3,731 1744.8,677 1768.2,624 1791.7,575.4 1815.2,555.4 1838.6,541 1862.1,536 1885.6,536 1909,541 1932.5,541 1956,541" fill="none" stroke="#4f4f4f" stroke-width="1.4" stroke-linejoin="round" stroke-linecap="round" />
<circle cx="1557" cy="863" r="5.75" fill="url(#sk)"/>
<circle cx="1580.5" cy="863" r="5.75" fill="url(#sk)"/>
<circle cx="1603.9" cy="856.4" r="5.75" fill="url(#sk)"/>
<circle cx="1627.4" cy="848" r="5.75" fill="url(#sk)"/>
<circle cx="1650.9" cy="823.6" r="5.75" fill="url(#sk)"/>
<circle cx="1674.3" cy="804.4" r="5.75" fill="url(#sk)"/>
<circle cx="1697.8" cy="775" r="5.75" fill="url(#sk)"/>
<circle cx="1721.3" cy="731" r="5.75" fill="url(#sk)"/>
<circle cx="1744.8" cy="677" r="5.75" fill="url(#sk)"/>
<circle cx="1768.2" cy="624" r="5.75" fill="url(#sk)"/>
<circle cx="1791.7" cy="575.4" r="5.75" fill="url(#sk)"/>
<circle cx="1815.2" cy="555.4" r="5.75" fill="url(#sk)"/>
<circle cx="1838.6" cy="541" r="5.75" fill="url(#sk)"/>
<circle cx="1862.1" cy="536" r="5.75" fill="url(#sk)"/>
<circle cx="1885.6" cy="536" r="5.75" fill="url(#sk)"/>
<circle cx="1909" cy="541" r="5.75" fill="url(#sk)"/>
<circle cx="1932.5" cy="541" r="5.75" fill="url(#sk)"/>
<circle cx="1956" cy="541" r="5.75" fill="url(#sk)"/>
<polyline points="1557,863 1580.5,863 1603.9,863 1627.4,848 1650.9,843 1674.3,838.4 1697.8,804.4 1721.3,784.4 1744.8,760.4 1768.2,716.4 1791.7,668 1815.2,638.4 1838.6,619 1862.1,599.4 1885.6,585 1909,570.4 1932.5,575.4 1956,570.4" fill="none" stroke="#ec3940" stroke-width="1.4" stroke-linejoin="round" stroke-linecap="round" />
<circle cx="1557" cy="863" r="5.75" fill="url(#sr)"/>
<circle cx="1580.5" cy="863" r="5.75" fill="url(#sr)"/>
<circle cx="1603.9" cy="863" r="5.75" fill="url(#sr)"/>
<circle cx="1627.4" cy="848" r="5.75" fill="url(#sr)"/>
<circle cx="1650.9" cy="843" r="5.75" fill="url(#sr)"/>
<circle cx="1674.3" cy="838.4" r="5.75" fill="url(#sr)"/>
<circle cx="1697.8" cy="804.4" r="5.75" fill="url(#sr)"/>
<circle cx="1721.3" cy="784.4" r="5.75" fill="url(#sr)"/>
<circle cx="1744.8" cy="760.4" r="5.75" fill="url(#sr)"/>
<circle cx="1768.2" cy="716.4" r="5.75" fill="url(#sr)"/>
<circle cx="1791.7" cy="668" r="5.75" fill="url(#sr)"/>
<circle cx="1815.2" cy="638.4" r="5.75" fill="url(#sr)"/>
<circle cx="1838.6" cy="619" r="5.75" fill="url(#sr)"/>
<circle cx="1862.1" cy="599.4" r="5.75" fill="url(#sr)"/>
<circle cx="1885.6" cy="585" r="5.75" fill="url(#sr)"/>
<circle cx="1909" cy="570.4" r="5.75" fill="url(#sr)"/>
<circle cx="1932.5" cy="575.4" r="5.75" fill="url(#sr)"/>
<circle cx="1956" cy="570.4" r="5.75" fill="url(#sr)"/>
<polyline points="1557,863 1580.5,863 1603.9,863 1627.4,853 1650.9,854 1674.3,848 1697.8,833 1721.3,809.4 1744.8,804.4 1768.2,784.4 1791.7,760.4 1815.2,736 1838.6,716.4 1862.1,702 1885.6,682.4 1909,658.4 1932.5,648.4 1956,648.4" fill="none" stroke="#1c62de" stroke-width="1.4" stroke-linejoin="round" stroke-linecap="round" />
<circle cx="1557" cy="863" r="5.75" fill="url(#sb)"/>
<circle cx="1580.5" cy="863" r="5.75" fill="url(#sb)"/>
<circle cx="1603.9" cy="863" r="5.75" fill="url(#sb)"/>
<circle cx="1627.4" cy="853" r="5.75" fill="url(#sb)"/>
<circle cx="1650.9" cy="854" r="5.75" fill="url(#sb)"/>
<circle cx="1674.3" cy="848" r="5.75" fill="url(#sb)"/>
<circle cx="1697.8" cy="833" r="5.75" fill="url(#sb)"/>
<circle cx="1721.3" cy="809.4" r="5.75" fill="url(#sb)"/>
<circle cx="1744.8" cy="804.4" r="5.75" fill="url(#sb)"/>
<circle cx="1768.2" cy="784.4" r="5.75" fill="url(#sb)"/>
<circle cx="1791.7" cy="760.4" r="5.75" fill="url(#sb)"/>
<circle cx="1815.2" cy="736" r="5.75" fill="url(#sb)"/>
<circle cx="1838.6" cy="716.4" r="5.75" fill="url(#sb)"/>
<circle cx="1862.1" cy="702" r="5.75" fill="url(#sb)"/>
<circle cx="1885.6" cy="682.4" r="5.75" fill="url(#sb)"/>
<circle cx="1909" cy="658.4" r="5.75" fill="url(#sb)"/>
<circle cx="1932.5" cy="648.4" r="5.75" fill="url(#sb)"/>
<circle cx="1956" cy="648.4" r="5.75" fill="url(#sb)"/>
<polyline points="1557,863 1580.5,863 1603.9,863 1627.4,863 1650.9,863 1674.3,863 1697.8,858 1721.3,857 1744.8,843 1768.2,833 1791.7,828.4 1815.2,818.6 1838.6,814 1862.1,814 1885.6,814 1909,809.4 1932.5,804.4 1956,804.4" fill="none" stroke="#35a86b" stroke-width="1.4" stroke-linejoin="round" stroke-linecap="round" />
<circle cx="1557" cy="863" r="5.75" fill="url(#sG)"/>
<circle cx="1580.5" cy="863" r="5.75" fill="url(#sG)"/>
<circle cx="1603.9" cy="863" r="5.75" fill="url(#sG)"/>
<circle cx="1627.4" cy="863" r="5.75" fill="url(#sG)"/>
<circle cx="1650.9" cy="863" r="5.75" fill="url(#sG)"/>
<circle cx="1674.3" cy="863" r="5.75" fill="url(#sG)"/>
<circle cx="1697.8" cy="858" r="5.75" fill="url(#sG)"/>
<circle cx="1721.3" cy="857" r="5.75" fill="url(#sG)"/>
<circle cx="1744.8" cy="843" r="5.75" fill="url(#sG)"/>
<circle cx="1768.2" cy="833" r="5.75" fill="url(#sG)"/>
<circle cx="1791.7" cy="828.4" r="5.75" fill="url(#sG)"/>
<circle cx="1815.2" cy="818.6" r="5.75" fill="url(#sG)"/>
<circle cx="1838.6" cy="814" r="5.75" fill="url(#sG)"/>
<circle cx="1862.1" cy="814" r="5.75" fill="url(#sG)"/>
<circle cx="1885.6" cy="814" r="5.75" fill="url(#sG)"/>
<circle cx="1909" cy="809.4" r="5.75" fill="url(#sG)"/>
<circle cx="1932.5" cy="804.4" r="5.75" fill="url(#sG)"/>
<circle cx="1956" cy="804.4" r="5.75" fill="url(#sG)"/>
<polyline points="1557,863 1580.5,863 1603.9,863 1627.4,852.4 1650.9,843 1674.3,857 1697.8,856.4 1721.3,863 1744.8,858 1768.2,858 1791.7,848 1815.2,858 1838.6,862.4 1862.1,848 1885.6,853 1909,848 1932.5,848 1956,848" fill="none" stroke="#b57ee0" stroke-width="1.4" stroke-linejoin="round" stroke-linecap="round" />
<circle cx="1557" cy="863" r="5.75" fill="url(#sp)"/>
<circle cx="1580.5" cy="863" r="5.75" fill="url(#sp)"/>
<circle cx="1603.9" cy="863" r="5.75" fill="url(#sp)"/>
<circle cx="1627.4" cy="852.4" r="5.75" fill="url(#sp)"/>
<circle cx="1650.9" cy="843" r="5.75" fill="url(#sp)"/>
<circle cx="1674.3" cy="857" r="5.75" fill="url(#sp)"/>
<circle cx="1697.8" cy="856.4" r="5.75" fill="url(#sp)"/>
<circle cx="1721.3" cy="863" r="5.75" fill="url(#sp)"/>
<circle cx="1744.8" cy="858" r="5.75" fill="url(#sp)"/>
<circle cx="1768.2" cy="858" r="5.75" fill="url(#sp)"/>
<circle cx="1791.7" cy="848" r="5.75" fill="url(#sp)"/>
<circle cx="1815.2" cy="858" r="5.75" fill="url(#sp)"/>
<circle cx="1838.6" cy="862.4" r="5.75" fill="url(#sp)"/>
<circle cx="1862.1" cy="848" r="5.75" fill="url(#sp)"/>
<circle cx="1885.6" cy="853" r="5.75" fill="url(#sp)"/>
<circle cx="1909" cy="848" r="5.75" fill="url(#sp)"/>
<circle cx="1932.5" cy="848" r="5.75" fill="url(#sp)"/>
<circle cx="1956" cy="848" r="5.75" fill="url(#sp)"/>
<polyline points="1557,863 1580.5,863 1603.9,863 1627.4,863 1650.9,848 1674.3,863 1697.8,863 1721.3,863 1744.8,862.4 1768.2,858 1791.7,858 1815.2,859 1838.6,857 1862.1,853 1885.6,859 1909,863 1932.5,853 1956,863" fill="none" stroke="#c8960c" stroke-width="1.4" stroke-linejoin="round" stroke-linecap="round" />
<circle cx="1557" cy="863" r="5.75" fill="url(#sy)"/>
<circle cx="1580.5" cy="863" r="5.75" fill="url(#sy)"/>
<circle cx="1603.9" cy="863" r="5.75" fill="url(#sy)"/>
<circle cx="1627.4" cy="863" r="5.75" fill="url(#sy)"/>
<circle cx="1650.9" cy="848" r="5.75" fill="url(#sy)"/>
<circle cx="1674.3" cy="863" r="5.75" fill="url(#sy)"/>
<circle cx="1697.8" cy="863" r="5.75" fill="url(#sy)"/>
<circle cx="1721.3" cy="863" r="5.75" fill="url(#sy)"/>
<circle cx="1744.8" cy="862.4" r="5.75" fill="url(#sy)"/>
<circle cx="1768.2" cy="858" r="5.75" fill="url(#sy)"/>
<circle cx="1791.7" cy="858" r="5.75" fill="url(#sy)"/>
<circle cx="1815.2" cy="859" r="5.75" fill="url(#sy)"/>
<circle cx="1838.6" cy="857" r="5.75" fill="url(#sy)"/>
<circle cx="1862.1" cy="853" r="5.75" fill="url(#sy)"/>
<circle cx="1885.6" cy="859" r="5.75" fill="url(#sy)"/>
<circle cx="1909" cy="863" r="5.75" fill="url(#sy)"/>
<circle cx="1932.5" cy="853" r="5.75" fill="url(#sy)"/>
<circle cx="1956" cy="863" r="5.75" fill="url(#sy)"/>
<polyline points="1557,863 1580.5,863 1603.9,863 1627.4,863 1650.9,863 1674.3,863 1697.8,863 1721.3,863 1744.8,853 1768.2,848 1791.7,858 1815.2,853 1838.6,862.4 1862.1,853 1885.6,853 1909,862.4 1932.5,853 1956,862.4" fill="none" stroke="#12c8c8" stroke-width="1.4" stroke-linejoin="round" stroke-linecap="round" />
<circle cx="1557" cy="863" r="5.75" fill="url(#sc)"/>
<circle cx="1580.5" cy="863" r="5.75" fill="url(#sc)"/>
<circle cx="1603.9" cy="863" r="5.75" fill="url(#sc)"/>
<circle cx="1627.4" cy="863" r="5.75" fill="url(#sc)"/>
<circle cx="1650.9" cy="863" r="5.75" fill="url(#sc)"/>
<circle cx="1674.3" cy="863" r="5.75" fill="url(#sc)"/>
<circle cx="1697.8" cy="863" r="5.75" fill="url(#sc)"/>
<circle cx="1721.3" cy="863" r="5.75" fill="url(#sc)"/>
<circle cx="1744.8" cy="853" r="5.75" fill="url(#sc)"/>
<circle cx="1768.2" cy="848" r="5.75" fill="url(#sc)"/>
<circle cx="1791.7" cy="858" r="5.75" fill="url(#sc)"/>
<circle cx="1815.2" cy="853" r="5.75" fill="url(#sc)"/>
<circle cx="1838.6" cy="862.4" r="5.75" fill="url(#sc)"/>
<circle cx="1862.1" cy="853" r="5.75" fill="url(#sc)"/>
<circle cx="1885.6" cy="853" r="5.75" fill="url(#sc)"/>
<circle cx="1909" cy="862.4" r="5.75" fill="url(#sc)"/>
<circle cx="1932.5" cy="853" r="5.75" fill="url(#sc)"/>
<circle cx="1956" cy="862.4" r="5.75" fill="url(#sc)"/>
<rect x="1533.6" y="515.6" width="444" height="356.8" fill="none" stroke="#231815" stroke-width="1.3"/>
<text x="1534.6" y="908.4" font-size="27.5" font-family='"Liberation Sans", sans-serif' fill="#231815" text-anchor="middle" >0</text>
<line x1="1644.6" y1="872.4" x2="1644.6" y2="865.4" stroke="#231815" stroke-width="1.3" />
<text x="1641.1" y="908.4" font-size="27.5" font-family='"Liberation Sans", sans-serif' fill="#231815" text-anchor="middle" >0.04</text>
<line x1="1755.6" y1="872.4" x2="1755.6" y2="865.4" stroke="#231815" stroke-width="1.3" />
<text x="1752.1" y="908.4" font-size="27.5" font-family='"Liberation Sans", sans-serif' fill="#231815" text-anchor="middle" >0.08</text>
<line x1="1866.6" y1="872.4" x2="1866.6" y2="865.4" stroke="#231815" stroke-width="1.3" />
<text x="1863.1" y="908.4" font-size="27.5" font-family='"Liberation Sans", sans-serif' fill="#231815" text-anchor="middle" >0.12</text>
<line x1="1977.6" y1="872.4" x2="1977.6" y2="865.4" stroke="#231815" stroke-width="1.3" />
<text x="1974.1" y="908.4" font-size="27.5" font-family='"Liberation Sans", sans-serif' fill="#231815" text-anchor="middle" >0.16</text>
<line x1="1589.1" y1="872.4" x2="1589.1" y2="868.9" stroke="#231815" stroke-width="1.3" />
<line x1="1700.1" y1="872.4" x2="1700.1" y2="868.9" stroke="#231815" stroke-width="1.3" />
<line x1="1811.1" y1="872.4" x2="1811.1" y2="868.9" stroke="#231815" stroke-width="1.3" />
<line x1="1922.1" y1="872.4" x2="1922.1" y2="868.9" stroke="#231815" stroke-width="1.3" />
<line x1="1533.6" y1="564.8" x2="1540.6" y2="564.8" stroke="#231815" stroke-width="1.3" />
<text x="1518.6" y="571.8" font-size="27.5" font-family='"Liberation Sans", sans-serif' fill="#231815" text-anchor="end" >6</text>
<line x1="1533.6" y1="664.1" x2="1540.6" y2="664.1" stroke="#231815" stroke-width="1.3" />
<text x="1518.6" y="671.1" font-size="27.5" font-family='"Liberation Sans", sans-serif' fill="#231815" text-anchor="end" >4</text>
<line x1="1533.6" y1="763.3" x2="1540.6" y2="763.3" stroke="#231815" stroke-width="1.3" />
<text x="1518.6" y="770.3" font-size="27.5" font-family='"Liberation Sans", sans-serif' fill="#231815" text-anchor="end" >2</text>
<line x1="1533.6" y1="862.6" x2="1540.6" y2="862.6" stroke="#231815" stroke-width="1.3" />
<text x="1518.6" y="869.6" font-size="27.5" font-family='"Liberation Sans", sans-serif' fill="#231815" text-anchor="end" >0</text>
<line x1="1533.6" y1="614.5" x2="1537.1" y2="614.5" stroke="#231815" stroke-width="1.3" />
<line x1="1533.6" y1="713.7" x2="1537.1" y2="713.7" stroke="#231815" stroke-width="1.3" />
<line x1="1533.6" y1="813" x2="1537.1" y2="813" stroke="#231815" stroke-width="1.3" />
<text x="1457" y="684.4" font-size="27.5" text-anchor="middle" fill="#231815" font-family='"Liberation Sans", sans-serif' transform="rotate(-90 1457 684.4)">Branch density (mm<tspan font-size="16" dy="-10">-1</tspan><tspan dy="10">)</tspan></text>
<text x="1757.5" y="941.6" font-size="27.5" text-anchor="middle" fill="#231815" font-family='"Liberation Sans", sans-serif'><tspan font-family='"Liberation Serif", serif' font-style="italic">x</tspan> (mm)</text>
<line x1="1557.4" y1="566" x2="1595.6" y2="566" stroke="#4f4f4f" stroke-width="1.4" />
<circle cx="1576.4" cy="566" r="5.75" fill="url(#sk)"/>
<text x="1605" y="574.2" font-size="23" font-family='"Liberation Sans", sans-serif' fill="#231815" >0 V</text>
<line x1="1557.4" y1="600" x2="1595.6" y2="600" stroke="#ec3940" stroke-width="1.4" />
<circle cx="1576.4" cy="600" r="5.75" fill="url(#sr)"/>
<text x="1605" y="608.2" font-size="23" font-family='"Liberation Sans", sans-serif' fill="#231815" >2 V</text>
<line x1="1557.4" y1="634" x2="1595.6" y2="634" stroke="#1c62de" stroke-width="1.4" />
<circle cx="1576.4" cy="634" r="5.75" fill="url(#sb)"/>
<text x="1605" y="642.2" font-size="23" font-family='"Liberation Sans", sans-serif' fill="#231815" >3 V</text>
<line x1="1557.4" y1="668" x2="1595.6" y2="668" stroke="#35a86b" stroke-width="1.4" />
<circle cx="1576.4" cy="668" r="5.75" fill="url(#sG)"/>
<text x="1605" y="676.2" font-size="23" font-family='"Liberation Sans", sans-serif' fill="#231815" >5 V</text>
<line x1="1557.4" y1="702" x2="1595.6" y2="702" stroke="#b57ee0" stroke-width="1.4" />
<circle cx="1576.4" cy="702" r="5.75" fill="url(#sp)"/>
<text x="1605" y="710.2" font-size="23" font-family='"Liberation Sans", sans-serif' fill="#231815" >7 V</text>
<line x1="1557.4" y1="736" x2="1595.6" y2="736" stroke="#c8960c" stroke-width="1.4" />
<circle cx="1576.4" cy="736" r="5.75" fill="url(#sy)"/>
<text x="1605" y="744.2" font-size="23" font-family='"Liberation Sans", sans-serif' fill="#231815" >9 V</text>
<line x1="1557.4" y1="770" x2="1595.6" y2="770" stroke="#12c8c8" stroke-width="1.4" />
<circle cx="1576.4" cy="770" r="5.75" fill="url(#sc)"/>
<text x="1603" y="778.2" font-size="23" font-family='"Liberation Sans", sans-serif' fill="#231815" >10 V</text>
</svg>
</body></html>
